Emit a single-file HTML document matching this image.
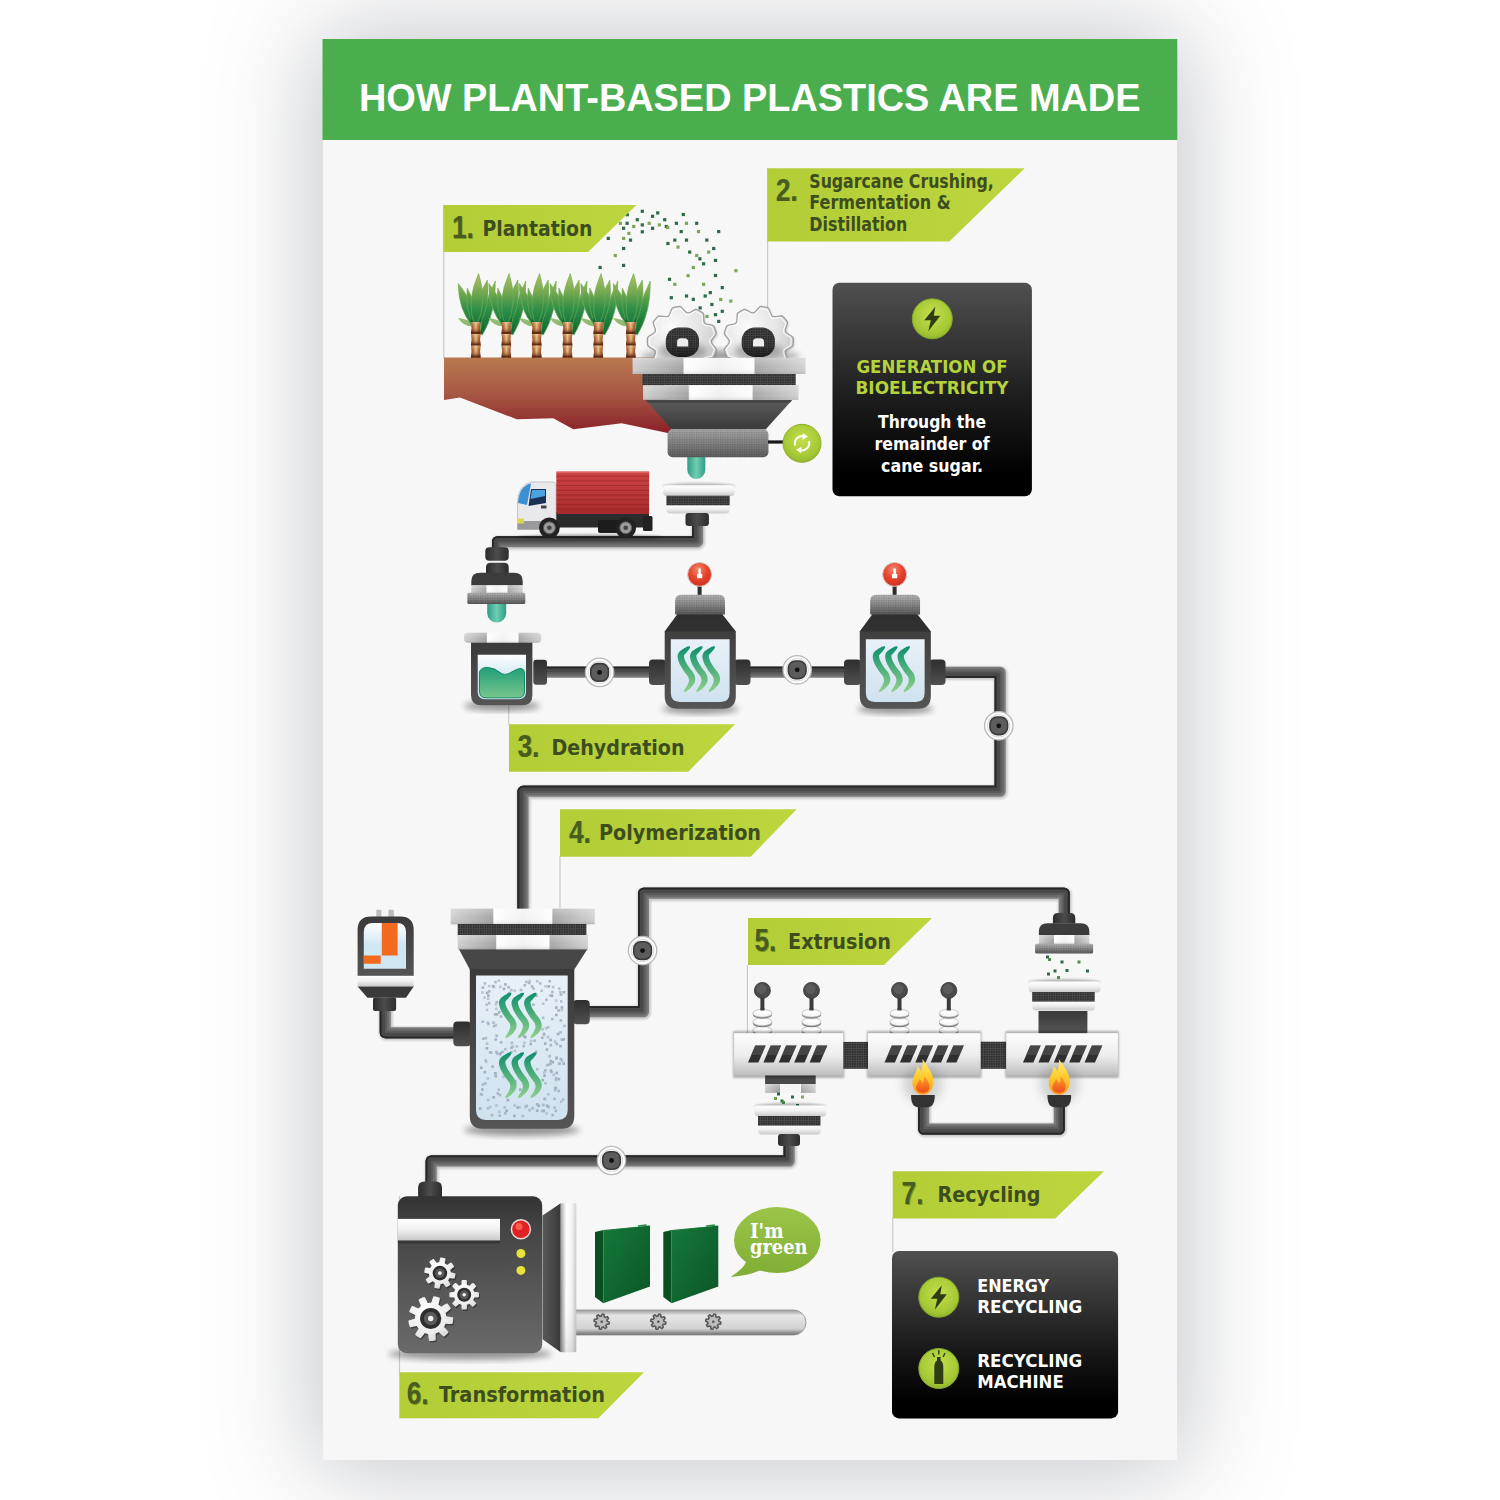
<!DOCTYPE html>
<html><head><meta charset="utf-8"><title>How plant-based plastics are made</title>
<style>
html,body{margin:0;padding:0;background:#fff;}
body{width:1500px;height:1500px;position:relative;overflow:hidden;font-family:"Liberation Sans",sans-serif;}
#poster{position:absolute;left:322.5px;top:39px;width:854.8px;height:1420.7px;background:#f7f7f7;
 box-shadow:0 2px 95px 8px rgba(80,84,96,0.34);}
svg{position:absolute;left:0;top:0;}
</style></head><body>
<div id="poster"></div>
<svg width="1500" height="1500" viewBox="0 0 1500 1500">
<defs>
<linearGradient id="gLabel" x1="0" x2="1" y1="0" y2="0"><stop offset="0" stop-color="#b3cd37"/><stop offset="1" stop-color="#bdd63e"/></linearGradient>
<linearGradient id="gBox" x1="0" x2="0" y1="0" y2="1"><stop offset="0" stop-color="#505050"/><stop offset="0.55" stop-color="#1c1c1c"/><stop offset="0.9" stop-color="#000"/></linearGradient>
<linearGradient id="gSoil" x1="0" x2="0" y1="0" y2="1"><stop offset="0" stop-color="#b9794f"/><stop offset="0.45" stop-color="#a85a45"/><stop offset="1" stop-color="#8a1f27"/></linearGradient>
<linearGradient id="gPlate" x1="0" x2="1" y1="0" y2="0">
 <stop offset="0" stop-color="#cfcfcf"/><stop offset="0.29" stop-color="#a6a6a6"/><stop offset="0.30" stop-color="#ffffff"/><stop offset="0.5" stop-color="#f1f1f1"/><stop offset="0.70" stop-color="#fdfdfd"/><stop offset="0.71" stop-color="#a9a9a9"/><stop offset="1" stop-color="#d2d2d2"/></linearGradient>
<linearGradient id="gPlateV" x1="0" x2="0" y1="0" y2="1"><stop offset="0" stop-color="#fff" stop-opacity="0.28"/><stop offset="0.6" stop-color="#fff" stop-opacity="0"/><stop offset="1" stop-color="#000" stop-opacity="0.10"/></linearGradient>
<linearGradient id="gWhiteV" x1="0" x2="0" y1="0" y2="1"><stop offset="0" stop-color="#ffffff"/><stop offset="0.5" stop-color="#f0f0f0"/><stop offset="1" stop-color="#c9c9c9"/></linearGradient>
<linearGradient id="gBlock" x1="0" x2="0" y1="0" y2="1"><stop offset="0" stop-color="#fdfdfd"/><stop offset="0.55" stop-color="#ececec"/><stop offset="1" stop-color="#bdbdbd"/></linearGradient>
<linearGradient id="gDarkV" x1="0" x2="0" y1="0" y2="1"><stop offset="0" stop-color="#2e2e2e"/><stop offset="1" stop-color="#505050"/></linearGradient>
<linearGradient id="gDarkH" x1="0" x2="1" y1="0" y2="0"><stop offset="0" stop-color="#2c2c2c"/><stop offset="0.5" stop-color="#4c4c4c"/><stop offset="1" stop-color="#2c2c2c"/></linearGradient>
<linearGradient id="gBody" x1="0" x2="0" y1="0" y2="1"><stop offset="0" stop-color="#3a3a3a"/><stop offset="1" stop-color="#555"/></linearGradient>
<linearGradient id="gGrayMesh" x1="0" x2="0" y1="0" y2="1"><stop offset="0" stop-color="#b4b4b4"/><stop offset="1" stop-color="#585858"/></linearGradient>
<linearGradient id="gCyl" x1="0" x2="0" y1="0" y2="1"><stop offset="0" stop-color="#a5a5a5"/><stop offset="0.5" stop-color="#808080"/><stop offset="1" stop-color="#5e5e5e"/></linearGradient>
<linearGradient id="gFunnel" x1="0" x2="0" y1="0" y2="1"><stop offset="0" stop-color="#5c5c5c"/><stop offset="1" stop-color="#3a3a3a"/></linearGradient>
<linearGradient id="gDrop" x1="0" x2="1" y1="0" y2="0"><stop offset="0" stop-color="#2f9d85"/><stop offset="0.5" stop-color="#6fcdb2"/><stop offset="1" stop-color="#2f9d85"/></linearGradient>
<linearGradient id="gWin" x1="0" x2="0" y1="0" y2="1"><stop offset="0" stop-color="#e9f1f8"/><stop offset="1" stop-color="#cfe2ef"/></linearGradient>
<linearGradient id="gWin2" x1="0" x2="0" y1="0" y2="1"><stop offset="0" stop-color="#ffffff"/><stop offset="0.5" stop-color="#cfe6f3"/></linearGradient>
<linearGradient id="gLiquid" x1="0" x2="0" y1="0" y2="1"><stop offset="0" stop-color="#1f9e78"/><stop offset="1" stop-color="#79c68d"/></linearGradient>
<linearGradient id="gSteam" x1="0" x2="0" y1="0" y2="1"><stop offset="0" stop-color="#0f8f6e"/><stop offset="1" stop-color="#8fd08a"/></linearGradient>
<linearGradient id="gRed" x1="0" x2="0" y1="0" y2="1"><stop offset="0" stop-color="#d04444"/><stop offset="1" stop-color="#a52a2c"/></linearGradient>
<radialGradient id="gRedBall" cx="0.45" cy="0.3" r="0.75"><stop offset="0" stop-color="#f58a72"/><stop offset="0.5" stop-color="#e8432c"/><stop offset="1" stop-color="#c9301d"/></radialGradient>
<radialGradient id="gGreenBall" cx="0.5" cy="0.4" r="0.65"><stop offset="0" stop-color="#c4df4c"/><stop offset="0.7" stop-color="#a5c935"/><stop offset="1" stop-color="#8bb02a"/></radialGradient>
<radialGradient id="gGear" cx="0.4" cy="0.35" r="0.8"><stop offset="0" stop-color="#ffffff"/><stop offset="0.6" stop-color="#ececec"/><stop offset="1" stop-color="#cfcfcf"/></radialGradient>
<radialGradient id="gGear2" cx="0.35" cy="0.3" r="0.85"><stop offset="0" stop-color="#fbfbfb"/><stop offset="0.5" stop-color="#e4e4e4"/><stop offset="1" stop-color="#bcbcbc"/></radialGradient><linearGradient id="gHubV" x1="0" x2="0" y1="0" y2="1"><stop offset="0" stop-color="#000" stop-opacity="0.05"/><stop offset="0.6" stop-color="#000" stop-opacity="0.15"/><stop offset="1" stop-color="#000" stop-opacity="0.55"/></linearGradient><linearGradient id="gRim" x1="0" x2="1" y1="0" y2="0"><stop offset="0" stop-color="#8a8a8a"/><stop offset="0.35" stop-color="#ffffff"/><stop offset="0.7" stop-color="#f2f2f2"/><stop offset="1" stop-color="#c4c4c4"/></linearGradient>
<linearGradient id="gCone" x1="0" x2="1" y1="0" y2="0"><stop offset="0" stop-color="#5a5a5a"/><stop offset="1" stop-color="#383838"/></linearGradient>
<linearGradient id="gMachine" x1="0" x2="0" y1="0" y2="1"><stop offset="0" stop-color="#333"/><stop offset="0.2" stop-color="#444"/><stop offset="1" stop-color="#6a6a6a"/></linearGradient>
<linearGradient id="gBelt" x1="0" x2="0" y1="0" y2="1"><stop offset="0" stop-color="#9c9c9c"/><stop offset="0.22" stop-color="#e6e6e6"/><stop offset="0.75" stop-color="#d2d2d2"/><stop offset="1" stop-color="#6e6e6e"/></linearGradient>
<linearGradient id="gBinder" x1="0" x2="1" y1="0" y2="1"><stop offset="0" stop-color="#15783a"/><stop offset="1" stop-color="#0b5626"/></linearGradient>
<linearGradient id="gBubble" x1="0" x2="0" y1="0" y2="1"><stop offset="0" stop-color="#9cc548"/><stop offset="1" stop-color="#7fae35"/></linearGradient>
<linearGradient id="gFlame" x1="0" x2="0" y1="0" y2="1"><stop offset="0" stop-color="#ffec6a"/><stop offset="0.5" stop-color="#ffcb2e"/><stop offset="1" stop-color="#fb9a22"/></linearGradient><linearGradient id="gFlame2" x1="0" x2="0" y1="0" y2="1"><stop offset="0" stop-color="#ffa126"/><stop offset="1" stop-color="#ee4f1c"/></linearGradient>
<linearGradient id="gStalk" x1="0" x2="1" y1="0" y2="0"><stop offset="0" stop-color="#7e3f1c"/><stop offset="0.25" stop-color="#b87440"/><stop offset="0.5" stop-color="#e9c48e"/><stop offset="0.75" stop-color="#b87440"/><stop offset="1" stop-color="#7e3f1c"/></linearGradient>
<linearGradient id="gLeaf" gradientUnits="userSpaceOnUse" x1="0" x2="0" y1="272" y2="332"><stop offset="0" stop-color="#b7c46a"/><stop offset="0.3" stop-color="#7dab50"/><stop offset="0.62" stop-color="#2f8f47"/><stop offset="1" stop-color="#0d6a35"/></linearGradient>
<linearGradient id="gStalkV" x1="0" x2="0" y1="0" y2="1"><stop offset="0" stop-color="#fbe3b8" stop-opacity="0.45"/><stop offset="0.4" stop-color="#c98552" stop-opacity="0.1"/><stop offset="0.78" stop-color="#6b2f15" stop-opacity="0.6"/><stop offset="0.86" stop-color="#5e2811" stop-opacity="0.95"/><stop offset="1" stop-color="#5e2811" stop-opacity="0.95"/></linearGradient><linearGradient id="gLeaf2" gradientUnits="userSpaceOnUse" x1="0" x2="0" y1="295" y2="335"><stop offset="0" stop-color="#b7cb78"/><stop offset="1" stop-color="#6faa55"/></linearGradient>
<pattern id="pMesh" width="2.4" height="2.4" patternUnits="userSpaceOnUse"><rect width="2.4" height="2.4" fill="#4a4a4a"/><rect width="1.4" height="1.4" fill="#262626"/></pattern>
<pattern id="pMeshL" width="2.4" height="2.4" patternUnits="userSpaceOnUse"><rect width="2.4" height="2.4" fill="#fff" fill-opacity="0"/><rect width="1.2" height="1.2" fill="#000" fill-opacity="0.18"/></pattern>
<filter id="fSoft" x="-30%" y="-30%" width="160%" height="160%"><feGaussianBlur stdDeviation="3"/></filter>
<filter id="fSoft2" x="-30%" y="-30%" width="160%" height="160%"><feGaussianBlur stdDeviation="1.2"/></filter>
<filter id="fGlow" x="-50%" y="-50%" width="200%" height="200%"><feGaussianBlur stdDeviation="5"/></filter>
</defs>
<rect x="322.5" y="39.0" width="854.8" height="101.0" rx="0" fill="#4aae4f" />
<text x="359" y="111" font-family="Liberation Sans, sans-serif" font-weight="bold" font-size="38" fill="#fff" textLength="781.5" lengthAdjust="spacingAndGlyphs">HOW PLANT-BASED PLASTICS ARE MADE</text>
<line x1="443.8" y1="205" x2="443.8" y2="358" stroke="#c9c9c9" stroke-width="1.2"/>
<line x1="767.6" y1="168" x2="767.6" y2="332" stroke="#c9c9c9" stroke-width="1.2"/>
<line x1="508.7" y1="703" x2="508.7" y2="725" stroke="#c9c9c9" stroke-width="1.2"/>
<line x1="560" y1="856" x2="560" y2="908" stroke="#c9c9c9" stroke-width="1.2"/>
<line x1="747.4" y1="965" x2="747.4" y2="1034" stroke="#c9c9c9" stroke-width="1.2"/>
<line x1="399.5" y1="1196" x2="399.5" y2="1373" stroke="#c9c9c9" stroke-width="1.2"/>
<line x1="892.8" y1="1218" x2="892.8" y2="1252" stroke="#c9c9c9" stroke-width="1.2"/>
<polygon points="444,357.5 660,357.5 672,434 670,433.5 621.7,423.3 573.3,429.2 553.3,418.3 516.7,419.2 460,397.5 444,400" fill="url(#gSoil)"/>
<path d="M473.3,326.1 Q464.3,327.1 457.8,318.0 Q467.7,319.3 474.3,323.9Z" fill="url(#gLeaf2)" opacity="0.9"/>
<path d="M472.8,324.6 Q463.2,316.3 460.3,301.0 Q472.2,311.0 474.8,323.4Z" fill="url(#gLeaf2)" opacity="0.9"/>
<path d="M478.7,332.6 Q477.7,314.7 491.8,298.0 Q491.2,319.3 480.9,333.4Z" fill="url(#gLeaf2)" opacity="0.95"/>
<path d="M472.2,325.4 Q458.3,309.3 458.3,283.5 Q474.8,303.4 474.4,324.6Z" fill="url(#gLeaf)" opacity="1" stroke="#6fae57" stroke-width="0.6"/>
<path d="M480.1,334.2 Q481.2,308.8 495.3,281.0 Q495.9,312.6 482.5,334.8Z" fill="url(#gLeaf)" opacity="1" stroke="#6fae57" stroke-width="0.6"/>
<path d="M476.6,324.8 Q473.5,302.9 487.3,280.0 Q490.6,306.6 479.0,325.2Z" fill="url(#gLeaf)" opacity="1" stroke="#6fae57" stroke-width="0.6"/>
<path d="M473.6,325.2 Q464.7,309.7 467.3,288.0 Q478.1,307.0 476.0,324.8Z" fill="url(#gLeaf)" opacity="1" stroke="#6fae57" stroke-width="0.6"/>
<path d="M474.3,324.9 Q466.0,301.2 478.6,273.5 Q487.8,302.5 476.7,325.1Z" fill="url(#gLeaf)" opacity="1" stroke="#6fae57" stroke-width="0.6"/>
<path d="M470.8,318 Q475.8,327 481.8,318 L480.8,324 L470.8,324Z" fill="#0e6733"/>
<path d="M471.0,322 L480.6,322 Q479.4,328.0 480.6,334 L471.0,334 Q472.20000000000005,328.0 471.0,322Z" fill="url(#gStalk)"/>
<rect x="471.0" y="322" width="9.6" height="12.0" fill="url(#gStalkV)"/>
<path d="M471.0,334 L480.6,334 Q479.4,339.85 480.6,345.7 L471.0,345.7 Q472.20000000000005,339.85 471.0,334Z" fill="url(#gStalk)"/>
<rect x="471.0" y="334" width="9.6" height="11.7" fill="url(#gStalkV)"/>
<path d="M471.0,345.7 L480.6,345.7 Q479.4,351.75 480.6,357.8 L471.0,357.8 Q472.20000000000005,351.75 471.0,345.7Z" fill="url(#gStalk)"/>
<rect x="471.0" y="345.7" width="9.6" height="12.1" fill="url(#gStalkV)"/>
<path d="M503.8,326.1 Q494.8,327.1 488.3,318.0 Q498.2,319.3 504.8,323.9Z" fill="url(#gLeaf2)" opacity="0.9"/>
<path d="M503.3,324.6 Q493.7,316.3 490.8,301.0 Q502.7,311.0 505.3,323.4Z" fill="url(#gLeaf2)" opacity="0.9"/>
<path d="M509.2,332.6 Q508.2,314.7 522.3,298.0 Q521.7,319.3 511.4,333.4Z" fill="url(#gLeaf2)" opacity="0.95"/>
<path d="M502.7,325.4 Q488.8,309.3 488.8,283.5 Q505.3,303.4 504.9,324.6Z" fill="url(#gLeaf)" opacity="1" stroke="#6fae57" stroke-width="0.6"/>
<path d="M510.6,334.2 Q511.7,308.8 525.8,281.0 Q526.4,312.6 513.0,334.8Z" fill="url(#gLeaf)" opacity="1" stroke="#6fae57" stroke-width="0.6"/>
<path d="M507.1,324.8 Q504.0,302.9 517.8,280.0 Q521.1,306.6 509.5,325.2Z" fill="url(#gLeaf)" opacity="1" stroke="#6fae57" stroke-width="0.6"/>
<path d="M504.1,325.2 Q495.2,309.7 497.8,288.0 Q508.6,307.0 506.5,324.8Z" fill="url(#gLeaf)" opacity="1" stroke="#6fae57" stroke-width="0.6"/>
<path d="M504.8,324.9 Q496.5,301.2 509.1,273.5 Q518.3,302.5 507.2,325.1Z" fill="url(#gLeaf)" opacity="1" stroke="#6fae57" stroke-width="0.6"/>
<path d="M501.3,318 Q506.3,327 512.3,318 L511.3,324 L501.3,324Z" fill="#0e6733"/>
<path d="M501.5,322 L511.1,322 Q509.9,328.0 511.1,334 L501.5,334 Q502.70000000000005,328.0 501.5,322Z" fill="url(#gStalk)"/>
<rect x="501.5" y="322" width="9.6" height="12.0" fill="url(#gStalkV)"/>
<path d="M501.5,334 L511.1,334 Q509.9,339.85 511.1,345.7 L501.5,345.7 Q502.70000000000005,339.85 501.5,334Z" fill="url(#gStalk)"/>
<rect x="501.5" y="334" width="9.6" height="11.7" fill="url(#gStalkV)"/>
<path d="M501.5,345.7 L511.1,345.7 Q509.9,351.75 511.1,357.8 L501.5,357.8 Q502.70000000000005,351.75 501.5,345.7Z" fill="url(#gStalk)"/>
<rect x="501.5" y="345.7" width="9.6" height="12.1" fill="url(#gStalkV)"/>
<path d="M534.2,326.1 Q525.2,327.1 518.7,318.0 Q528.6,319.3 535.2,323.9Z" fill="url(#gLeaf2)" opacity="0.9"/>
<path d="M533.7,324.6 Q524.1,316.3 521.2,301.0 Q533.1,311.0 535.7,323.4Z" fill="url(#gLeaf2)" opacity="0.9"/>
<path d="M539.6,332.6 Q538.6,314.7 552.7,298.0 Q552.1,319.3 541.8,333.4Z" fill="url(#gLeaf2)" opacity="0.95"/>
<path d="M533.1,325.4 Q519.2,309.3 519.2,283.5 Q535.7,303.4 535.3,324.6Z" fill="url(#gLeaf)" opacity="1" stroke="#6fae57" stroke-width="0.6"/>
<path d="M541.0,334.2 Q542.1,308.8 556.2,281.0 Q556.8,312.6 543.4,334.8Z" fill="url(#gLeaf)" opacity="1" stroke="#6fae57" stroke-width="0.6"/>
<path d="M537.5,324.8 Q534.4,302.9 548.2,280.0 Q551.5,306.6 539.9,325.2Z" fill="url(#gLeaf)" opacity="1" stroke="#6fae57" stroke-width="0.6"/>
<path d="M534.5,325.2 Q525.6,309.7 528.2,288.0 Q539.0,307.0 536.9,324.8Z" fill="url(#gLeaf)" opacity="1" stroke="#6fae57" stroke-width="0.6"/>
<path d="M535.2,324.9 Q526.9,301.2 539.5,273.5 Q548.7,302.5 537.6,325.1Z" fill="url(#gLeaf)" opacity="1" stroke="#6fae57" stroke-width="0.6"/>
<path d="M531.7,318 Q536.7,327 542.7,318 L541.7,324 L531.7,324Z" fill="#0e6733"/>
<path d="M531.9000000000001,322 L541.5,322 Q540.3000000000001,328.0 541.5,334 L531.9000000000001,334 Q533.1,328.0 531.9000000000001,322Z" fill="url(#gStalk)"/>
<rect x="531.9000000000001" y="322" width="9.6" height="12.0" fill="url(#gStalkV)"/>
<path d="M531.9000000000001,334 L541.5,334 Q540.3000000000001,339.85 541.5,345.7 L531.9000000000001,345.7 Q533.1,339.85 531.9000000000001,334Z" fill="url(#gStalk)"/>
<rect x="531.9000000000001" y="334" width="9.6" height="11.7" fill="url(#gStalkV)"/>
<path d="M531.9000000000001,345.7 L541.5,345.7 Q540.3000000000001,351.75 541.5,357.8 L531.9000000000001,357.8 Q533.1,351.75 531.9000000000001,345.7Z" fill="url(#gStalk)"/>
<rect x="531.9000000000001" y="345.7" width="9.6" height="12.1" fill="url(#gStalkV)"/>
<path d="M565.0,326.1 Q556.0,327.1 549.5,318.0 Q559.4,319.3 566.0,323.9Z" fill="url(#gLeaf2)" opacity="0.9"/>
<path d="M564.5,324.6 Q554.9,316.3 552.0,301.0 Q563.9,311.0 566.5,323.4Z" fill="url(#gLeaf2)" opacity="0.9"/>
<path d="M570.4,332.6 Q569.4,314.7 583.5,298.0 Q582.9,319.3 572.6,333.4Z" fill="url(#gLeaf2)" opacity="0.95"/>
<path d="M563.9,325.4 Q550.0,309.3 550.0,283.5 Q566.5,303.4 566.1,324.6Z" fill="url(#gLeaf)" opacity="1" stroke="#6fae57" stroke-width="0.6"/>
<path d="M571.8,334.2 Q572.9,308.8 587.0,281.0 Q587.6,312.6 574.2,334.8Z" fill="url(#gLeaf)" opacity="1" stroke="#6fae57" stroke-width="0.6"/>
<path d="M568.3,324.8 Q565.2,302.9 579.0,280.0 Q582.3,306.6 570.7,325.2Z" fill="url(#gLeaf)" opacity="1" stroke="#6fae57" stroke-width="0.6"/>
<path d="M565.3,325.2 Q556.4,309.7 559.0,288.0 Q569.8,307.0 567.7,324.8Z" fill="url(#gLeaf)" opacity="1" stroke="#6fae57" stroke-width="0.6"/>
<path d="M566.0,324.9 Q557.7,301.2 570.3,273.5 Q579.5,302.5 568.4,325.1Z" fill="url(#gLeaf)" opacity="1" stroke="#6fae57" stroke-width="0.6"/>
<path d="M562.5,318 Q567.5,327 573.5,318 L572.5,324 L562.5,324Z" fill="#0e6733"/>
<path d="M562.7,322 L572.3,322 Q571.1,328.0 572.3,334 L562.7,334 Q563.9,328.0 562.7,322Z" fill="url(#gStalk)"/>
<rect x="562.7" y="322" width="9.6" height="12.0" fill="url(#gStalkV)"/>
<path d="M562.7,334 L572.3,334 Q571.1,339.85 572.3,345.7 L562.7,345.7 Q563.9,339.85 562.7,334Z" fill="url(#gStalk)"/>
<rect x="562.7" y="334" width="9.6" height="11.7" fill="url(#gStalkV)"/>
<path d="M562.7,345.7 L572.3,345.7 Q571.1,351.75 572.3,357.8 L562.7,357.8 Q563.9,351.75 562.7,345.7Z" fill="url(#gStalk)"/>
<rect x="562.7" y="345.7" width="9.6" height="12.1" fill="url(#gStalkV)"/>
<path d="M595.8,326.1 Q586.8,327.1 580.3,318.0 Q590.2,319.3 596.8,323.9Z" fill="url(#gLeaf2)" opacity="0.9"/>
<path d="M595.3,324.6 Q585.7,316.3 582.8,301.0 Q594.7,311.0 597.3,323.4Z" fill="url(#gLeaf2)" opacity="0.9"/>
<path d="M601.2,332.6 Q600.2,314.7 614.3,298.0 Q613.7,319.3 603.4,333.4Z" fill="url(#gLeaf2)" opacity="0.95"/>
<path d="M594.7,325.4 Q580.8,309.3 580.8,283.5 Q597.3,303.4 596.9,324.6Z" fill="url(#gLeaf)" opacity="1" stroke="#6fae57" stroke-width="0.6"/>
<path d="M602.6,334.2 Q603.7,308.8 617.8,281.0 Q618.4,312.6 605.0,334.8Z" fill="url(#gLeaf)" opacity="1" stroke="#6fae57" stroke-width="0.6"/>
<path d="M599.1,324.8 Q596.0,302.9 609.8,280.0 Q613.1,306.6 601.5,325.2Z" fill="url(#gLeaf)" opacity="1" stroke="#6fae57" stroke-width="0.6"/>
<path d="M596.1,325.2 Q587.2,309.7 589.8,288.0 Q600.6,307.0 598.5,324.8Z" fill="url(#gLeaf)" opacity="1" stroke="#6fae57" stroke-width="0.6"/>
<path d="M596.8,324.9 Q588.5,301.2 601.1,273.5 Q610.3,302.5 599.2,325.1Z" fill="url(#gLeaf)" opacity="1" stroke="#6fae57" stroke-width="0.6"/>
<path d="M593.3,318 Q598.3,327 604.3,318 L603.3,324 L593.3,324Z" fill="#0e6733"/>
<path d="M593.5,322 L603.0999999999999,322 Q601.9,328.0 603.0999999999999,334 L593.5,334 Q594.6999999999999,328.0 593.5,322Z" fill="url(#gStalk)"/>
<rect x="593.5" y="322" width="9.6" height="12.0" fill="url(#gStalkV)"/>
<path d="M593.5,334 L603.0999999999999,334 Q601.9,339.85 603.0999999999999,345.7 L593.5,345.7 Q594.6999999999999,339.85 593.5,334Z" fill="url(#gStalk)"/>
<rect x="593.5" y="334" width="9.6" height="11.7" fill="url(#gStalkV)"/>
<path d="M593.5,345.7 L603.0999999999999,345.7 Q601.9,351.75 603.0999999999999,357.8 L593.5,357.8 Q594.6999999999999,351.75 593.5,345.7Z" fill="url(#gStalk)"/>
<rect x="593.5" y="345.7" width="9.6" height="12.1" fill="url(#gStalkV)"/>
<path d="M628.3,326.1 Q619.3,327.1 612.8,318.0 Q622.7,319.3 629.3,323.9Z" fill="url(#gLeaf2)" opacity="0.9"/>
<path d="M627.8,324.6 Q618.2,316.3 615.3,301.0 Q627.2,311.0 629.8,323.4Z" fill="url(#gLeaf2)" opacity="0.9"/>
<path d="M633.7,332.6 Q632.7,314.7 646.8,298.0 Q646.2,319.3 635.9,333.4Z" fill="url(#gLeaf2)" opacity="0.95"/>
<path d="M627.2,325.4 Q613.3,309.3 613.3,283.5 Q629.8,303.4 629.4,324.6Z" fill="url(#gLeaf)" opacity="1" stroke="#6fae57" stroke-width="0.6"/>
<path d="M635.1,334.2 Q636.2,308.8 650.3,281.0 Q650.9,312.6 637.5,334.8Z" fill="url(#gLeaf)" opacity="1" stroke="#6fae57" stroke-width="0.6"/>
<path d="M631.6,324.8 Q628.5,302.9 642.3,280.0 Q645.6,306.6 634.0,325.2Z" fill="url(#gLeaf)" opacity="1" stroke="#6fae57" stroke-width="0.6"/>
<path d="M628.6,325.2 Q619.7,309.7 622.3,288.0 Q633.1,307.0 631.0,324.8Z" fill="url(#gLeaf)" opacity="1" stroke="#6fae57" stroke-width="0.6"/>
<path d="M629.3,324.9 Q621.0,301.2 633.6,273.5 Q642.8,302.5 631.7,325.1Z" fill="url(#gLeaf)" opacity="1" stroke="#6fae57" stroke-width="0.6"/>
<path d="M625.8,318 Q630.8,327 636.8,318 L635.8,324 L625.8,324Z" fill="#0e6733"/>
<path d="M626.0,322 L635.5999999999999,322 Q634.4,328.0 635.5999999999999,334 L626.0,334 Q627.1999999999999,328.0 626.0,322Z" fill="url(#gStalk)"/>
<rect x="626.0" y="322" width="9.6" height="12.0" fill="url(#gStalkV)"/>
<path d="M626.0,334 L635.5999999999999,334 Q634.4,339.85 635.5999999999999,345.7 L626.0,345.7 Q627.1999999999999,339.85 626.0,334Z" fill="url(#gStalk)"/>
<rect x="626.0" y="334" width="9.6" height="11.7" fill="url(#gStalkV)"/>
<path d="M626.0,345.7 L635.5999999999999,345.7 Q634.4,351.75 635.5999999999999,357.8 L626.0,357.8 Q627.1999999999999,351.75 626.0,345.7Z" fill="url(#gStalk)"/>
<rect x="626.0" y="345.7" width="9.6" height="12.1" fill="url(#gStalkV)"/>
<rect x="640.7" y="209.7" width="3.2" height="3.2" fill="#2f6a46"/>
<rect x="656.1" y="211.3" width="3.2" height="3.2" fill="#2f6a46"/>
<rect x="681.7" y="212.9" width="3.2" height="3.2" fill="#2f6a46"/>
<rect x="651.0" y="214.7" width="3.2" height="3.2" fill="#2f6a46"/>
<rect x="625.7" y="213.1" width="3.2" height="3.2" fill="#2f6a46"/>
<rect x="635.7" y="218.1" width="3.2" height="3.2" fill="#2f6a46"/>
<rect x="663.1" y="218.1" width="3.2" height="3.2" fill="#2f6a46"/>
<rect x="625.5" y="221.7" width="3.2" height="3.2" fill="#2f6a46"/>
<rect x="674.8" y="221.7" width="3.2" height="3.2" fill="#2f6a46"/>
<rect x="695.1" y="221.7" width="3.2" height="3.2" fill="#2f6a46"/>
<rect x="640.7" y="223.3" width="3.2" height="3.2" fill="#2f6a46"/>
<rect x="622.0" y="226.7" width="3.2" height="3.2" fill="#2f6a46"/>
<rect x="651.0" y="226.7" width="3.2" height="3.2" fill="#2f6a46"/>
<rect x="664.7" y="224.9" width="3.2" height="3.2" fill="#2f6a46"/>
<rect x="679.6" y="230.0" width="3.2" height="3.2" fill="#2f6a46"/>
<rect x="640.7" y="230.2" width="3.2" height="3.2" fill="#2f6a46"/>
<rect x="717.1" y="230.0" width="3.2" height="3.2" fill="#2f6a46"/>
<rect x="606.7" y="236.8" width="3.2" height="3.2" fill="#2f6a46"/>
<rect x="628.9" y="238.5" width="3.2" height="3.2" fill="#2f6a46"/>
<rect x="673.2" y="238.5" width="3.2" height="3.2" fill="#2f6a46"/>
<rect x="684.9" y="238.5" width="3.2" height="3.2" fill="#2f6a46"/>
<rect x="705.2" y="238.5" width="3.2" height="3.2" fill="#2f6a46"/>
<rect x="666.3" y="241.9" width="3.2" height="3.2" fill="#2f6a46"/>
<rect x="622.0" y="246.9" width="3.2" height="3.2" fill="#2f6a46"/>
<rect x="712.1" y="246.9" width="3.2" height="3.2" fill="#2f6a46"/>
<rect x="688.1" y="250.5" width="3.2" height="3.2" fill="#2f6a46"/>
<rect x="698.3" y="257.2" width="3.2" height="3.2" fill="#2f6a46"/>
<rect x="702.0" y="262.2" width="3.2" height="3.2" fill="#2f6a46"/>
<rect x="713.9" y="258.8" width="3.2" height="3.2" fill="#2f6a46"/>
<rect x="622.0" y="263.8" width="3.2" height="3.2" fill="#2f6a46"/>
<rect x="598.5" y="265.9" width="3.2" height="3.2" fill="#2f6a46"/>
<rect x="713.9" y="273.9" width="3.2" height="3.2" fill="#2f6a46"/>
<rect x="667.9" y="277.7" width="3.2" height="3.2" fill="#2f6a46"/>
<rect x="720.7" y="286.0" width="3.2" height="3.2" fill="#2f6a46"/>
<rect x="708.7" y="291.0" width="3.2" height="3.2" fill="#2f6a46"/>
<rect x="684.9" y="294.4" width="3.2" height="3.2" fill="#2f6a46"/>
<rect x="703.6" y="294.4" width="3.2" height="3.2" fill="#2f6a46"/>
<rect x="669.7" y="296.1" width="3.2" height="3.2" fill="#2f6a46"/>
<rect x="691.7" y="297.7" width="3.2" height="3.2" fill="#2f6a46"/>
<rect x="710.3" y="302.9" width="3.2" height="3.2" fill="#2f6a46"/>
<rect x="698.6" y="306.3" width="3.2" height="3.2" fill="#2f6a46"/>
<rect x="720.7" y="309.7" width="3.2" height="3.2" fill="#2f6a46"/>
<rect x="713.9" y="313.1" width="3.2" height="3.2" fill="#2f6a46"/>
<rect x="717.1" y="319.8" width="3.2" height="3.2" fill="#2f6a46"/>
<rect x="618.8" y="221.7" width="3.2" height="3.2" fill="#7fa55a"/>
<rect x="647.6" y="221.7" width="3.2" height="3.2" fill="#7fa55a"/>
<rect x="657.7" y="223.3" width="3.2" height="3.2" fill="#7fa55a"/>
<rect x="632.1" y="224.9" width="3.2" height="3.2" fill="#7fa55a"/>
<rect x="684.9" y="221.7" width="3.2" height="3.2" fill="#7fa55a"/>
<rect x="696.9" y="230.0" width="3.2" height="3.2" fill="#7fa55a"/>
<rect x="627.3" y="231.8" width="3.2" height="3.2" fill="#7fa55a"/>
<rect x="622.0" y="236.8" width="3.2" height="3.2" fill="#7fa55a"/>
<rect x="676.4" y="245.5" width="3.2" height="3.2" fill="#7fa55a"/>
<rect x="707.1" y="250.5" width="3.2" height="3.2" fill="#7fa55a"/>
<rect x="695.1" y="253.9" width="3.2" height="3.2" fill="#7fa55a"/>
<rect x="613.7" y="253.9" width="3.2" height="3.2" fill="#7fa55a"/>
<rect x="691.7" y="265.9" width="3.2" height="3.2" fill="#7fa55a"/>
<rect x="734.3" y="269.1" width="3.2" height="3.2" fill="#7fa55a"/>
<rect x="686.5" y="274.1" width="3.2" height="3.2" fill="#7fa55a"/>
<rect x="673.2" y="282.7" width="3.2" height="3.2" fill="#7fa55a"/>
<rect x="702.0" y="282.7" width="3.2" height="3.2" fill="#7fa55a"/>
<rect x="719.1" y="297.9" width="3.2" height="3.2" fill="#7fa55a"/>
<rect x="729.2" y="299.5" width="3.2" height="3.2" fill="#7fa55a"/>
<rect x="705.4" y="314.8" width="3.2" height="3.2" fill="#7fa55a"/>
<rect x="666.1" y="225.9" width="3.2" height="3.2" fill="#7fa55a"/>
<polygon points="443.3,205 636.5,205 588,252 443.3,252" fill="url(#gLabel)"/>
<text x="452.7" y="238.8" font-family="Liberation Sans, sans-serif" font-weight="bold" font-size="31.5" fill="#7c9a22" textLength="21.8" lengthAdjust="spacingAndGlyphs">1.</text>
<text x="451.9" y="238" font-family="Liberation Sans, sans-serif" font-weight="bold" font-size="31.5" fill="#485c20" textLength="21.8" lengthAdjust="spacingAndGlyphs">1.</text>
<text x="482.5" y="236" font-family="DejaVu Sans Condensed, DejaVu Sans, Liberation Sans, sans-serif" font-weight="bold" font-size="21" fill="#3d4d1e" textLength="110" lengthAdjust="spacingAndGlyphs">Plantation</text>
<polygon points="767.4,168.2 1024.7,168.2 949.3,241.6 767.4,241.6" fill="url(#gLabel)"/>
<text x="776.5999999999999" y="201.4" font-family="Liberation Sans, sans-serif" font-weight="bold" font-size="31.5" fill="#7c9a22" textLength="21.8" lengthAdjust="spacingAndGlyphs">2.</text>
<text x="775.8" y="200.6" font-family="Liberation Sans, sans-serif" font-weight="bold" font-size="31.5" fill="#485c20" textLength="21.8" lengthAdjust="spacingAndGlyphs">2.</text>
<text x="809.3" y="187.7" font-family="DejaVu Sans Condensed, DejaVu Sans, Liberation Sans, sans-serif" font-weight="bold" font-size="19.2" fill="#3d4d1e" textLength="184.5" lengthAdjust="spacingAndGlyphs">Sugarcane Crushing,</text>
<text x="809.3" y="209.2" font-family="DejaVu Sans Condensed, DejaVu Sans, Liberation Sans, sans-serif" font-weight="bold" font-size="19.2" fill="#3d4d1e" textLength="141.5" lengthAdjust="spacingAndGlyphs">Fermentation &amp;</text>
<text x="809.3" y="230.7" font-family="DejaVu Sans Condensed, DejaVu Sans, Liberation Sans, sans-serif" font-weight="bold" font-size="19.2" fill="#3d4d1e" textLength="98" lengthAdjust="spacingAndGlyphs">Distillation</text>
<polygon points="509,724.3 735,724.3 688.3,771.7 509,771.7" fill="url(#gLabel)"/>
<text x="518.3" y="757.3" font-family="Liberation Sans, sans-serif" font-weight="bold" font-size="31.5" fill="#7c9a22" textLength="21.8" lengthAdjust="spacingAndGlyphs">3.</text>
<text x="517.5" y="756.5" font-family="Liberation Sans, sans-serif" font-weight="bold" font-size="31.5" fill="#485c20" textLength="21.8" lengthAdjust="spacingAndGlyphs">3.</text>
<text x="551.5" y="755" font-family="DejaVu Sans Condensed, DejaVu Sans, Liberation Sans, sans-serif" font-weight="bold" font-size="21" fill="#3d4d1e" textLength="133" lengthAdjust="spacingAndGlyphs">Dehydration</text>
<polygon points="560,809.3 796.7,809.3 750.7,856.7 560,856.7" fill="url(#gLabel)"/>
<text x="569.8" y="843.3" font-family="Liberation Sans, sans-serif" font-weight="bold" font-size="31.5" fill="#7c9a22" textLength="21.8" lengthAdjust="spacingAndGlyphs">4.</text>
<text x="569" y="842.5" font-family="Liberation Sans, sans-serif" font-weight="bold" font-size="31.5" fill="#485c20" textLength="21.8" lengthAdjust="spacingAndGlyphs">4.</text>
<text x="599" y="840.4" font-family="DejaVu Sans Condensed, DejaVu Sans, Liberation Sans, sans-serif" font-weight="bold" font-size="21" fill="#3d4d1e" textLength="162" lengthAdjust="spacingAndGlyphs">Polymerization</text>
<polygon points="748,918 932,918 884,965 748,965" fill="url(#gLabel)"/>
<text x="755.1999999999999" y="951.8" font-family="Liberation Sans, sans-serif" font-weight="bold" font-size="31.5" fill="#7c9a22" textLength="21.8" lengthAdjust="spacingAndGlyphs">5.</text>
<text x="754.4" y="951" font-family="Liberation Sans, sans-serif" font-weight="bold" font-size="31.5" fill="#485c20" textLength="21.8" lengthAdjust="spacingAndGlyphs">5.</text>
<text x="788" y="948.5" font-family="DejaVu Sans Condensed, DejaVu Sans, Liberation Sans, sans-serif" font-weight="bold" font-size="21" fill="#3d4d1e" textLength="103" lengthAdjust="spacingAndGlyphs">Extrusion</text>
<polygon points="399.3,1372.3 644,1372.3 598.3,1418.3 399.3,1418.3" fill="url(#gLabel)"/>
<text x="407.5" y="1404.8" font-family="Liberation Sans, sans-serif" font-weight="bold" font-size="31.5" fill="#7c9a22" textLength="21.8" lengthAdjust="spacingAndGlyphs">6.</text>
<text x="406.7" y="1404" font-family="Liberation Sans, sans-serif" font-weight="bold" font-size="31.5" fill="#485c20" textLength="21.8" lengthAdjust="spacingAndGlyphs">6.</text>
<text x="439" y="1401.5" font-family="DejaVu Sans Condensed, DejaVu Sans, Liberation Sans, sans-serif" font-weight="bold" font-size="21" fill="#3d4d1e" textLength="166" lengthAdjust="spacingAndGlyphs">Transformation</text>
<polygon points="892.7,1171.2 1104,1171.2 1055.2,1218.5 892.7,1218.5" fill="url(#gLabel)"/>
<text x="902.4" y="1205.1" font-family="Liberation Sans, sans-serif" font-weight="bold" font-size="31.5" fill="#7c9a22" textLength="21.8" lengthAdjust="spacingAndGlyphs">7.</text>
<text x="901.6" y="1204.3" font-family="Liberation Sans, sans-serif" font-weight="bold" font-size="31.5" fill="#485c20" textLength="21.8" lengthAdjust="spacingAndGlyphs">7.</text>
<text x="937.5" y="1201.5" font-family="DejaVu Sans Condensed, DejaVu Sans, Liberation Sans, sans-serif" font-weight="bold" font-size="21" fill="#3d4d1e" textLength="103" lengthAdjust="spacingAndGlyphs">Recycling</text>
<rect x="832.5" y="282.8" width="199.4" height="213.5" rx="7" fill="url(#gBox)" />
<circle cx="932.3" cy="318.8" r="20" fill="url(#gGreenBall)" stroke="#86a82c" stroke-width="1"/>
<path d="M935.3,306.8 L924.3,320.3 L930.8,320.3 L928.3,331.3 L940.3,315.8 L933.8,315.8 Z" fill="#2f3d14"/>
<text x="932" y="372.7" text-anchor="middle" font-family="DejaVu Sans Condensed, DejaVu Sans, Liberation Sans, sans-serif" font-weight="bold" font-size="17" fill="#b5d33b" textLength="151" lengthAdjust="spacingAndGlyphs">GENERATION OF</text>
<text x="932" y="394" text-anchor="middle" font-family="DejaVu Sans Condensed, DejaVu Sans, Liberation Sans, sans-serif" font-weight="bold" font-size="17" fill="#b5d33b" textLength="153" lengthAdjust="spacingAndGlyphs">BIOELECTRICITY</text>
<text x="932" y="428.3" text-anchor="middle" font-family="DejaVu Sans Condensed, DejaVu Sans, Liberation Sans, sans-serif" font-weight="bold" font-size="17.5" fill="#fff" textLength="108" lengthAdjust="spacingAndGlyphs">Through the</text>
<text x="932" y="450" text-anchor="middle" font-family="DejaVu Sans Condensed, DejaVu Sans, Liberation Sans, sans-serif" font-weight="bold" font-size="17.5" fill="#fff" textLength="115" lengthAdjust="spacingAndGlyphs">remainder of</text>
<text x="932" y="471.5" text-anchor="middle" font-family="DejaVu Sans Condensed, DejaVu Sans, Liberation Sans, sans-serif" font-weight="bold" font-size="17.5" fill="#fff" textLength="102" lengthAdjust="spacingAndGlyphs">cane sugar.</text>
<rect x="892.0" y="1250.9" width="226.1" height="167.5" rx="7" fill="url(#gBox)" />
<circle cx="938.8" cy="1297.2" r="20" fill="url(#gGreenBall)" stroke="#86a82c" stroke-width="1"/>
<path d="M941.8,1285.2 L930.8,1298.7 L937.3,1298.7 L934.8,1309.7 L946.8,1294.2 L940.3,1294.2 Z" fill="#2f3d14"/>
<circle cx="938.8" cy="1368.5" r="20" fill="url(#gGreenBall)" stroke="#86a82c" stroke-width="1"/>
<path d="M934.3,1384 L934.3,1367 Q934.3,1362 937,1360.5 L937,1357 L940.6,1357 L940.6,1360.5 Q943.3,1362 943.3,1367 L943.3,1384 Z" fill="#2f3d14"/>
<path d="M938.8,1350 L938.8,1354.5 M932.5,1353 L934.5,1357 M945.1,1353 L943.1,1357" stroke="#2f3d14" stroke-width="1.4" fill="none"/>
<text x="977.2" y="1291.7" font-family="DejaVu Sans Condensed, DejaVu Sans, Liberation Sans, sans-serif" font-weight="bold" font-size="17.8" fill="#fff" textLength="72" lengthAdjust="spacingAndGlyphs">ENERGY</text>
<text x="977.2" y="1312.8" font-family="DejaVu Sans Condensed, DejaVu Sans, Liberation Sans, sans-serif" font-weight="bold" font-size="17.8" fill="#fff" textLength="105" lengthAdjust="spacingAndGlyphs">RECYCLING</text>
<text x="977.2" y="1366.8" font-family="DejaVu Sans Condensed, DejaVu Sans, Liberation Sans, sans-serif" font-weight="bold" font-size="17.8" fill="#fff" textLength="105" lengthAdjust="spacingAndGlyphs">RECYCLING</text>
<text x="977.2" y="1388.4" font-family="DejaVu Sans Condensed, DejaVu Sans, Liberation Sans, sans-serif" font-weight="bold" font-size="17.8" fill="#fff" textLength="86.5" lengthAdjust="spacingAndGlyphs">MACHINE</text>
<ellipse cx="720" cy="356" rx="80" ry="6" fill="#000" opacity="0.35" filter="url(#fSoft)"/>
<path d="M715.3,353.4 L715.0,354.1 L714.7,354.8 L714.4,355.5 L714.1,356.2 L713.8,356.9 L713.0,357.4 L712.0,357.7 L711.0,357.9 L709.9,358.1 L708.9,358.3 L708.0,358.5 L707.1,358.7 L706.3,359.0 L705.6,359.3 L705.1,359.6 L704.6,360.1 L704.2,360.6 L704.0,361.2 L703.8,361.9 L703.7,362.8 L703.7,363.7 L703.6,364.6 L703.6,365.6 L703.6,366.7 L703.5,367.8 L703.4,368.8 L703.1,369.6 L702.4,370.1 L701.8,370.5 L701.2,370.9 L700.5,371.3 L699.9,371.7 L699.2,372.1 L698.5,372.5 L697.9,372.8 L697.2,373.1 L696.5,373.4 L695.6,373.3 L694.6,372.9 L693.7,372.4 L692.7,371.9 L691.8,371.4 L691.0,371.0 L690.2,370.6 L689.4,370.2 L688.7,370.0 L688.0,369.9 L687.4,370.0 L686.8,370.1 L686.2,370.5 L685.6,370.9 L685.0,371.5 L684.4,372.1 L683.7,372.8 L683.1,373.6 L682.4,374.4 L681.6,375.2 L680.9,375.9 L680.1,376.3 L679.3,376.3 L678.6,376.2 L677.8,376.1 L677.0,376.0 L676.3,375.9 L675.5,375.7 L674.8,375.6 L674.0,375.4 L673.3,375.2 L672.6,375.0 L672.0,374.3 L671.5,373.4 L671.1,372.4 L670.7,371.4 L670.3,370.5 L670.0,369.6 L669.6,368.7 L669.3,368.0 L668.8,367.4 L668.4,366.9 L667.9,366.5 L667.3,366.2 L666.6,366.1 L665.9,366.1 L665.1,366.1 L664.2,366.2 L663.2,366.3 L662.2,366.5 L661.2,366.7 L660.1,366.8 L659.0,366.8 L658.2,366.7 L657.6,366.1 L657.1,365.6 L656.6,365.0 L656.1,364.5 L655.6,363.9 L655.1,363.3 L654.6,362.7 L654.2,362.1 L653.7,361.4 L653.3,360.8 L653.3,359.9 L653.5,358.9 L653.8,357.9 L654.1,356.9 L654.5,355.9 L654.8,355.0 L655.0,354.1 L655.2,353.3 L655.3,352.6 L655.3,351.9 L655.1,351.3 L654.9,350.7 L654.4,350.2 L653.9,349.7 L653.2,349.2 L652.5,348.7 L651.7,348.2 L650.8,347.7 L649.9,347.1 L649.0,346.5 L648.2,345.9 L647.6,345.2 L647.5,344.4 L647.5,343.7 L647.4,342.9 L647.4,342.1 L647.4,341.4 L647.4,340.6 L647.4,339.8 L647.5,339.1 L647.5,338.3 L647.6,337.6 L648.2,336.9 L649.0,336.2 L649.9,335.6 L650.8,335.1 L651.7,334.6 L652.5,334.1 L653.3,333.6 L653.9,333.1 L654.5,332.6 L654.9,332.0 L655.2,331.5 L655.3,330.8 L655.3,330.2 L655.3,329.4 L655.1,328.6 L654.8,327.8 L654.5,326.8 L654.2,325.9 L653.8,324.9 L653.5,323.8 L653.3,322.8 L653.3,321.9 L653.7,321.3 L654.2,320.7 L654.7,320.1 L655.1,319.5 L655.6,318.9 L656.1,318.3 L656.6,317.7 L657.1,317.2 L657.7,316.6 L658.2,316.1 L659.1,315.9 L660.2,316.0 L661.2,316.1 L662.3,316.3 L663.3,316.4 L664.2,316.6 L665.1,316.7 L665.9,316.7 L666.7,316.7 L667.3,316.5 L667.9,316.3 L668.4,315.9 L668.9,315.4 L669.3,314.8 L669.7,314.0 L670.0,313.2 L670.4,312.3 L670.8,311.4 L671.1,310.4 L671.6,309.4 L672.0,308.5 L672.6,307.8 L673.4,307.6 L674.1,307.4 L674.9,307.2 L675.6,307.1 L676.4,306.9 L677.1,306.8 L677.9,306.7 L678.6,306.6 L679.4,306.5 L680.1,306.5 L680.9,306.9 L681.7,307.6 L682.4,308.4 L683.1,309.2 L683.8,310.0 L684.4,310.7 L685.1,311.3 L685.7,311.9 L686.3,312.3 L686.9,312.7 L687.5,312.8 L688.1,312.9 L688.8,312.8 L689.5,312.6 L690.2,312.3 L691.0,311.9 L691.9,311.4 L692.8,310.9 L693.7,310.4 L694.7,309.9 L695.6,309.5 L696.5,309.4 L697.2,309.7 L697.9,310.0 L698.6,310.4 L699.3,310.7 L699.9,311.1 L700.6,311.5 L701.2,311.9 L701.9,312.3 L702.5,312.7 L703.1,313.2 L703.4,314.0 L703.6,315.1 L703.6,316.1 L703.7,317.2 L703.7,318.2 L703.7,319.2 L703.8,320.1 L703.9,320.9 L704.0,321.6 L704.3,322.2 L704.6,322.8 L705.1,323.2 L705.7,323.6 L706.3,323.9 L707.1,324.1 L708.0,324.3 L709.0,324.5 L710.0,324.7 L711.0,324.9 L712.0,325.2 L713.0,325.5 L713.8,325.9 L714.1,326.6 L714.4,327.3 L714.7,328.0 L715.0,328.7 L715.3,329.5 L715.6,330.2 L715.8,330.9 L716.0,331.6 L716.2,332.4 L716.4,333.1 L716.1,334.0 L715.5,334.8 L714.9,335.7 L714.2,336.5 L713.6,337.3 L713.0,338.1 L712.5,338.8 L712.0,339.5 L711.7,340.1 L711.5,340.8 L711.4,341.4 L711.5,342.1 L711.7,342.7 L712.0,343.4 L712.5,344.1 L713.0,344.8 L713.6,345.5 L714.2,346.3 L714.9,347.2 L715.5,348.0 L716.1,348.9 L716.4,349.8 L716.2,350.5 L716.0,351.2 L715.8,352.0 L715.5,352.7Z" fill="#000" opacity="0.22" transform="translate(0.8,1.5)" filter="url(#fSoft2)"/>
<path d="M715.3,353.4 L715.0,354.1 L714.7,354.8 L714.4,355.5 L714.1,356.2 L713.8,356.9 L713.0,357.4 L712.0,357.7 L711.0,357.9 L709.9,358.1 L708.9,358.3 L708.0,358.5 L707.1,358.7 L706.3,359.0 L705.6,359.3 L705.1,359.6 L704.6,360.1 L704.2,360.6 L704.0,361.2 L703.8,361.9 L703.7,362.8 L703.7,363.7 L703.6,364.6 L703.6,365.6 L703.6,366.7 L703.5,367.8 L703.4,368.8 L703.1,369.6 L702.4,370.1 L701.8,370.5 L701.2,370.9 L700.5,371.3 L699.9,371.7 L699.2,372.1 L698.5,372.5 L697.9,372.8 L697.2,373.1 L696.5,373.4 L695.6,373.3 L694.6,372.9 L693.7,372.4 L692.7,371.9 L691.8,371.4 L691.0,371.0 L690.2,370.6 L689.4,370.2 L688.7,370.0 L688.0,369.9 L687.4,370.0 L686.8,370.1 L686.2,370.5 L685.6,370.9 L685.0,371.5 L684.4,372.1 L683.7,372.8 L683.1,373.6 L682.4,374.4 L681.6,375.2 L680.9,375.9 L680.1,376.3 L679.3,376.3 L678.6,376.2 L677.8,376.1 L677.0,376.0 L676.3,375.9 L675.5,375.7 L674.8,375.6 L674.0,375.4 L673.3,375.2 L672.6,375.0 L672.0,374.3 L671.5,373.4 L671.1,372.4 L670.7,371.4 L670.3,370.5 L670.0,369.6 L669.6,368.7 L669.3,368.0 L668.8,367.4 L668.4,366.9 L667.9,366.5 L667.3,366.2 L666.6,366.1 L665.9,366.1 L665.1,366.1 L664.2,366.2 L663.2,366.3 L662.2,366.5 L661.2,366.7 L660.1,366.8 L659.0,366.8 L658.2,366.7 L657.6,366.1 L657.1,365.6 L656.6,365.0 L656.1,364.5 L655.6,363.9 L655.1,363.3 L654.6,362.7 L654.2,362.1 L653.7,361.4 L653.3,360.8 L653.3,359.9 L653.5,358.9 L653.8,357.9 L654.1,356.9 L654.5,355.9 L654.8,355.0 L655.0,354.1 L655.2,353.3 L655.3,352.6 L655.3,351.9 L655.1,351.3 L654.9,350.7 L654.4,350.2 L653.9,349.7 L653.2,349.2 L652.5,348.7 L651.7,348.2 L650.8,347.7 L649.9,347.1 L649.0,346.5 L648.2,345.9 L647.6,345.2 L647.5,344.4 L647.5,343.7 L647.4,342.9 L647.4,342.1 L647.4,341.4 L647.4,340.6 L647.4,339.8 L647.5,339.1 L647.5,338.3 L647.6,337.6 L648.2,336.9 L649.0,336.2 L649.9,335.6 L650.8,335.1 L651.7,334.6 L652.5,334.1 L653.3,333.6 L653.9,333.1 L654.5,332.6 L654.9,332.0 L655.2,331.5 L655.3,330.8 L655.3,330.2 L655.3,329.4 L655.1,328.6 L654.8,327.8 L654.5,326.8 L654.2,325.9 L653.8,324.9 L653.5,323.8 L653.3,322.8 L653.3,321.9 L653.7,321.3 L654.2,320.7 L654.7,320.1 L655.1,319.5 L655.6,318.9 L656.1,318.3 L656.6,317.7 L657.1,317.2 L657.7,316.6 L658.2,316.1 L659.1,315.9 L660.2,316.0 L661.2,316.1 L662.3,316.3 L663.3,316.4 L664.2,316.6 L665.1,316.7 L665.9,316.7 L666.7,316.7 L667.3,316.5 L667.9,316.3 L668.4,315.9 L668.9,315.4 L669.3,314.8 L669.7,314.0 L670.0,313.2 L670.4,312.3 L670.8,311.4 L671.1,310.4 L671.6,309.4 L672.0,308.5 L672.6,307.8 L673.4,307.6 L674.1,307.4 L674.9,307.2 L675.6,307.1 L676.4,306.9 L677.1,306.8 L677.9,306.7 L678.6,306.6 L679.4,306.5 L680.1,306.5 L680.9,306.9 L681.7,307.6 L682.4,308.4 L683.1,309.2 L683.8,310.0 L684.4,310.7 L685.1,311.3 L685.7,311.9 L686.3,312.3 L686.9,312.7 L687.5,312.8 L688.1,312.9 L688.8,312.8 L689.5,312.6 L690.2,312.3 L691.0,311.9 L691.9,311.4 L692.8,310.9 L693.7,310.4 L694.7,309.9 L695.6,309.5 L696.5,309.4 L697.2,309.7 L697.9,310.0 L698.6,310.4 L699.3,310.7 L699.9,311.1 L700.6,311.5 L701.2,311.9 L701.9,312.3 L702.5,312.7 L703.1,313.2 L703.4,314.0 L703.6,315.1 L703.6,316.1 L703.7,317.2 L703.7,318.2 L703.7,319.2 L703.8,320.1 L703.9,320.9 L704.0,321.6 L704.3,322.2 L704.6,322.8 L705.1,323.2 L705.7,323.6 L706.3,323.9 L707.1,324.1 L708.0,324.3 L709.0,324.5 L710.0,324.7 L711.0,324.9 L712.0,325.2 L713.0,325.5 L713.8,325.9 L714.1,326.6 L714.4,327.3 L714.7,328.0 L715.0,328.7 L715.3,329.5 L715.6,330.2 L715.8,330.9 L716.0,331.6 L716.2,332.4 L716.4,333.1 L716.1,334.0 L715.5,334.8 L714.9,335.7 L714.2,336.5 L713.6,337.3 L713.0,338.1 L712.5,338.8 L712.0,339.5 L711.7,340.1 L711.5,340.8 L711.4,341.4 L711.5,342.1 L711.7,342.7 L712.0,343.4 L712.5,344.1 L713.0,344.8 L713.6,345.5 L714.2,346.3 L714.9,347.2 L715.5,348.0 L716.1,348.9 L716.4,349.8 L716.2,350.5 L716.0,351.2 L715.8,352.0 L715.5,352.7Z" fill="url(#gGear2)" stroke="#9f9f9f" stroke-width="1.3"/>
<path d="M713.2,352.6 L713.0,353.3 L712.7,354.0 L712.4,354.6 L712.1,355.3 L711.8,355.9 L711.1,356.4 L710.1,356.6 L709.1,356.9 L708.1,357.0 L707.2,357.2 L706.3,357.4 L705.4,357.6 L704.7,357.8 L704.0,358.0 L703.5,358.4 L703.1,358.8 L702.7,359.3 L702.5,359.9 L702.3,360.5 L702.3,361.3 L702.2,362.2 L702.2,363.1 L702.2,364.1 L702.2,365.1 L702.2,366.1 L702.1,367.1 L701.8,367.9 L701.2,368.3 L700.6,368.7 L700.0,369.1 L699.4,369.5 L698.8,369.8 L698.1,370.2 L697.5,370.5 L696.9,370.8 L696.2,371.1 L695.6,371.4 L694.8,371.3 L693.8,370.9 L692.9,370.4 L692.1,369.9 L691.2,369.4 L690.4,369.0 L689.7,368.6 L688.9,368.3 L688.3,368.0 L687.7,367.9 L687.1,368.0 L686.5,368.2 L685.9,368.5 L685.4,368.9 L684.8,369.4 L684.3,370.0 L683.7,370.8 L683.0,371.5 L682.4,372.3 L681.7,373.0 L681.0,373.7 L680.2,374.1 L679.5,374.1 L678.8,374.0 L678.1,373.9 L677.4,373.8 L676.7,373.7 L676.0,373.6 L675.3,373.4 L674.6,373.3 L673.9,373.1 L673.2,372.9 L672.6,372.2 L672.2,371.3 L671.8,370.4 L671.5,369.4 L671.1,368.5 L670.8,367.7 L670.5,366.9 L670.2,366.2 L669.8,365.6 L669.4,365.1 L668.9,364.8 L668.3,364.5 L667.7,364.4 L667.0,364.4 L666.2,364.4 L665.4,364.5 L664.5,364.7 L663.5,364.9 L662.5,365.0 L661.5,365.2 L660.5,365.2 L659.7,365.1 L659.2,364.6 L658.7,364.1 L658.2,363.5 L657.7,363.0 L657.3,362.5 L656.8,361.9 L656.4,361.3 L655.9,360.8 L655.5,360.2 L655.1,359.6 L655.1,358.8 L655.4,357.8 L655.7,356.8 L656.0,355.9 L656.3,354.9 L656.6,354.1 L656.9,353.3 L657.1,352.5 L657.2,351.8 L657.2,351.2 L657.0,350.6 L656.8,350.1 L656.4,349.6 L655.9,349.1 L655.2,348.7 L654.5,348.2 L653.7,347.7 L652.9,347.2 L652.0,346.7 L651.1,346.2 L650.3,345.6 L649.8,344.9 L649.7,344.2 L649.7,343.5 L649.6,342.8 L649.6,342.1 L649.6,341.4 L649.6,340.7 L649.6,339.9 L649.7,339.2 L649.7,338.5 L649.8,337.8 L650.3,337.1 L651.2,336.6 L652.0,336.0 L652.9,335.5 L653.7,335.0 L654.5,334.6 L655.2,334.1 L655.9,333.6 L656.4,333.2 L656.8,332.7 L657.0,332.1 L657.2,331.6 L657.2,330.9 L657.1,330.2 L656.9,329.5 L656.7,328.7 L656.4,327.8 L656.0,326.9 L655.7,325.9 L655.4,325.0 L655.1,324.0 L655.1,323.2 L655.5,322.6 L656.0,322.0 L656.4,321.4 L656.8,320.8 L657.3,320.3 L657.8,319.8 L658.2,319.2 L658.7,318.7 L659.2,318.2 L659.7,317.7 L660.6,317.5 L661.6,317.6 L662.6,317.7 L663.6,317.9 L664.5,318.1 L665.4,318.2 L666.3,318.3 L667.1,318.4 L667.8,318.4 L668.4,318.3 L668.9,318.0 L669.4,317.7 L669.8,317.2 L670.2,316.6 L670.5,315.9 L670.9,315.1 L671.2,314.2 L671.5,313.3 L671.9,312.4 L672.3,311.5 L672.7,310.5 L673.3,309.9 L673.9,309.7 L674.6,309.5 L675.3,309.4 L676.0,309.2 L676.7,309.1 L677.4,309.0 L678.1,308.9 L678.9,308.8 L679.6,308.7 L680.3,308.7 L681.0,309.1 L681.7,309.8 L682.4,310.5 L683.1,311.3 L683.7,312.0 L684.3,312.8 L684.9,313.4 L685.4,313.9 L686.0,314.4 L686.5,314.7 L687.1,314.8 L687.7,314.9 L688.3,314.8 L689.0,314.6 L689.7,314.2 L690.5,313.8 L691.3,313.4 L692.1,312.9 L693.0,312.4 L693.9,311.9 L694.8,311.5 L695.6,311.4 L696.3,311.7 L696.9,312.0 L697.6,312.3 L698.2,312.7 L698.8,313.0 L699.4,313.4 L700.0,313.8 L700.6,314.1 L701.2,314.5 L701.8,315.0 L702.1,315.8 L702.2,316.8 L702.3,317.8 L702.3,318.8 L702.3,319.8 L702.3,320.7 L702.3,321.5 L702.4,322.3 L702.5,323.0 L702.8,323.6 L703.1,324.1 L703.5,324.5 L704.1,324.8 L704.7,325.1 L705.5,325.3 L706.3,325.5 L707.2,325.6 L708.2,325.8 L709.1,326.0 L710.1,326.2 L711.1,326.5 L711.8,326.9 L712.1,327.6 L712.4,328.2 L712.7,328.9 L713.0,329.5 L713.2,330.2 L713.5,330.9 L713.7,331.6 L713.9,332.3 L714.1,332.9 L714.3,333.6 L714.0,334.4 L713.4,335.3 L712.8,336.1 L712.2,336.8 L711.5,337.6 L710.9,338.3 L710.4,339.0 L710.0,339.6 L709.7,340.2 L709.5,340.8 L709.4,341.4 L709.5,342.0 L709.7,342.6 L710.0,343.2 L710.4,343.9 L710.9,344.6 L711.5,345.3 L712.2,346.0 L712.8,346.8 L713.4,347.6 L714.0,348.4 L714.3,349.2 L714.1,349.9 L713.9,350.6 L713.7,351.3 L713.4,352.0Z" fill="none" stroke="#fff" stroke-width="1.2" opacity="0.8"/>
<ellipse cx="682.4" cy="351.4" rx="24" ry="9" fill="#000" opacity="0.25" filter="url(#fSoft)"/>
<rect x="665.8" y="327.4" width="33.2" height="29.5" rx="13" fill="url(#pMesh)"/>
<rect x="665.8" y="327.4" width="33.2" height="29.5" rx="13" fill="url(#gHubV)"/>
<path d="M677.1,346.59999999999997 L677.1,341.9 Q677.1,338.2 680.9,338.2 L684.4,338.2 Q688.1999999999999,338.2 688.1999999999999,341.9 L688.1999999999999,346.59999999999997 Z" fill="#ededed"/>
<path d="M793.3,341.4 L793.3,342.2 L793.3,342.9 L793.2,343.7 L793.2,344.5 L793.1,345.2 L792.5,345.9 L791.7,346.5 L790.8,347.1 L789.9,347.7 L789.0,348.2 L788.2,348.7 L787.4,349.2 L786.8,349.7 L786.2,350.2 L785.8,350.7 L785.6,351.3 L785.4,351.9 L785.4,352.6 L785.5,353.4 L785.6,354.2 L785.9,355.0 L786.2,355.9 L786.5,356.9 L786.9,357.9 L787.2,358.9 L787.4,360.0 L787.4,360.8 L787.0,361.5 L786.5,362.1 L786.1,362.7 L785.6,363.3 L785.1,363.9 L784.6,364.5 L784.1,365.0 L783.6,365.6 L783.0,366.1 L782.5,366.7 L781.6,366.9 L780.6,366.8 L779.5,366.7 L778.5,366.5 L777.5,366.4 L776.5,366.2 L775.6,366.1 L774.8,366.1 L774.0,366.1 L773.4,366.3 L772.8,366.5 L772.3,366.9 L771.8,367.4 L771.4,368.0 L771.1,368.7 L770.7,369.6 L770.3,370.5 L770.0,371.4 L769.6,372.4 L769.2,373.4 L768.7,374.3 L768.1,375.0 L767.4,375.2 L766.6,375.4 L765.9,375.6 L765.1,375.7 L764.4,375.9 L763.6,376.0 L762.9,376.1 L762.1,376.2 L761.4,376.3 L760.6,376.3 L759.8,375.9 L759.0,375.2 L758.3,374.4 L757.6,373.6 L756.9,372.8 L756.3,372.1 L755.7,371.5 L755.1,370.9 L754.5,370.5 L753.9,370.1 L753.3,370.0 L752.6,369.9 L752.0,370.0 L751.2,370.2 L750.5,370.5 L749.7,370.9 L748.8,371.4 L747.9,371.9 L747.0,372.4 L746.1,372.9 L745.1,373.3 L744.2,373.4 L743.5,373.1 L742.8,372.8 L742.1,372.4 L741.5,372.1 L740.8,371.7 L740.1,371.3 L739.5,370.9 L738.9,370.5 L738.2,370.1 L737.6,369.6 L737.3,368.8 L737.2,367.7 L737.1,366.7 L737.1,365.6 L737.0,364.6 L737.0,363.6 L737.0,362.7 L736.9,361.9 L736.7,361.2 L736.4,360.6 L736.1,360.0 L735.6,359.6 L735.1,359.2 L734.4,358.9 L733.6,358.7 L732.7,358.5 L731.8,358.3 L730.8,358.1 L729.7,357.9 L728.7,357.6 L727.7,357.3 L726.9,356.9 L726.6,356.2 L726.3,355.5 L726.0,354.8 L725.7,354.1 L725.4,353.4 L725.2,352.7 L724.9,351.9 L724.7,351.2 L724.5,350.5 L724.3,349.7 L724.6,348.9 L725.2,348.0 L725.8,347.1 L726.5,346.3 L727.1,345.5 L727.7,344.8 L728.2,344.0 L728.7,343.3 L729.0,342.7 L729.2,342.0 L729.3,341.4 L729.2,340.8 L729.0,340.1 L728.7,339.5 L728.2,338.8 L727.7,338.0 L727.1,337.3 L726.5,336.5 L725.8,335.7 L725.2,334.8 L724.6,333.9 L724.3,333.1 L724.5,332.3 L724.7,331.6 L724.9,330.9 L725.2,330.1 L725.4,329.4 L725.7,328.7 L726.0,328.0 L726.3,327.3 L726.6,326.6 L726.9,325.9 L727.7,325.5 L728.7,325.2 L729.7,324.9 L730.8,324.7 L731.8,324.5 L732.7,324.3 L733.6,324.1 L734.4,323.9 L735.1,323.6 L735.6,323.2 L736.1,322.8 L736.4,322.2 L736.7,321.6 L736.9,320.9 L737.0,320.1 L737.0,319.2 L737.0,318.2 L737.1,317.2 L737.1,316.1 L737.2,315.1 L737.3,314.0 L737.6,313.2 L738.2,312.7 L738.9,312.3 L739.5,311.9 L740.1,311.5 L740.8,311.1 L741.5,310.7 L742.1,310.4 L742.8,310.0 L743.5,309.7 L744.2,309.4 L745.1,309.5 L746.1,309.9 L747.0,310.4 L747.9,310.9 L748.8,311.4 L749.7,311.9 L750.5,312.3 L751.2,312.6 L752.0,312.8 L752.6,312.9 L753.3,312.8 L753.9,312.7 L754.5,312.3 L755.1,311.9 L755.7,311.3 L756.3,310.7 L756.9,310.0 L757.6,309.2 L758.3,308.4 L759.0,307.6 L759.8,306.9 L760.6,306.5 L761.4,306.5 L762.1,306.6 L762.9,306.7 L763.6,306.8 L764.4,306.9 L765.1,307.1 L765.9,307.2 L766.6,307.4 L767.4,307.6 L768.1,307.8 L768.7,308.5 L769.2,309.4 L769.6,310.4 L770.0,311.4 L770.3,312.3 L770.7,313.2 L771.1,314.1 L771.4,314.8 L771.8,315.4 L772.3,315.9 L772.8,316.3 L773.4,316.5 L774.0,316.7 L774.8,316.7 L775.6,316.7 L776.5,316.6 L777.5,316.4 L778.5,316.3 L779.5,316.1 L780.6,316.0 L781.6,315.9 L782.5,316.1 L783.0,316.7 L783.6,317.2 L784.1,317.8 L784.6,318.3 L785.1,318.9 L785.6,319.5 L786.1,320.1 L786.5,320.7 L787.0,321.3 L787.4,322.0 L787.4,322.8 L787.2,323.9 L786.9,324.9 L786.5,325.9 L786.2,326.9 L785.9,327.8 L785.6,328.6 L785.5,329.4 L785.4,330.2 L785.4,330.9 L785.6,331.5 L785.8,332.1 L786.2,332.6 L786.8,333.1 L787.4,333.6 L788.2,334.1 L789.0,334.6 L789.9,335.1 L790.8,335.7 L791.7,336.3 L792.5,336.9 L793.1,337.6 L793.2,338.3 L793.2,339.1 L793.3,339.9 L793.3,340.6Z" fill="#000" opacity="0.22" transform="translate(0.8,1.5)" filter="url(#fSoft2)"/>
<path d="M793.3,341.4 L793.3,342.2 L793.3,342.9 L793.2,343.7 L793.2,344.5 L793.1,345.2 L792.5,345.9 L791.7,346.5 L790.8,347.1 L789.9,347.7 L789.0,348.2 L788.2,348.7 L787.4,349.2 L786.8,349.7 L786.2,350.2 L785.8,350.7 L785.6,351.3 L785.4,351.9 L785.4,352.6 L785.5,353.4 L785.6,354.2 L785.9,355.0 L786.2,355.9 L786.5,356.9 L786.9,357.9 L787.2,358.9 L787.4,360.0 L787.4,360.8 L787.0,361.5 L786.5,362.1 L786.1,362.7 L785.6,363.3 L785.1,363.9 L784.6,364.5 L784.1,365.0 L783.6,365.6 L783.0,366.1 L782.5,366.7 L781.6,366.9 L780.6,366.8 L779.5,366.7 L778.5,366.5 L777.5,366.4 L776.5,366.2 L775.6,366.1 L774.8,366.1 L774.0,366.1 L773.4,366.3 L772.8,366.5 L772.3,366.9 L771.8,367.4 L771.4,368.0 L771.1,368.7 L770.7,369.6 L770.3,370.5 L770.0,371.4 L769.6,372.4 L769.2,373.4 L768.7,374.3 L768.1,375.0 L767.4,375.2 L766.6,375.4 L765.9,375.6 L765.1,375.7 L764.4,375.9 L763.6,376.0 L762.9,376.1 L762.1,376.2 L761.4,376.3 L760.6,376.3 L759.8,375.9 L759.0,375.2 L758.3,374.4 L757.6,373.6 L756.9,372.8 L756.3,372.1 L755.7,371.5 L755.1,370.9 L754.5,370.5 L753.9,370.1 L753.3,370.0 L752.6,369.9 L752.0,370.0 L751.2,370.2 L750.5,370.5 L749.7,370.9 L748.8,371.4 L747.9,371.9 L747.0,372.4 L746.1,372.9 L745.1,373.3 L744.2,373.4 L743.5,373.1 L742.8,372.8 L742.1,372.4 L741.5,372.1 L740.8,371.7 L740.1,371.3 L739.5,370.9 L738.9,370.5 L738.2,370.1 L737.6,369.6 L737.3,368.8 L737.2,367.7 L737.1,366.7 L737.1,365.6 L737.0,364.6 L737.0,363.6 L737.0,362.7 L736.9,361.9 L736.7,361.2 L736.4,360.6 L736.1,360.0 L735.6,359.6 L735.1,359.2 L734.4,358.9 L733.6,358.7 L732.7,358.5 L731.8,358.3 L730.8,358.1 L729.7,357.9 L728.7,357.6 L727.7,357.3 L726.9,356.9 L726.6,356.2 L726.3,355.5 L726.0,354.8 L725.7,354.1 L725.4,353.4 L725.2,352.7 L724.9,351.9 L724.7,351.2 L724.5,350.5 L724.3,349.7 L724.6,348.9 L725.2,348.0 L725.8,347.1 L726.5,346.3 L727.1,345.5 L727.7,344.8 L728.2,344.0 L728.7,343.3 L729.0,342.7 L729.2,342.0 L729.3,341.4 L729.2,340.8 L729.0,340.1 L728.7,339.5 L728.2,338.8 L727.7,338.0 L727.1,337.3 L726.5,336.5 L725.8,335.7 L725.2,334.8 L724.6,333.9 L724.3,333.1 L724.5,332.3 L724.7,331.6 L724.9,330.9 L725.2,330.1 L725.4,329.4 L725.7,328.7 L726.0,328.0 L726.3,327.3 L726.6,326.6 L726.9,325.9 L727.7,325.5 L728.7,325.2 L729.7,324.9 L730.8,324.7 L731.8,324.5 L732.7,324.3 L733.6,324.1 L734.4,323.9 L735.1,323.6 L735.6,323.2 L736.1,322.8 L736.4,322.2 L736.7,321.6 L736.9,320.9 L737.0,320.1 L737.0,319.2 L737.0,318.2 L737.1,317.2 L737.1,316.1 L737.2,315.1 L737.3,314.0 L737.6,313.2 L738.2,312.7 L738.9,312.3 L739.5,311.9 L740.1,311.5 L740.8,311.1 L741.5,310.7 L742.1,310.4 L742.8,310.0 L743.5,309.7 L744.2,309.4 L745.1,309.5 L746.1,309.9 L747.0,310.4 L747.9,310.9 L748.8,311.4 L749.7,311.9 L750.5,312.3 L751.2,312.6 L752.0,312.8 L752.6,312.9 L753.3,312.8 L753.9,312.7 L754.5,312.3 L755.1,311.9 L755.7,311.3 L756.3,310.7 L756.9,310.0 L757.6,309.2 L758.3,308.4 L759.0,307.6 L759.8,306.9 L760.6,306.5 L761.4,306.5 L762.1,306.6 L762.9,306.7 L763.6,306.8 L764.4,306.9 L765.1,307.1 L765.9,307.2 L766.6,307.4 L767.4,307.6 L768.1,307.8 L768.7,308.5 L769.2,309.4 L769.6,310.4 L770.0,311.4 L770.3,312.3 L770.7,313.2 L771.1,314.1 L771.4,314.8 L771.8,315.4 L772.3,315.9 L772.8,316.3 L773.4,316.5 L774.0,316.7 L774.8,316.7 L775.6,316.7 L776.5,316.6 L777.5,316.4 L778.5,316.3 L779.5,316.1 L780.6,316.0 L781.6,315.9 L782.5,316.1 L783.0,316.7 L783.6,317.2 L784.1,317.8 L784.6,318.3 L785.1,318.9 L785.6,319.5 L786.1,320.1 L786.5,320.7 L787.0,321.3 L787.4,322.0 L787.4,322.8 L787.2,323.9 L786.9,324.9 L786.5,325.9 L786.2,326.9 L785.9,327.8 L785.6,328.6 L785.5,329.4 L785.4,330.2 L785.4,330.9 L785.6,331.5 L785.8,332.1 L786.2,332.6 L786.8,333.1 L787.4,333.6 L788.2,334.1 L789.0,334.6 L789.9,335.1 L790.8,335.7 L791.7,336.3 L792.5,336.9 L793.1,337.6 L793.2,338.3 L793.2,339.1 L793.3,339.9 L793.3,340.6Z" fill="url(#gGear2)" stroke="#9f9f9f" stroke-width="1.3"/>
<path d="M791.1,341.4 L791.1,342.1 L791.1,342.8 L791.0,343.5 L791.0,344.3 L790.9,345.0 L790.4,345.6 L789.6,346.2 L788.7,346.8 L787.8,347.3 L787.0,347.8 L786.2,348.2 L785.5,348.7 L784.8,349.1 L784.3,349.6 L783.9,350.1 L783.7,350.6 L783.5,351.2 L783.5,351.8 L783.6,352.5 L783.8,353.3 L784.0,354.1 L784.4,355.0 L784.7,355.9 L785.0,356.8 L785.3,357.8 L785.6,358.8 L785.6,359.6 L785.2,360.2 L784.8,360.8 L784.3,361.4 L783.9,361.9 L783.4,362.5 L783.0,363.0 L782.5,363.6 L782.0,364.1 L781.5,364.6 L781.0,365.1 L780.2,365.2 L779.1,365.2 L778.1,365.0 L777.1,364.9 L776.2,364.7 L775.3,364.6 L774.4,364.4 L773.7,364.4 L773.0,364.4 L772.3,364.5 L771.8,364.8 L771.3,365.1 L770.9,365.6 L770.5,366.2 L770.2,366.9 L769.9,367.7 L769.5,368.5 L769.2,369.5 L768.9,370.4 L768.5,371.3 L768.0,372.2 L767.5,372.9 L766.8,373.1 L766.1,373.3 L765.4,373.4 L764.7,373.6 L764.0,373.7 L763.3,373.8 L762.6,373.9 L761.9,374.0 L761.2,374.1 L760.4,374.1 L759.7,373.7 L759.0,373.0 L758.3,372.3 L757.6,371.5 L757.0,370.8 L756.4,370.0 L755.8,369.4 L755.3,368.9 L754.7,368.4 L754.2,368.1 L753.6,368.0 L753.0,367.9 L752.4,368.0 L751.7,368.2 L751.0,368.6 L750.3,369.0 L749.5,369.4 L748.6,369.9 L747.7,370.4 L746.8,370.9 L745.9,371.3 L745.1,371.4 L744.4,371.1 L743.8,370.8 L743.2,370.5 L742.5,370.2 L741.9,369.8 L741.3,369.4 L740.7,369.1 L740.1,368.7 L739.5,368.3 L738.9,367.9 L738.6,367.1 L738.5,366.1 L738.5,365.0 L738.4,364.0 L738.5,363.1 L738.4,362.1 L738.4,361.3 L738.3,360.5 L738.2,359.8 L738.0,359.2 L737.6,358.7 L737.2,358.3 L736.7,358.0 L736.0,357.7 L735.3,357.5 L734.4,357.4 L733.5,357.2 L732.6,357.0 L731.6,356.8 L730.6,356.6 L729.6,356.3 L728.9,355.9 L728.6,355.3 L728.3,354.6 L728.0,354.0 L727.7,353.3 L727.5,352.6 L727.2,351.9 L727.0,351.3 L726.8,350.6 L726.6,349.9 L726.4,349.2 L726.7,348.4 L727.3,347.6 L727.9,346.8 L728.5,346.0 L729.2,345.2 L729.8,344.5 L730.3,343.9 L730.7,343.2 L731.0,342.6 L731.2,342.0 L731.3,341.4 L731.2,340.8 L731.0,340.2 L730.7,339.6 L730.3,338.9 L729.8,338.3 L729.2,337.6 L728.5,336.8 L727.9,336.0 L727.3,335.2 L726.7,334.4 L726.4,333.6 L726.6,332.9 L726.8,332.2 L727.0,331.5 L727.2,330.9 L727.5,330.2 L727.7,329.5 L728.0,328.8 L728.3,328.2 L728.6,327.5 L728.9,326.9 L729.6,326.5 L730.6,326.2 L731.6,326.0 L732.6,325.8 L733.5,325.6 L734.4,325.4 L735.3,325.3 L736.0,325.1 L736.7,324.8 L737.2,324.5 L737.6,324.1 L738.0,323.6 L738.2,323.0 L738.3,322.3 L738.4,321.5 L738.4,320.7 L738.5,319.7 L738.4,318.8 L738.5,317.8 L738.5,316.7 L738.6,315.7 L738.9,314.9 L739.5,314.5 L740.1,314.1 L740.7,313.7 L741.3,313.4 L741.9,313.0 L742.5,312.6 L743.2,312.3 L743.8,312.0 L744.4,311.7 L745.1,311.4 L745.9,311.5 L746.8,311.9 L747.7,312.4 L748.6,312.9 L749.5,313.4 L750.3,313.8 L751.0,314.2 L751.7,314.6 L752.4,314.8 L753.0,314.9 L753.6,314.8 L754.2,314.7 L754.7,314.4 L755.3,313.9 L755.8,313.4 L756.4,312.8 L757.0,312.0 L757.6,311.3 L758.3,310.5 L759.0,309.8 L759.7,309.1 L760.4,308.7 L761.2,308.7 L761.9,308.8 L762.6,308.9 L763.3,309.0 L764.0,309.1 L764.7,309.2 L765.4,309.4 L766.1,309.5 L766.8,309.7 L767.5,309.9 L768.0,310.6 L768.5,311.5 L768.9,312.4 L769.2,313.3 L769.5,314.3 L769.9,315.1 L770.2,315.9 L770.5,316.6 L770.9,317.2 L771.3,317.7 L771.8,318.0 L772.3,318.3 L773.0,318.4 L773.7,318.4 L774.4,318.4 L775.3,318.2 L776.2,318.1 L777.1,317.9 L778.1,317.8 L779.1,317.6 L780.2,317.6 L781.0,317.7 L781.5,318.2 L782.0,318.7 L782.5,319.2 L783.0,319.8 L783.4,320.3 L783.9,320.9 L784.3,321.4 L784.8,322.0 L785.2,322.6 L785.6,323.2 L785.6,324.0 L785.3,325.0 L785.0,326.0 L784.7,326.9 L784.4,327.8 L784.0,328.7 L783.8,329.5 L783.6,330.3 L783.5,331.0 L783.5,331.6 L783.7,332.2 L783.9,332.7 L784.3,333.2 L784.8,333.7 L785.5,334.1 L786.2,334.6 L787.0,335.0 L787.8,335.5 L788.7,336.0 L789.6,336.6 L790.4,337.2 L790.9,337.8 L791.0,338.5 L791.0,339.3 L791.1,340.0 L791.1,340.7Z" fill="none" stroke="#fff" stroke-width="1.2" opacity="0.8"/>
<ellipse cx="758.3" cy="351.4" rx="24" ry="9" fill="#000" opacity="0.25" filter="url(#fSoft)"/>
<rect x="741.6999999999999" y="327.4" width="33.2" height="29.5" rx="13" fill="url(#pMesh)"/>
<rect x="741.6999999999999" y="327.4" width="33.2" height="29.5" rx="13" fill="url(#gHubV)"/>
<path d="M753.0,346.59999999999997 L753.0,341.9 Q753.0,338.2 756.8,338.2 L760.3,338.2 Q764.0999999999999,338.2 764.0999999999999,341.9 L764.0999999999999,346.59999999999997 Z" fill="#ededed"/>
<rect x="632.6" y="357.9" width="172.9" height="16.1" rx="0" fill="url(#gPlate)" />
<rect x="632.6" y="357.9" width="172.9" height="16.1" rx="0" fill="url(#gPlateV)" />
<rect x="642.4" y="374.0" width="153.3" height="11.2" rx="0" fill="url(#pMesh)" />
<rect x="643.1" y="385.2" width="155.4" height="14.7" rx="0" fill="url(#gPlate)" />
<rect x="643.1" y="385.2" width="155.4" height="14.7" rx="0" fill="url(#gPlateV)" />
<polygon points="645.9,399.9 792.2,399.9 765.6,429.5 671.8,429.5" fill="url(#gFunnel)"/>
<polygon points="645.9,399.9 792.2,399.9 790,403 648,403" fill="#333" opacity="0.5"/>
<path d="M687.3,455 L705.3,455 L705.3,470 A9,9 0 0 1 687.3,470 Z" fill="url(#gDrop)"/>
<rect x="667.6" y="429.3" width="100.8" height="28.0" rx="5" fill="url(#gCyl)" />
<rect x="667.6" y="429.3" width="100.8" height="28.0" rx="5" fill="url(#pMeshL)" />
<rect x="768" y="440.4" width="16" height="3.2" fill="#1a1a1a"/>
<circle cx="802" cy="443.3" r="19" fill="url(#gGreenBall)" stroke="#8fb12e" stroke-width="1"/>
<path d="M795.2,445.5 A7.2,7.2 0 0 1 803.5,436.3" fill="none" stroke="#fff" stroke-width="2.1" opacity="0.92"/>
<polygon points="802.8,433 808,436.8 802.4,439.8" fill="#fff" opacity="0.95"/>
<path d="M808.8,441.1 A7.2,7.2 0 0 1 800.5,450.3" fill="none" stroke="#fff" stroke-width="2.1" opacity="0.92"/>
<polygon points="801.2,453.6 796,449.8 801.6,446.8" fill="#fff" opacity="0.95"/>
<path d="M697.6,520.0 L697.6,541.7 L497.5,541.7 L497.5,552.0" fill="none" stroke="#000" stroke-opacity="0.20" stroke-width="13.5" stroke-linejoin="round" filter="url(#fSoft2)" transform="translate(0.6,1.0)"/>
<path d="M697.6,520.0 L697.6,541.7 L497.5,541.7 L497.5,552.0" fill="none" stroke="#7c7c7c" stroke-width="11" stroke-linejoin="round"/>
<path d="M696.7,520.0 L696.7,540.8 L497.5,540.8 A0.9,0.9 0 0 0 496.6,541.7 L496.6,552.0" fill="none" stroke="#6a6a6a" stroke-width="9.2" stroke-linejoin="round"/>
<path d="M695.7,520.0 L695.7,539.8 L497.5,539.8 A1.9,1.9 0 0 0 495.6,541.7 L495.6,552.0" fill="none" stroke="#595959" stroke-width="7.2" stroke-linejoin="round"/>
<path d="M694.7,520.0 L694.7,538.8 L497.5,538.8 A2.9,2.9 0 0 0 494.6,541.7 L494.6,552.0" fill="none" stroke="#494949" stroke-width="5.2" stroke-linejoin="round"/>
<path d="M693.0,520.0 L693.0,537.1 L497.5,537.1 A4.6,4.6 0 0 0 492.9,541.7 L492.9,552.0" fill="none" stroke="#262626" stroke-width="1.8" stroke-linejoin="miter"/>
<ellipse cx="699" cy="486" rx="36" ry="3" fill="#000" opacity="0.25" filter="url(#fSoft2)"/>
<rect x="662.9" y="485.3" width="72.0" height="10.7" rx="4" fill="url(#gWhiteV)" />
<rect x="666.4" y="504.5" width="63.3" height="9.1" rx="4" fill="url(#gWhiteV)" />
<rect x="666.4" y="495.7" width="63.3" height="9.6" rx="0" fill="url(#pMesh)" />
<rect x="685.5" y="513.0" width="23.4" height="13.0" rx="3" fill="url(#gDarkH)" />
<ellipse cx="590" cy="537" rx="72" ry="3" fill="#000" opacity="0.25" filter="url(#fSoft2)"/>
<rect x="556.0" y="512.0" width="93.0" height="15.5" rx="0" fill="#2b2b2b" />
<rect x="598.0" y="520.0" width="24.0" height="13.0" rx="2" fill="#1c1c1c" />
<rect x="643.0" y="516.0" width="9.5" height="15.0" rx="1.5" fill="#222" />
<path d="M517.5,529.5 L517.5,503 Q518,484 532,482 L554,482 L556,484 L556,529.5 Z" fill="#e9e9ec" stroke="#b9b9bd" stroke-width="0.8"/>
<path d="M518,503 Q519,486 531,483.5 L527,505 Z" fill="#3e8fd0"/>
<path d="M531,489 L546,489 L546,503 L528.5,506 Z" fill="#1c2f55"/>
<path d="M532,490 L545,490 L545,496 L530.5,499 Z" fill="#4aa3e0"/>
<rect x="517.5" y="521.0" width="38.5" height="8.5" rx="0" fill="#9a9a9d" />
<rect x="517.0" y="518.5" width="7.0" height="5.0" rx="1" fill="#d9d94a" />
<rect x="541.0" y="505.5" width="5.5" height="3.0" rx="0" fill="#444" />
<rect x="556.3" y="471.5" width="92.8" height="42.5" rx="0" fill="url(#gRed)" />
<line x1="556.3" y1="476.2" x2="649.1" y2="476.2" stroke="#8c1f22" stroke-width="0.8" opacity="0.7"/>
<line x1="556.3" y1="480.9" x2="649.1" y2="480.9" stroke="#8c1f22" stroke-width="0.8" opacity="0.7"/>
<line x1="556.3" y1="485.6" x2="649.1" y2="485.6" stroke="#8c1f22" stroke-width="0.8" opacity="0.7"/>
<line x1="556.3" y1="490.3" x2="649.1" y2="490.3" stroke="#8c1f22" stroke-width="0.8" opacity="0.7"/>
<line x1="556.3" y1="495.0" x2="649.1" y2="495.0" stroke="#8c1f22" stroke-width="0.8" opacity="0.7"/>
<line x1="556.3" y1="499.7" x2="649.1" y2="499.7" stroke="#8c1f22" stroke-width="0.8" opacity="0.7"/>
<line x1="556.3" y1="504.4" x2="649.1" y2="504.4" stroke="#8c1f22" stroke-width="0.8" opacity="0.7"/>
<line x1="556.3" y1="509.1" x2="649.1" y2="509.1" stroke="#8c1f22" stroke-width="0.8" opacity="0.7"/>
<line x1="556.3" y1="472.3" x2="649.1" y2="472.3" stroke="#e06a66" stroke-width="1"/>
<circle cx="549.4" cy="527.8" r="10.4" fill="#222"/>
<circle cx="549.4" cy="527.8" r="6.0" fill="#9b9b9b" stroke="#555" stroke-width="1"/>
<circle cx="549.4" cy="527.8" r="2.3" fill="#444"/>
<circle cx="625.7" cy="527.8" r="10.4" fill="#222"/>
<circle cx="625.7" cy="527.8" r="6.0" fill="#9b9b9b" stroke="#555" stroke-width="1"/>
<circle cx="625.7" cy="527.8" r="2.3" fill="#444"/>
<rect x="485.3" y="547.3" width="23.4" height="13.4" rx="4" fill="url(#gDarkH)" />
<path d="M486,573.5 L486,567.0 Q486,562.7 491,562.7 L503.7,562.7 Q508.7,562.7 508.7,567.0 L508.7,573.5 Z" fill="url(#gDarkH)"/>
<path d="M471.3,585.5 L471.3,581.0 Q471.3,572.7 480,572.7 L514,572.7 Q522.7,572.7 522.7,581.0 L522.7,585.5 Z" fill="#3c3c3c"/>
<rect x="471.3" y="585.3" width="51.4" height="7.7" rx="0" fill="url(#gPlate)" />
<rect x="471.3" y="585.3" width="51.4" height="7.7" rx="0" fill="url(#gPlateV)" />
<rect x="467.3" y="592.7" width="58.0" height="11.3" rx="1.5" fill="url(#gGrayMesh)" />
<rect x="467.3" y="592.7" width="58.0" height="11.3" rx="1.5" fill="url(#pMeshL)" />
<path d="M487.2,604.0 L506.2,604.0 L506.2,613.0 A9.5,9.5 0 0 1 487.2,613.0 Z" fill="url(#gDrop)"/>
<path d="M870.0,672.2 L540.0,672.2" fill="none" stroke="#000" stroke-opacity="0.20" stroke-width="13.5" stroke-linejoin="round" filter="url(#fSoft2)" transform="translate(0.6,1.0)"/>
<path d="M870.0,672.2 L540.0,672.2" fill="none" stroke="#7c7c7c" stroke-width="11" stroke-linejoin="round"/>
<path d="M870.0,671.3 L540.0,671.3" fill="none" stroke="#6a6a6a" stroke-width="9.2" stroke-linejoin="round"/>
<path d="M870.0,670.3 L540.0,670.3" fill="none" stroke="#595959" stroke-width="7.2" stroke-linejoin="round"/>
<path d="M870.0,669.3 L540.0,669.3" fill="none" stroke="#494949" stroke-width="5.2" stroke-linejoin="round"/>
<path d="M870.0,667.6 L540.0,667.6" fill="none" stroke="#262626" stroke-width="1.8" stroke-linejoin="miter"/>
<path d="M920.0,672.3 L1000.2,672.3 L1000.2,791.3 L523.0,791.3 L523.0,912.0" fill="none" stroke="#000" stroke-opacity="0.20" stroke-width="13.5" stroke-linejoin="round" filter="url(#fSoft2)" transform="translate(0.6,1.0)"/>
<path d="M920.0,672.3 L1000.2,672.3 L1000.2,791.3 L523.0,791.3 L523.0,912.0" fill="none" stroke="#7c7c7c" stroke-width="11" stroke-linejoin="round"/>
<path d="M920.0,673.2 L999.3,673.2 L999.3,790.4 L523.0,790.4 A0.9,0.9 0 0 0 522.1,791.3 L522.1,912.0" fill="none" stroke="#6a6a6a" stroke-width="9.2" stroke-linejoin="round"/>
<path d="M920.0,674.2 L998.3,674.2 L998.3,789.4 L523.0,789.4 A1.9,1.9 0 0 0 521.1,791.3 L521.1,912.0" fill="none" stroke="#595959" stroke-width="7.2" stroke-linejoin="round"/>
<path d="M920.0,675.2 L997.3,675.2 L997.3,788.4 L523.0,788.4 A2.9,2.9 0 0 0 520.1,791.3 L520.1,912.0" fill="none" stroke="#494949" stroke-width="5.2" stroke-linejoin="round"/>
<path d="M920.0,676.9 L995.6,676.9 L995.6,786.7 L523.0,786.7 A4.6,4.6 0 0 0 518.4,791.3 L518.4,912.0" fill="none" stroke="#262626" stroke-width="1.8" stroke-linejoin="miter"/>
<ellipse cx="502.0" cy="706.0" rx="38.0" ry="5.0" fill="#000" opacity="0.4" filter="url(#fSoft)"/>
<path d="M471,642 L532.4,642 L532.4,695 Q532.4,705.3 522,705.3 L481.4,705.3 Q471,705.3 471,695 Z" fill="url(#gBody)"/>
<path d="M477.7,654.7 L526,654.7 L526,692 Q526,699.3 518.5,699.3 L485.2,699.3 Q477.7,699.3 477.7,692 Z" fill="url(#gWin2)"/>
<path d="M479.5,672 Q481,667 488,667.5 Q495,668 500,672.5 Q504,676 510,673 Q517,668.5 521,668.5 Q524.5,669 524.5,673 L524.5,691 Q524.5,697.8 518,697.8 L486,697.8 Q479.5,697.8 479.5,691 Z" fill="url(#gLiquid)" stroke="#168a68" stroke-width="1"/>
<rect x="464.0" y="632.7" width="77.3" height="10.0" rx="4" fill="url(#gPlate)" />
<rect x="464.0" y="632.7" width="77.3" height="10.0" rx="4" fill="url(#gPlateV)" />
<rect x="533.3" y="659.7" width="13.7" height="25.0" rx="3" fill="url(#gDarkV)" />
<circle cx="599.6" cy="672.4" r="14.2" fill="#fdfdfd" stroke="#b9b9b9" stroke-width="1.3"/>
<circle cx="599.6" cy="672.4" r="11.2" fill="none" stroke="#d9d9d9" stroke-width="1"/>
<rect x="590.8000000000001" y="663.6" width="17.6" height="17.6" rx="7" fill="#5c5c5c" stroke="#3a3a3a" stroke-width="1.6"/>
<circle cx="599.6" cy="672.4" r="2.4" fill="#111"/>
<circle cx="797.2" cy="669.8" r="14.2" fill="#fdfdfd" stroke="#b9b9b9" stroke-width="1.3"/>
<circle cx="797.2" cy="669.8" r="11.2" fill="none" stroke="#d9d9d9" stroke-width="1"/>
<rect x="788.4000000000001" y="661.0" width="17.6" height="17.6" rx="7" fill="#5c5c5c" stroke="#3a3a3a" stroke-width="1.6"/>
<circle cx="797.2" cy="669.8" r="2.4" fill="#111"/>
<circle cx="998.8" cy="725.8" r="14.2" fill="#fdfdfd" stroke="#b9b9b9" stroke-width="1.3"/>
<circle cx="998.8" cy="725.8" r="11.2" fill="none" stroke="#d9d9d9" stroke-width="1"/>
<rect x="990.0" y="717.0" width="17.6" height="17.6" rx="7" fill="#5c5c5c" stroke="#3a3a3a" stroke-width="1.6"/>
<circle cx="998.8" cy="725.8" r="2.4" fill="#111"/>
<ellipse cx="700.2" cy="709.0" rx="38.0" ry="5.0" fill="#000" opacity="0.4" filter="url(#fSoft)"/>
<rect x="649.0" y="659.4" width="17.0" height="25.5" rx="4" fill="url(#gDarkV)" />
<rect x="734.0" y="659.4" width="16.5" height="25.5" rx="4" fill="url(#gDarkV)" />
<rect x="697.6" y="584.0" width="4.0" height="13.0" rx="0" fill="#2e2e2e" />
<circle cx="699.6" cy="574.4" r="12" fill="url(#gRedBall)" stroke="#d8d0d0" stroke-width="1"/>
<path d="M698.4,568.5 L700.8,568.5 L700.8,574 L702.2,574 L702.2,578.3 L697.0,578.3 L697.0,574 L698.4,574 Z" fill="#fff"/>
<path d="M675.1,614.6 L675.1,601 Q675.1,594.8 681.5,594.8 L718.6,594.8 Q725.0,594.8 725.0,601 L725.0,614.6 Z" fill="url(#gGrayMesh)"/>
<path d="M675.1,614.6 L675.1,601 Q675.1,594.8 681.5,594.8 L718.6,594.8 Q725.0,594.8 725.0,601 L725.0,614.6 Z" fill="url(#pMeshL)"/>
<path d="M677.4,614.2 L722.2,614.2 L735.8,631.6 L735.8,696 Q735.8,708.7 723.0,708.7 L677.5,708.7 Q664.7,708.7 664.7,696 L664.7,631.6 Z" fill="url(#gBody)"/>
<path d="M677.4,614.2 L722.2,614.2 L735.8,631.6 L664.7,631.6 Z" fill="#262626" opacity="0.55"/>
<path d="M670.8,639.3 L729.6,639.3 L729.6,693 Q729.6,701.9 720.6,701.9 L679.8,701.9 Q670.8,701.9 670.8,693 Z" fill="url(#gWin)"/>
<path d="M690.0,646.5 L689.4,646.2 L689.0,646.2 L688.5,646.3 L688.0,646.4 L687.5,646.6 L686.9,646.8 L686.3,647.1 L685.8,647.4 L685.2,647.7 L684.7,648.0 L684.1,648.3 L683.6,648.7 L682.9,649.0 L682.3,649.4 L681.6,649.9 L680.8,650.4 L680.1,651.1 L679.4,651.8 L678.8,652.6 L678.3,653.6 L677.9,654.6 L677.7,655.6 L677.6,656.6 L677.7,657.5 L677.8,658.4 L678.0,659.3 L678.2,660.2 L678.5,661.0 L678.8,661.8 L679.0,662.6 L679.4,663.5 L679.8,664.4 L680.3,665.3 L680.8,666.1 L681.3,667.0 L681.8,667.8 L682.3,668.6 L682.8,669.4 L683.3,670.2 L683.8,670.9 L684.3,671.7 L684.9,672.5 L685.4,673.2 L686.0,673.8 L686.5,674.5 L686.9,675.1 L687.4,675.6 L687.7,676.1 L688.0,676.5 L688.2,676.9 L688.4,677.3 L688.5,677.7 L688.7,678.1 L688.7,678.5 L688.8,678.8 L688.9,679.1 L688.9,679.4 L688.9,679.7 L689.0,680.1 L689.0,680.4 L689.0,680.7 L688.9,681.1 L688.9,681.5 L688.8,681.9 L688.6,682.4 L688.4,682.9 L688.2,683.4 L688.0,683.9 L687.7,684.5 L687.5,685.1 L687.2,685.6 L686.8,686.3 L686.4,686.9 L685.9,687.6 L685.4,688.4 L684.9,689.1 L684.5,689.8 L684.2,690.4 L683.9,691.0 L684.1,691.8 L684.1,691.8 L684.8,691.9 L685.4,691.7 L686.1,691.4 L686.8,691.0 L687.5,690.5 L688.3,689.9 L689.0,689.4 L689.7,688.8 L690.4,688.2 L690.9,687.7 L691.5,687.1 L692.0,686.6 L692.4,686.1 L692.9,685.5 L693.3,684.9 L693.7,684.3 L694.1,683.6 L694.4,682.9 L694.7,682.2 L695.0,681.5 L695.1,680.7 L695.2,680.0 L695.3,679.2 L695.2,678.5 L695.1,677.7 L695.0,677.0 L694.8,676.3 L694.5,675.5 L694.3,674.8 L693.9,674.1 L693.5,673.3 L693.0,672.5 L692.5,671.8 L692.0,671.1 L691.5,670.5 L690.9,669.8 L690.4,669.2 L690.0,668.6 L689.5,668.0 L689.1,667.4 L688.7,666.7 L688.2,665.9 L687.7,665.2 L687.2,664.4 L686.8,663.7 L686.3,662.9 L685.9,662.2 L685.6,661.5 L685.3,660.9 L685.0,660.3 L684.8,659.7 L684.6,659.0 L684.4,658.4 L684.2,657.9 L684.1,657.3 L684.1,656.9 L684.0,656.5 L684.0,656.1 L684.0,655.9 L684.0,655.7 L684.0,655.5 L684.1,655.3 L684.3,654.9 L684.6,654.4 L685.0,654.0 L685.5,653.4 L686.0,652.9 L686.5,652.4 L687.1,651.8 L687.5,651.3 L687.9,650.8 L688.2,650.3 L688.6,649.9 L689.0,649.4 L689.3,649.0 L689.6,648.5 L689.9,648.1 L690.1,647.6 L690.2,647.2 L690.0,646.5Z" fill="url(#gSteam)"/>
<path d="M702.4,646.5 L701.8,646.2 L701.4,646.2 L700.9,646.3 L700.4,646.4 L699.9,646.6 L699.3,646.8 L698.7,647.1 L698.2,647.4 L697.6,647.7 L697.1,648.0 L696.5,648.3 L696.0,648.7 L695.3,649.0 L694.7,649.4 L694.0,649.9 L693.2,650.4 L692.5,651.1 L691.8,651.8 L691.2,652.6 L690.7,653.6 L690.3,654.6 L690.1,655.6 L690.0,656.6 L690.1,657.5 L690.2,658.4 L690.4,659.3 L690.6,660.2 L690.9,661.0 L691.2,661.8 L691.4,662.6 L691.8,663.5 L692.2,664.4 L692.7,665.3 L693.2,666.1 L693.7,667.0 L694.2,667.8 L694.7,668.6 L695.2,669.4 L695.7,670.2 L696.2,670.9 L696.7,671.7 L697.3,672.5 L697.8,673.2 L698.4,673.8 L698.9,674.5 L699.3,675.1 L699.8,675.6 L700.1,676.1 L700.4,676.5 L700.6,676.9 L700.8,677.3 L700.9,677.7 L701.1,678.1 L701.1,678.5 L701.2,678.8 L701.3,679.1 L701.3,679.4 L701.3,679.7 L701.4,680.1 L701.4,680.4 L701.4,680.7 L701.3,681.1 L701.3,681.5 L701.2,681.9 L701.0,682.4 L700.8,682.9 L700.6,683.4 L700.4,683.9 L700.1,684.5 L699.9,685.1 L699.6,685.6 L699.2,686.3 L698.8,686.9 L698.3,687.6 L697.8,688.4 L697.3,689.1 L696.9,689.8 L696.6,690.4 L696.3,691.0 L696.5,691.8 L696.5,691.8 L697.2,691.9 L697.8,691.7 L698.5,691.4 L699.2,691.0 L699.9,690.5 L700.7,689.9 L701.4,689.4 L702.1,688.8 L702.8,688.2 L703.3,687.7 L703.9,687.1 L704.4,686.6 L704.8,686.1 L705.3,685.5 L705.7,684.9 L706.1,684.3 L706.5,683.6 L706.8,682.9 L707.1,682.2 L707.4,681.5 L707.5,680.7 L707.6,680.0 L707.7,679.2 L707.6,678.5 L707.5,677.7 L707.4,677.0 L707.2,676.3 L706.9,675.5 L706.7,674.8 L706.3,674.1 L705.9,673.3 L705.4,672.5 L704.9,671.8 L704.4,671.1 L703.9,670.5 L703.3,669.8 L702.8,669.2 L702.4,668.6 L701.9,668.0 L701.5,667.4 L701.1,666.7 L700.6,665.9 L700.1,665.2 L699.6,664.4 L699.2,663.7 L698.7,662.9 L698.3,662.2 L698.0,661.5 L697.7,660.9 L697.4,660.3 L697.2,659.7 L697.0,659.0 L696.8,658.4 L696.6,657.9 L696.5,657.3 L696.5,656.9 L696.4,656.5 L696.4,656.1 L696.4,655.9 L696.4,655.7 L696.4,655.5 L696.5,655.3 L696.7,654.9 L697.0,654.4 L697.4,654.0 L697.9,653.4 L698.4,652.9 L698.9,652.4 L699.5,651.8 L699.9,651.3 L700.3,650.8 L700.6,650.3 L701.0,649.9 L701.4,649.4 L701.7,649.0 L702.0,648.5 L702.3,648.1 L702.5,647.6 L702.6,647.2 L702.4,646.5Z" fill="url(#gSteam)"/>
<path d="M714.8,646.5 L714.2,646.2 L713.8,646.2 L713.3,646.3 L712.8,646.4 L712.3,646.6 L711.7,646.8 L711.1,647.1 L710.6,647.4 L710.0,647.7 L709.5,648.0 L708.9,648.3 L708.4,648.7 L707.7,649.0 L707.1,649.4 L706.4,649.9 L705.6,650.4 L704.9,651.1 L704.2,651.8 L703.6,652.6 L703.1,653.6 L702.7,654.6 L702.5,655.6 L702.4,656.6 L702.5,657.5 L702.6,658.4 L702.8,659.3 L703.0,660.2 L703.3,661.0 L703.6,661.8 L703.8,662.6 L704.2,663.5 L704.6,664.4 L705.1,665.3 L705.6,666.1 L706.1,667.0 L706.6,667.8 L707.1,668.6 L707.6,669.4 L708.1,670.2 L708.6,670.9 L709.1,671.7 L709.7,672.5 L710.2,673.2 L710.8,673.8 L711.3,674.5 L711.7,675.1 L712.2,675.6 L712.5,676.1 L712.8,676.5 L713.0,676.9 L713.2,677.3 L713.3,677.7 L713.5,678.1 L713.5,678.5 L713.6,678.8 L713.7,679.1 L713.7,679.4 L713.7,679.7 L713.8,680.1 L713.8,680.4 L713.8,680.7 L713.7,681.1 L713.7,681.5 L713.6,681.9 L713.4,682.4 L713.2,682.9 L713.0,683.4 L712.8,683.9 L712.5,684.5 L712.3,685.1 L712.0,685.6 L711.6,686.3 L711.2,686.9 L710.7,687.6 L710.2,688.4 L709.7,689.1 L709.3,689.8 L709.0,690.4 L708.7,691.0 L708.9,691.8 L708.9,691.8 L709.6,691.9 L710.2,691.7 L710.9,691.4 L711.6,691.0 L712.3,690.5 L713.1,689.9 L713.8,689.4 L714.5,688.8 L715.2,688.2 L715.7,687.7 L716.3,687.1 L716.8,686.6 L717.2,686.1 L717.7,685.5 L718.1,684.9 L718.5,684.3 L718.9,683.6 L719.2,682.9 L719.5,682.2 L719.8,681.5 L719.9,680.7 L720.0,680.0 L720.1,679.2 L720.0,678.5 L719.9,677.7 L719.8,677.0 L719.6,676.3 L719.3,675.5 L719.1,674.8 L718.7,674.1 L718.3,673.3 L717.8,672.5 L717.3,671.8 L716.8,671.1 L716.3,670.5 L715.7,669.8 L715.2,669.2 L714.8,668.6 L714.3,668.0 L713.9,667.4 L713.5,666.7 L713.0,665.9 L712.5,665.2 L712.0,664.4 L711.6,663.7 L711.1,662.9 L710.7,662.2 L710.4,661.5 L710.1,660.9 L709.8,660.3 L709.6,659.7 L709.4,659.0 L709.2,658.4 L709.0,657.9 L708.9,657.3 L708.9,656.9 L708.8,656.5 L708.8,656.1 L708.8,655.9 L708.8,655.7 L708.8,655.5 L708.9,655.3 L709.1,654.9 L709.4,654.4 L709.8,654.0 L710.3,653.4 L710.8,652.9 L711.3,652.4 L711.9,651.8 L712.3,651.3 L712.7,650.8 L713.0,650.3 L713.4,649.9 L713.8,649.4 L714.1,649.0 L714.4,648.5 L714.7,648.1 L714.9,647.6 L715.0,647.2 L714.8,646.5Z" fill="url(#gSteam)"/>
<ellipse cx="895.3" cy="709.0" rx="38.0" ry="5.0" fill="#000" opacity="0.4" filter="url(#fSoft)"/>
<rect x="844.0" y="659.4" width="17.0" height="25.5" rx="4" fill="url(#gDarkV)" />
<rect x="929.0" y="659.4" width="16.5" height="25.5" rx="4" fill="url(#gDarkV)" />
<rect x="892.6" y="584.0" width="4.0" height="13.0" rx="0" fill="#2e2e2e" />
<circle cx="894.65" cy="574.4" r="12" fill="url(#gRedBall)" stroke="#d8d0d0" stroke-width="1"/>
<path d="M893.4499999999999,568.5 L895.8499999999999,568.5 L895.8499999999999,574 L897.25,574 L897.25,578.3 L892.05,578.3 L892.05,574 L893.4499999999999,574 Z" fill="#fff"/>
<path d="M870.15,614.6 L870.15,601 Q870.15,594.8 876.55,594.8 L913.65,594.8 Q920.05,594.8 920.05,601 L920.05,614.6 Z" fill="url(#gGrayMesh)"/>
<path d="M870.15,614.6 L870.15,601 Q870.15,594.8 876.55,594.8 L913.65,594.8 Q920.05,594.8 920.05,601 L920.05,614.6 Z" fill="url(#pMeshL)"/>
<path d="M872.4499999999999,614.2 L917.25,614.2 L930.8499999999999,631.6 L930.8499999999999,696 Q930.8499999999999,708.7 918.05,708.7 L872.55,708.7 Q859.75,708.7 859.75,696 L859.75,631.6 Z" fill="url(#gBody)"/>
<path d="M872.4499999999999,614.2 L917.25,614.2 L930.8499999999999,631.6 L859.75,631.6 Z" fill="#262626" opacity="0.55"/>
<path d="M865.8499999999999,639.3 L924.65,639.3 L924.65,693 Q924.65,701.9 915.65,701.9 L874.8499999999999,701.9 Q865.8499999999999,701.9 865.8499999999999,693 Z" fill="url(#gWin)"/>
<path d="M885.1,646.5 L884.5,646.2 L884.0,646.2 L883.5,646.3 L883.0,646.4 L882.5,646.6 L882.0,646.8 L881.4,647.1 L880.8,647.4 L880.2,647.7 L879.7,648.0 L879.2,648.3 L878.6,648.7 L878.0,649.0 L877.3,649.4 L876.6,649.9 L875.9,650.4 L875.2,651.1 L874.5,651.8 L873.8,652.6 L873.3,653.6 L873.0,654.6 L872.8,655.6 L872.7,656.6 L872.8,657.5 L872.9,658.4 L873.1,659.3 L873.3,660.2 L873.5,661.0 L873.8,661.8 L874.1,662.6 L874.5,663.5 L874.9,664.4 L875.3,665.3 L875.8,666.1 L876.3,667.0 L876.8,667.8 L877.4,668.6 L877.9,669.4 L878.4,670.2 L878.8,670.9 L879.4,671.7 L879.9,672.5 L880.5,673.2 L881.0,673.8 L881.5,674.5 L882.0,675.1 L882.4,675.6 L882.8,676.1 L883.0,676.5 L883.2,676.9 L883.4,677.3 L883.6,677.7 L883.7,678.1 L883.8,678.5 L883.9,678.8 L883.9,679.1 L883.9,679.4 L884.0,679.7 L884.0,680.1 L884.0,680.4 L884.0,680.7 L884.0,681.1 L883.9,681.5 L883.8,681.9 L883.7,682.4 L883.5,682.9 L883.3,683.4 L883.0,683.9 L882.8,684.5 L882.5,685.1 L882.2,685.6 L881.9,686.3 L881.4,686.9 L880.9,687.6 L880.5,688.4 L880.0,689.1 L879.6,689.8 L879.2,690.4 L879.0,691.0 L879.1,691.8 L879.1,691.8 L879.9,691.9 L880.5,691.7 L881.1,691.4 L881.8,691.0 L882.6,690.5 L883.3,689.9 L884.0,689.4 L884.7,688.8 L885.4,688.2 L886.0,687.7 L886.5,687.1 L887.0,686.6 L887.5,686.1 L887.9,685.5 L888.4,684.9 L888.8,684.3 L889.2,683.6 L889.5,682.9 L889.8,682.2 L890.0,681.5 L890.2,680.7 L890.3,680.0 L890.3,679.2 L890.3,678.5 L890.2,677.7 L890.0,677.0 L889.8,676.3 L889.6,675.5 L889.3,674.8 L889.0,674.1 L888.6,673.3 L888.1,672.5 L887.6,671.8 L887.0,671.1 L886.5,670.5 L886.0,669.8 L885.5,669.2 L885.0,668.6 L884.6,668.0 L884.2,667.4 L883.7,666.7 L883.2,665.9 L882.7,665.2 L882.3,664.4 L881.8,663.7 L881.4,662.9 L881.0,662.2 L880.6,661.5 L880.3,660.9 L880.1,660.3 L879.8,659.7 L879.6,659.0 L879.4,658.4 L879.3,657.9 L879.2,657.3 L879.1,656.9 L879.1,656.5 L879.1,656.1 L879.0,655.9 L879.0,655.7 L879.0,655.5 L879.1,655.3 L879.3,654.9 L879.7,654.4 L880.1,654.0 L880.6,653.4 L881.1,652.9 L881.6,652.4 L882.1,651.8 L882.6,651.3 L882.9,650.8 L883.3,650.3 L883.7,649.9 L884.0,649.4 L884.3,649.0 L884.6,648.5 L884.9,648.1 L885.1,647.6 L885.2,647.2 L885.1,646.5Z" fill="url(#gSteam)"/>
<path d="M897.5,646.5 L896.9,646.2 L896.4,646.2 L895.9,646.3 L895.4,646.4 L894.9,646.6 L894.4,646.8 L893.8,647.1 L893.2,647.4 L892.6,647.7 L892.1,648.0 L891.6,648.3 L891.0,648.7 L890.4,649.0 L889.7,649.4 L889.0,649.9 L888.3,650.4 L887.6,651.1 L886.9,651.8 L886.2,652.6 L885.7,653.6 L885.4,654.6 L885.2,655.6 L885.1,656.6 L885.2,657.5 L885.3,658.4 L885.5,659.3 L885.7,660.2 L885.9,661.0 L886.2,661.8 L886.5,662.6 L886.9,663.5 L887.3,664.4 L887.7,665.3 L888.2,666.1 L888.7,667.0 L889.2,667.8 L889.8,668.6 L890.3,669.4 L890.8,670.2 L891.2,670.9 L891.8,671.7 L892.3,672.5 L892.9,673.2 L893.4,673.8 L893.9,674.5 L894.4,675.1 L894.8,675.6 L895.2,676.1 L895.4,676.5 L895.6,676.9 L895.8,677.3 L896.0,677.7 L896.1,678.1 L896.2,678.5 L896.3,678.8 L896.3,679.1 L896.3,679.4 L896.4,679.7 L896.4,680.1 L896.4,680.4 L896.4,680.7 L896.4,681.1 L896.3,681.5 L896.2,681.9 L896.1,682.4 L895.9,682.9 L895.7,683.4 L895.4,683.9 L895.2,684.5 L894.9,685.1 L894.6,685.6 L894.3,686.3 L893.8,686.9 L893.3,687.6 L892.9,688.4 L892.4,689.1 L892.0,689.8 L891.6,690.4 L891.4,691.0 L891.5,691.8 L891.5,691.8 L892.3,691.9 L892.9,691.7 L893.5,691.4 L894.2,691.0 L895.0,690.5 L895.7,689.9 L896.4,689.4 L897.1,688.8 L897.8,688.2 L898.4,687.7 L898.9,687.1 L899.4,686.6 L899.9,686.1 L900.3,685.5 L900.8,684.9 L901.2,684.3 L901.6,683.6 L901.9,682.9 L902.2,682.2 L902.4,681.5 L902.6,680.7 L902.7,680.0 L902.7,679.2 L902.7,678.5 L902.6,677.7 L902.4,677.0 L902.2,676.3 L902.0,675.5 L901.7,674.8 L901.4,674.1 L901.0,673.3 L900.5,672.5 L900.0,671.8 L899.4,671.1 L898.9,670.5 L898.4,669.8 L897.9,669.2 L897.4,668.6 L897.0,668.0 L896.6,667.4 L896.1,666.7 L895.6,665.9 L895.1,665.2 L894.7,664.4 L894.2,663.7 L893.8,662.9 L893.4,662.2 L893.0,661.5 L892.7,660.9 L892.5,660.3 L892.2,659.7 L892.0,659.0 L891.8,658.4 L891.7,657.9 L891.6,657.3 L891.5,656.9 L891.5,656.5 L891.5,656.1 L891.4,655.9 L891.4,655.7 L891.4,655.5 L891.5,655.3 L891.7,654.9 L892.1,654.4 L892.5,654.0 L893.0,653.4 L893.5,652.9 L894.0,652.4 L894.5,651.8 L895.0,651.3 L895.3,650.8 L895.7,650.3 L896.1,649.9 L896.4,649.4 L896.7,649.0 L897.0,648.5 L897.3,648.1 L897.5,647.6 L897.6,647.2 L897.5,646.5Z" fill="url(#gSteam)"/>
<path d="M909.9,646.5 L909.3,646.2 L908.8,646.2 L908.3,646.3 L907.8,646.4 L907.3,646.6 L906.8,646.8 L906.2,647.1 L905.6,647.4 L905.0,647.7 L904.5,648.0 L904.0,648.3 L903.4,648.7 L902.8,649.0 L902.1,649.4 L901.4,649.9 L900.7,650.4 L900.0,651.1 L899.3,651.8 L898.6,652.6 L898.1,653.6 L897.8,654.6 L897.6,655.6 L897.5,656.6 L897.6,657.5 L897.7,658.4 L897.9,659.3 L898.1,660.2 L898.3,661.0 L898.6,661.8 L898.9,662.6 L899.3,663.5 L899.7,664.4 L900.1,665.3 L900.6,666.1 L901.1,667.0 L901.6,667.8 L902.2,668.6 L902.7,669.4 L903.2,670.2 L903.6,670.9 L904.2,671.7 L904.7,672.5 L905.3,673.2 L905.8,673.8 L906.3,674.5 L906.8,675.1 L907.2,675.6 L907.6,676.1 L907.8,676.5 L908.0,676.9 L908.2,677.3 L908.4,677.7 L908.5,678.1 L908.6,678.5 L908.7,678.8 L908.7,679.1 L908.7,679.4 L908.8,679.7 L908.8,680.1 L908.8,680.4 L908.8,680.7 L908.8,681.1 L908.7,681.5 L908.6,681.9 L908.5,682.4 L908.3,682.9 L908.1,683.4 L907.8,683.9 L907.6,684.5 L907.3,685.1 L907.0,685.6 L906.7,686.3 L906.2,686.9 L905.7,687.6 L905.3,688.4 L904.8,689.1 L904.4,689.8 L904.0,690.4 L903.8,691.0 L903.9,691.8 L903.9,691.8 L904.7,691.9 L905.3,691.7 L905.9,691.4 L906.6,691.0 L907.4,690.5 L908.1,689.9 L908.8,689.4 L909.5,688.8 L910.2,688.2 L910.8,687.7 L911.3,687.1 L911.8,686.6 L912.3,686.1 L912.7,685.5 L913.2,684.9 L913.6,684.3 L914.0,683.6 L914.3,682.9 L914.6,682.2 L914.8,681.5 L915.0,680.7 L915.1,680.0 L915.1,679.2 L915.1,678.5 L915.0,677.7 L914.8,677.0 L914.6,676.3 L914.4,675.5 L914.1,674.8 L913.8,674.1 L913.4,673.3 L912.9,672.5 L912.4,671.8 L911.8,671.1 L911.3,670.5 L910.8,669.8 L910.3,669.2 L909.8,668.6 L909.4,668.0 L909.0,667.4 L908.5,666.7 L908.0,665.9 L907.5,665.2 L907.1,664.4 L906.6,663.7 L906.2,662.9 L905.8,662.2 L905.4,661.5 L905.1,660.9 L904.9,660.3 L904.6,659.7 L904.4,659.0 L904.2,658.4 L904.1,657.9 L904.0,657.3 L903.9,656.9 L903.9,656.5 L903.9,656.1 L903.8,655.9 L903.8,655.7 L903.8,655.5 L903.9,655.3 L904.1,654.9 L904.5,654.4 L904.9,654.0 L905.4,653.4 L905.9,652.9 L906.4,652.4 L906.9,651.8 L907.4,651.3 L907.7,650.8 L908.1,650.3 L908.5,649.9 L908.8,649.4 L909.1,649.0 L909.4,648.5 L909.7,648.1 L909.9,647.6 L910.0,647.2 L909.9,646.5Z" fill="url(#gSteam)"/>
<path d="M1064.2,916.0 L1064.2,893.3 L643.5,893.3 L643.5,1011.8 L580.0,1011.8" fill="none" stroke="#000" stroke-opacity="0.20" stroke-width="13.5" stroke-linejoin="round" filter="url(#fSoft2)" transform="translate(0.6,1.0)"/>
<path d="M1064.2,916.0 L1064.2,893.3 L643.5,893.3 L643.5,1011.8 L580.0,1011.8" fill="none" stroke="#7c7c7c" stroke-width="11" stroke-linejoin="round"/>
<path d="M1065.1,916.0 L1065.1,893.3 A0.9,0.9 0 0 0 1064.2,892.4 L643.5,892.4 A0.9,0.9 0 0 0 642.6,893.3 L642.6,1010.9 L580.0,1010.9" fill="none" stroke="#6a6a6a" stroke-width="9.2" stroke-linejoin="round"/>
<path d="M1066.1,916.0 L1066.1,893.3 A1.9,1.9 0 0 0 1064.2,891.4 L643.5,891.4 A1.9,1.9 0 0 0 641.6,893.3 L641.6,1009.9 L580.0,1009.9" fill="none" stroke="#595959" stroke-width="7.2" stroke-linejoin="round"/>
<path d="M1067.1,916.0 L1067.1,893.3 A2.9,2.9 0 0 0 1064.2,890.4 L643.5,890.4 A2.9,2.9 0 0 0 640.6,893.3 L640.6,1008.9 L580.0,1008.9" fill="none" stroke="#494949" stroke-width="5.2" stroke-linejoin="round"/>
<path d="M1068.8,916.0 L1068.8,893.3 A4.6,4.6 0 0 0 1064.2,888.7 L643.5,888.7 A4.6,4.6 0 0 0 638.9,893.3 L638.9,1007.2 L580.0,1007.2" fill="none" stroke="#262626" stroke-width="1.8" stroke-linejoin="miter"/>
<path d="M385.3,1005.0 L385.3,1032.7 L460.0,1032.7" fill="none" stroke="#000" stroke-opacity="0.20" stroke-width="13.5" stroke-linejoin="round" filter="url(#fSoft2)" transform="translate(0.6,1.0)"/>
<path d="M385.3,1005.0 L385.3,1032.7 L460.0,1032.7" fill="none" stroke="#7c7c7c" stroke-width="11" stroke-linejoin="round"/>
<path d="M384.4,1005.0 L384.4,1032.7 A0.9,0.9 0 0 0 385.3,1033.6 L460.0,1033.6" fill="none" stroke="#6a6a6a" stroke-width="9.2" stroke-linejoin="round"/>
<path d="M383.4,1005.0 L383.4,1032.7 A1.9,1.9 0 0 0 385.3,1034.6 L460.0,1034.6" fill="none" stroke="#595959" stroke-width="7.2" stroke-linejoin="round"/>
<path d="M382.4,1005.0 L382.4,1032.7 A2.9,2.9 0 0 0 385.3,1035.6 L460.0,1035.6" fill="none" stroke="#494949" stroke-width="5.2" stroke-linejoin="round"/>
<path d="M380.7,1005.0 L380.7,1032.7 A4.6,4.6 0 0 0 385.3,1037.3 L460.0,1037.3" fill="none" stroke="#262626" stroke-width="1.8" stroke-linejoin="miter"/>
<circle cx="642.6" cy="950.6" r="14.2" fill="#fdfdfd" stroke="#b9b9b9" stroke-width="1.3"/>
<circle cx="642.6" cy="950.6" r="11.2" fill="none" stroke="#d9d9d9" stroke-width="1"/>
<rect x="633.8000000000001" y="941.8000000000001" width="17.6" height="17.6" rx="7" fill="#5c5c5c" stroke="#3a3a3a" stroke-width="1.6"/>
<circle cx="642.6" cy="950.6" r="2.4" fill="#111"/>
<rect x="376.3" y="909.8" width="5.1" height="8.2" rx="1" fill="#bdbdbd" />
<rect x="388.4" y="909.8" width="5.5" height="8.2" rx="1" fill="#bdbdbd" />
<path d="M357.6,976 L357.6,930 Q357.6,916.4 371,916.4 L400.3,916.4 Q413.7,916.4 413.7,930 L413.7,976 Z" fill="url(#gBody)"/>
<path d="M363.8,968.8 L363.8,932 Q363.8,923 372.8,923 L397,923 Q406,923 406,932 L406,968.8 Z" fill="url(#gWin2)"/>
<path d="M381.8,923 L397.6,923 L397.6,955.6 L380.7,955.6 L380.7,963.7 L363.8,963.7 L363.8,955.6 L381.8,955.6 Z" fill="#f26a1f"/>
<rect x="357.6" y="975.8" width="56.1" height="10.6" rx="0" fill="url(#gWhiteV)" />
<polygon points="357.6,986.4 413.7,986.4 406,997.8 367.5,997.8" fill="#3a3a3a"/>
<rect x="373.0" y="997.5" width="23.1" height="13.5" rx="2" fill="url(#gDarkH)" />
<ellipse cx="522.0" cy="1130.0" rx="58.0" ry="6.0" fill="#000" opacity="0.4" filter="url(#fSoft)"/>
<rect x="453.3" y="1021.6" width="17.7" height="24.6" rx="4" fill="url(#gDarkV)" />
<rect x="573.0" y="1000.0" width="16.7" height="24.2" rx="4" fill="url(#gDarkV)" />
<polygon points="458.8,949 587.5,949 574.3,969.5 469.8,969.5" fill="#474747"/>
<path d="M469.8,969 L574.3,969 L574.3,1116 Q574.3,1128.7 561.5,1128.7 L482.6,1128.7 Q469.8,1128.7 469.8,1116 Z" fill="url(#gBody)"/>
<path d="M476,975.4 L567.7,975.4 L567.7,1110 Q567.7,1119.9 558,1119.9 L485.7,1119.9 Q476,1119.9 476,1110 Z" fill="url(#gWin)"/>
<rect x="498.7" y="1053.0" width="2.6" height="2.6" fill="#9eabbb" opacity="0.72"/>
<rect x="479.6" y="1092.9" width="2.6" height="2.6" fill="#9eabbb" opacity="0.67"/>
<rect x="498.4" y="1114.4" width="2.6" height="2.6" fill="#9eabbb" opacity="0.76"/>
<rect x="549.6" y="1043.8" width="2.6" height="2.6" fill="#9eabbb" opacity="0.84"/>
<rect x="491.3" y="1065.3" width="2.6" height="2.6" fill="#9eabbb" opacity="0.94"/>
<rect x="483.9" y="1082.1" width="2.6" height="2.6" fill="#9eabbb" opacity="0.82"/>
<rect x="504.1" y="983.2" width="2.6" height="2.6" fill="#9eabbb" opacity="0.94"/>
<rect x="518.7" y="1076.8" width="2.6" height="2.6" fill="#9eabbb" opacity="0.87"/>
<rect x="556.8" y="1032.7" width="2.6" height="2.6" fill="#9eabbb" opacity="0.91"/>
<rect x="516.3" y="1106.2" width="2.6" height="2.6" fill="#9eabbb" opacity="0.95"/>
<rect x="486.8" y="997.5" width="2.6" height="2.6" fill="#9eabbb" opacity="0.65"/>
<rect x="560.6" y="1038.3" width="2.6" height="2.6" fill="#9eabbb" opacity="0.83"/>
<rect x="504.1" y="1048.0" width="2.6" height="2.6" fill="#9eabbb" opacity="0.72"/>
<rect x="555.4" y="1071.7" width="2.6" height="2.6" fill="#9eabbb" opacity="0.97"/>
<rect x="551.3" y="1113.8" width="2.6" height="2.6" fill="#9eabbb" opacity="0.85"/>
<rect x="492.4" y="1096.0" width="2.6" height="2.6" fill="#9eabbb" opacity="0.98"/>
<rect x="555.4" y="1056.4" width="2.6" height="2.6" fill="#9eabbb" opacity="0.87"/>
<rect x="496.4" y="1092.1" width="2.6" height="2.6" fill="#9eabbb" opacity="0.81"/>
<rect x="502.7" y="987.6" width="2.6" height="2.6" fill="#9eabbb" opacity="0.93"/>
<rect x="562.6" y="991.0" width="2.6" height="2.6" fill="#9eabbb" opacity="0.91"/>
<rect x="543.8" y="1097.7" width="2.6" height="2.6" fill="#9eabbb" opacity="0.57"/>
<rect x="530.7" y="985.1" width="2.6" height="2.6" fill="#9eabbb" opacity="0.87"/>
<rect x="506.6" y="1098.8" width="2.6" height="2.6" fill="#9eabbb" opacity="0.99"/>
<rect x="521.5" y="1114.8" width="2.6" height="2.6" fill="#9eabbb" opacity="0.69"/>
<rect x="485.0" y="1060.6" width="2.6" height="2.6" fill="#9eabbb" opacity="0.56"/>
<rect x="495.3" y="1034.5" width="2.6" height="2.6" fill="#9eabbb" opacity="0.82"/>
<rect x="491.8" y="984.8" width="2.6" height="2.6" fill="#9eabbb" opacity="0.94"/>
<rect x="505.2" y="1109.4" width="2.6" height="2.6" fill="#9eabbb" opacity="0.95"/>
<rect x="510.6" y="1041.6" width="2.6" height="2.6" fill="#9eabbb" opacity="0.78"/>
<rect x="531.2" y="1106.9" width="2.6" height="2.6" fill="#9eabbb" opacity="0.78"/>
<rect x="504.1" y="1112.0" width="2.6" height="2.6" fill="#9eabbb" opacity="0.78"/>
<rect x="525.1" y="980.6" width="2.6" height="2.6" fill="#9eabbb" opacity="0.74"/>
<rect x="527.8" y="981.7" width="2.6" height="2.6" fill="#9eabbb" opacity="0.83"/>
<rect x="532.2" y="987.2" width="2.6" height="2.6" fill="#9eabbb" opacity="0.83"/>
<rect x="483.6" y="1070.9" width="2.6" height="2.6" fill="#9eabbb" opacity="0.98"/>
<rect x="499.8" y="1041.1" width="2.6" height="2.6" fill="#9eabbb" opacity="0.82"/>
<rect x="497.4" y="1088.3" width="2.6" height="2.6" fill="#9eabbb" opacity="0.66"/>
<rect x="494.4" y="1038.2" width="2.6" height="2.6" fill="#9eabbb" opacity="0.86"/>
<rect x="487.2" y="1022.8" width="2.6" height="2.6" fill="#9eabbb" opacity="0.70"/>
<rect x="549.4" y="1038.6" width="2.6" height="2.6" fill="#9eabbb" opacity="0.93"/>
<rect x="492.9" y="1024.8" width="2.6" height="2.6" fill="#9eabbb" opacity="0.84"/>
<rect x="553.7" y="1040.3" width="2.6" height="2.6" fill="#9eabbb" opacity="0.65"/>
<rect x="488.8" y="1051.0" width="2.6" height="2.6" fill="#9eabbb" opacity="0.64"/>
<rect x="547.1" y="1093.0" width="2.6" height="2.6" fill="#9eabbb" opacity="0.63"/>
<rect x="547.0" y="1026.0" width="2.6" height="2.6" fill="#9eabbb" opacity="0.61"/>
<rect x="513.3" y="1104.2" width="2.6" height="2.6" fill="#9eabbb" opacity="0.62"/>
<rect x="478.9" y="1107.3" width="2.6" height="2.6" fill="#9eabbb" opacity="0.95"/>
<rect x="562.4" y="1038.1" width="2.6" height="2.6" fill="#9eabbb" opacity="0.98"/>
<rect x="557.3" y="1009.2" width="2.6" height="2.6" fill="#9eabbb" opacity="0.89"/>
<rect x="549.6" y="1069.2" width="2.6" height="2.6" fill="#9eabbb" opacity="0.78"/>
<rect x="484.3" y="1059.1" width="2.6" height="2.6" fill="#9eabbb" opacity="0.68"/>
<rect x="547.4" y="985.1" width="2.6" height="2.6" fill="#9eabbb" opacity="0.96"/>
<rect x="537.5" y="1104.6" width="2.6" height="2.6" fill="#9eabbb" opacity="0.95"/>
<rect x="555.0" y="1057.5" width="2.6" height="2.6" fill="#9eabbb" opacity="0.56"/>
<rect x="541.9" y="1002.4" width="2.6" height="2.6" fill="#9eabbb" opacity="0.68"/>
<rect x="534.8" y="1050.4" width="2.6" height="2.6" fill="#9eabbb" opacity="0.74"/>
<rect x="558.3" y="1062.3" width="2.6" height="2.6" fill="#9eabbb" opacity="0.70"/>
<rect x="545.0" y="1026.9" width="2.6" height="2.6" fill="#9eabbb" opacity="0.64"/>
<rect x="545.8" y="1104.4" width="2.6" height="2.6" fill="#9eabbb" opacity="0.91"/>
<rect x="548.5" y="980.0" width="2.6" height="2.6" fill="#9eabbb" opacity="0.83"/>
<rect x="551.8" y="985.8" width="2.6" height="2.6" fill="#9eabbb" opacity="0.67"/>
<rect x="501.3" y="1050.7" width="2.6" height="2.6" fill="#9eabbb" opacity="0.74"/>
<rect x="483.2" y="996.3" width="2.6" height="2.6" fill="#9eabbb" opacity="0.61"/>
<rect x="551.1" y="990.7" width="2.6" height="2.6" fill="#9eabbb" opacity="0.78"/>
<rect x="494.7" y="1023.7" width="2.6" height="2.6" fill="#9eabbb" opacity="0.61"/>
<rect x="485.3" y="1003.3" width="2.6" height="2.6" fill="#9eabbb" opacity="0.72"/>
<rect x="546.6" y="1063.7" width="2.6" height="2.6" fill="#9eabbb" opacity="0.74"/>
<rect x="510.2" y="1046.5" width="2.6" height="2.6" fill="#9eabbb" opacity="0.87"/>
<rect x="499.3" y="1051.9" width="2.6" height="2.6" fill="#9eabbb" opacity="0.86"/>
<rect x="484.6" y="1036.8" width="2.6" height="2.6" fill="#9eabbb" opacity="0.74"/>
<rect x="553.3" y="1106.4" width="2.6" height="2.6" fill="#9eabbb" opacity="0.72"/>
<rect x="554.8" y="1086.6" width="2.6" height="2.6" fill="#9eabbb" opacity="0.67"/>
<rect x="518.0" y="995.7" width="2.6" height="2.6" fill="#9eabbb" opacity="0.85"/>
<rect x="553.9" y="1086.8" width="2.6" height="2.6" fill="#9eabbb" opacity="0.85"/>
<rect x="528.5" y="979.7" width="2.6" height="2.6" fill="#9eabbb" opacity="0.61"/>
<rect x="544.3" y="985.0" width="2.6" height="2.6" fill="#9eabbb" opacity="0.59"/>
<rect x="486.9" y="1098.7" width="2.6" height="2.6" fill="#9eabbb" opacity="0.63"/>
<rect x="480.5" y="1093.4" width="2.6" height="2.6" fill="#9eabbb" opacity="0.60"/>
<rect x="550.2" y="1070.6" width="2.6" height="2.6" fill="#9eabbb" opacity="0.93"/>
<rect x="559.5" y="1057.8" width="2.6" height="2.6" fill="#9eabbb" opacity="0.91"/>
<rect x="481.6" y="1083.4" width="2.6" height="2.6" fill="#9eabbb" opacity="0.78"/>
<rect x="557.9" y="987.3" width="2.6" height="2.6" fill="#9eabbb" opacity="0.70"/>
<rect x="493.8" y="1013.0" width="2.6" height="2.6" fill="#9eabbb" opacity="0.83"/>
<rect x="542.6" y="1032.5" width="2.6" height="2.6" fill="#9eabbb" opacity="0.72"/>
<rect x="485.6" y="1047.0" width="2.6" height="2.6" fill="#9eabbb" opacity="0.99"/>
<rect x="522.5" y="1044.8" width="2.6" height="2.6" fill="#9eabbb" opacity="0.84"/>
<rect x="554.8" y="999.3" width="2.6" height="2.6" fill="#9eabbb" opacity="0.59"/>
<rect x="542.1" y="1103.7" width="2.6" height="2.6" fill="#9eabbb" opacity="0.78"/>
<rect x="559.5" y="1019.2" width="2.6" height="2.6" fill="#9eabbb" opacity="0.87"/>
<rect x="490.7" y="1113.8" width="2.6" height="2.6" fill="#9eabbb" opacity="0.77"/>
<rect x="529.4" y="1042.7" width="2.6" height="2.6" fill="#9eabbb" opacity="0.93"/>
<rect x="548.3" y="1054.8" width="2.6" height="2.6" fill="#9eabbb" opacity="0.77"/>
<rect x="540.9" y="1109.6" width="2.6" height="2.6" fill="#9eabbb" opacity="0.76"/>
<rect x="498.0" y="1010.9" width="2.6" height="2.6" fill="#9eabbb" opacity="0.87"/>
<rect x="535.9" y="1109.4" width="2.6" height="2.6" fill="#9eabbb" opacity="0.93"/>
<rect x="494.4" y="1074.8" width="2.6" height="2.6" fill="#9eabbb" opacity="0.94"/>
<rect x="555.0" y="1013.7" width="2.6" height="2.6" fill="#9eabbb" opacity="0.94"/>
<rect x="485.8" y="991.6" width="2.6" height="2.6" fill="#9eabbb" opacity="0.93"/>
<rect x="535.9" y="979.9" width="2.6" height="2.6" fill="#9eabbb" opacity="0.70"/>
<rect x="515.6" y="1045.1" width="2.6" height="2.6" fill="#9eabbb" opacity="0.64"/>
<rect x="528.2" y="1108.9" width="2.6" height="2.6" fill="#9eabbb" opacity="0.73"/>
<rect x="535.1" y="994.3" width="2.6" height="2.6" fill="#9eabbb" opacity="0.96"/>
<rect x="486.7" y="1107.0" width="2.6" height="2.6" fill="#9eabbb" opacity="0.72"/>
<rect x="544.2" y="1082.0" width="2.6" height="2.6" fill="#9eabbb" opacity="0.68"/>
<rect x="536.0" y="1068.0" width="2.6" height="2.6" fill="#9eabbb" opacity="0.67"/>
<rect x="542.6" y="1109.7" width="2.6" height="2.6" fill="#9eabbb" opacity="0.85"/>
<rect x="532.1" y="1003.4" width="2.6" height="2.6" fill="#9eabbb" opacity="0.84"/>
<rect x="489.0" y="1105.7" width="2.6" height="2.6" fill="#9eabbb" opacity="0.61"/>
<rect x="541.4" y="1027.9" width="2.6" height="2.6" fill="#9eabbb" opacity="0.67"/>
<rect x="550.5" y="994.2" width="2.6" height="2.6" fill="#9eabbb" opacity="0.67"/>
<rect x="487.0" y="994.3" width="2.6" height="2.6" fill="#9eabbb" opacity="0.90"/>
<rect x="513.9" y="1080.1" width="2.6" height="2.6" fill="#9eabbb" opacity="0.89"/>
<rect x="495.0" y="1050.8" width="2.6" height="2.6" fill="#9eabbb" opacity="0.81"/>
<rect x="495.7" y="1013.0" width="2.6" height="2.6" fill="#9eabbb" opacity="0.90"/>
<rect x="481.1" y="1088.2" width="2.6" height="2.6" fill="#9eabbb" opacity="0.95"/>
<rect x="559.2" y="1031.1" width="2.6" height="2.6" fill="#9eabbb" opacity="0.80"/>
<rect x="528.1" y="1065.2" width="2.6" height="2.6" fill="#9eabbb" opacity="0.86"/>
<rect x="544.0" y="1069.0" width="2.6" height="2.6" fill="#9eabbb" opacity="0.77"/>
<rect x="523.0" y="1041.6" width="2.6" height="2.6" fill="#9eabbb" opacity="0.64"/>
<rect x="523.5" y="984.0" width="2.6" height="2.6" fill="#9eabbb" opacity="0.78"/>
<rect x="533.4" y="1039.4" width="2.6" height="2.6" fill="#9eabbb" opacity="0.80"/>
<rect x="560.0" y="1100.3" width="2.6" height="2.6" fill="#9eabbb" opacity="0.61"/>
<rect x="545.9" y="1063.8" width="2.6" height="2.6" fill="#9eabbb" opacity="0.57"/>
<rect x="524.3" y="1105.5" width="2.6" height="2.6" fill="#9eabbb" opacity="0.70"/>
<rect x="552.5" y="1073.5" width="2.6" height="2.6" fill="#9eabbb" opacity="0.61"/>
<rect x="551.5" y="1060.8" width="2.6" height="2.6" fill="#9eabbb" opacity="0.97"/>
<rect x="547.1" y="1105.7" width="2.6" height="2.6" fill="#9eabbb" opacity="0.94"/>
<rect x="487.8" y="984.8" width="2.6" height="2.6" fill="#9eabbb" opacity="0.59"/>
<rect x="495.5" y="1000.9" width="2.6" height="2.6" fill="#9eabbb" opacity="0.77"/>
<rect x="542.9" y="1033.6" width="2.6" height="2.6" fill="#9eabbb" opacity="0.63"/>
<rect x="554.9" y="1076.9" width="2.6" height="2.6" fill="#9eabbb" opacity="0.72"/>
<rect x="510.0" y="1051.0" width="2.6" height="2.6" fill="#9eabbb" opacity="0.82"/>
<rect x="497.5" y="979.4" width="2.6" height="2.6" fill="#9eabbb" opacity="0.64"/>
<rect x="545.1" y="998.5" width="2.6" height="2.6" fill="#9eabbb" opacity="0.76"/>
<rect x="495.1" y="1007.5" width="2.6" height="2.6" fill="#9eabbb" opacity="0.63"/>
<rect x="487.9" y="1001.9" width="2.6" height="2.6" fill="#9eabbb" opacity="0.77"/>
<rect x="483.6" y="982.1" width="2.6" height="2.6" fill="#9eabbb" opacity="0.75"/>
<rect x="560.6" y="1008.8" width="2.6" height="2.6" fill="#9eabbb" opacity="0.59"/>
<rect x="518.1" y="1105.9" width="2.6" height="2.6" fill="#9eabbb" opacity="0.69"/>
<rect x="499.7" y="1015.2" width="2.6" height="2.6" fill="#9eabbb" opacity="0.83"/>
<rect x="507.8" y="991.7" width="2.6" height="2.6" fill="#9eabbb" opacity="0.86"/>
<rect x="560.9" y="1059.5" width="2.6" height="2.6" fill="#9eabbb" opacity="0.55"/>
<rect x="481.1" y="991.3" width="2.6" height="2.6" fill="#9eabbb" opacity="0.63"/>
<rect x="481.6" y="986.3" width="2.6" height="2.6" fill="#9eabbb" opacity="0.84"/>
<rect x="555.0" y="1006.3" width="2.6" height="2.6" fill="#9eabbb" opacity="0.99"/>
<rect x="519.0" y="1088.3" width="2.6" height="2.6" fill="#9eabbb" opacity="0.97"/>
<rect x="481.4" y="1020.4" width="2.6" height="2.6" fill="#9eabbb" opacity="0.82"/>
<rect x="559.0" y="990.9" width="2.6" height="2.6" fill="#9eabbb" opacity="0.68"/>
<rect x="550.7" y="994.6" width="2.6" height="2.6" fill="#9eabbb" opacity="0.73"/>
<rect x="506.9" y="1071.5" width="2.6" height="2.6" fill="#9eabbb" opacity="0.63"/>
<rect x="541.4" y="1078.8" width="2.6" height="2.6" fill="#9eabbb" opacity="0.93"/>
<rect x="525.5" y="1104.6" width="2.6" height="2.6" fill="#9eabbb" opacity="0.71"/>
<rect x="511.4" y="1045.2" width="2.6" height="2.6" fill="#9eabbb" opacity="0.62"/>
<rect x="538.9" y="982.1" width="2.6" height="2.6" fill="#9eabbb" opacity="0.76"/>
<rect x="543.0" y="1071.1" width="2.6" height="2.6" fill="#9eabbb" opacity="0.59"/>
<rect x="498.7" y="1093.7" width="2.6" height="2.6" fill="#9eabbb" opacity="0.84"/>
<rect x="553.2" y="1097.6" width="2.6" height="2.6" fill="#9eabbb" opacity="0.75"/>
<rect x="554.7" y="1078.7" width="2.6" height="2.6" fill="#9eabbb" opacity="0.70"/>
<rect x="510.0" y="988.8" width="2.6" height="2.6" fill="#9eabbb" opacity="0.73"/>
<rect x="559.7" y="993.3" width="2.6" height="2.6" fill="#9eabbb" opacity="0.81"/>
<rect x="487.9" y="990.0" width="2.6" height="2.6" fill="#9eabbb" opacity="0.84"/>
<rect x="499.0" y="985.6" width="2.6" height="2.6" fill="#9eabbb" opacity="0.62"/>
<rect x="498.0" y="1110.5" width="2.6" height="2.6" fill="#9eabbb" opacity="0.65"/>
<rect x="494.5" y="1003.2" width="2.6" height="2.6" fill="#9eabbb" opacity="0.59"/>
<rect x="548.7" y="994.3" width="2.6" height="2.6" fill="#9eabbb" opacity="0.56"/>
<rect x="560.6" y="1006.1" width="2.6" height="2.6" fill="#9eabbb" opacity="0.95"/>
<rect x="485.8" y="1042.3" width="2.6" height="2.6" fill="#9eabbb" opacity="0.65"/>
<rect x="549.0" y="1062.7" width="2.6" height="2.6" fill="#9eabbb" opacity="0.84"/>
<rect x="543.2" y="1097.6" width="2.6" height="2.6" fill="#9eabbb" opacity="0.71"/>
<rect x="529.8" y="1039.6" width="2.6" height="2.6" fill="#9eabbb" opacity="0.60"/>
<rect x="549.5" y="1059.8" width="2.6" height="2.6" fill="#9eabbb" opacity="0.92"/>
<rect x="496.0" y="1052.3" width="2.6" height="2.6" fill="#9eabbb" opacity="0.76"/>
<rect x="540.4" y="989.5" width="2.6" height="2.6" fill="#9eabbb" opacity="0.71"/>
<rect x="519.7" y="988.7" width="2.6" height="2.6" fill="#9eabbb" opacity="0.80"/>
<rect x="541.0" y="1036.5" width="2.6" height="2.6" fill="#9eabbb" opacity="0.84"/>
<rect x="563.1" y="1024.6" width="2.6" height="2.6" fill="#9eabbb" opacity="0.74"/>
<rect x="485.7" y="1008.6" width="2.6" height="2.6" fill="#9eabbb" opacity="0.62"/>
<rect x="557.6" y="1077.8" width="2.6" height="2.6" fill="#9eabbb" opacity="0.94"/>
<rect x="562.4" y="1062.3" width="2.6" height="2.6" fill="#9eabbb" opacity="0.97"/>
<rect x="524.0" y="1035.9" width="2.6" height="2.6" fill="#9eabbb" opacity="0.96"/>
<rect x="559.2" y="1044.8" width="2.6" height="2.6" fill="#9eabbb" opacity="0.90"/>
<rect x="513.1" y="1114.6" width="2.6" height="2.6" fill="#9eabbb" opacity="0.96"/>
<rect x="503.3" y="1106.1" width="2.6" height="2.6" fill="#9eabbb" opacity="0.63"/>
<rect x="486.6" y="1077.2" width="2.6" height="2.6" fill="#9eabbb" opacity="0.68"/>
<rect x="541.8" y="1016.5" width="2.6" height="2.6" fill="#9eabbb" opacity="0.74"/>
<rect x="513.4" y="989.5" width="2.6" height="2.6" fill="#9eabbb" opacity="0.62"/>
<rect x="543.3" y="1074.3" width="2.6" height="2.6" fill="#9eabbb" opacity="0.99"/>
<rect x="561.8" y="1098.2" width="2.6" height="2.6" fill="#9eabbb" opacity="0.72"/>
<rect x="492.2" y="1021.4" width="2.6" height="2.6" fill="#9eabbb" opacity="0.76"/>
<rect x="551.0" y="1017.8" width="2.6" height="2.6" fill="#9eabbb" opacity="0.76"/>
<rect x="553.9" y="1088.8" width="2.6" height="2.6" fill="#9eabbb" opacity="0.68"/>
<rect x="489.7" y="1051.2" width="2.6" height="2.6" fill="#9eabbb" opacity="0.79"/>
<rect x="492.6" y="985.8" width="2.6" height="2.6" fill="#9eabbb" opacity="0.64"/>
<rect x="543.9" y="1042.3" width="2.6" height="2.6" fill="#9eabbb" opacity="0.99"/>
<rect x="545.3" y="1112.2" width="2.6" height="2.6" fill="#9eabbb" opacity="0.57"/>
<rect x="494.2" y="980.8" width="2.6" height="2.6" fill="#9eabbb" opacity="0.74"/>
<rect x="507.3" y="986.0" width="2.6" height="2.6" fill="#9eabbb" opacity="0.80"/>
<rect x="486.5" y="1021.4" width="2.6" height="2.6" fill="#9eabbb" opacity="0.66"/>
<rect x="546.7" y="1035.9" width="2.6" height="2.6" fill="#9eabbb" opacity="0.67"/>
<rect x="482.2" y="1037.4" width="2.6" height="2.6" fill="#9eabbb" opacity="0.83"/>
<rect x="535.9" y="1103.1" width="2.6" height="2.6" fill="#9eabbb" opacity="0.91"/>
<rect x="545.6" y="1048.2" width="2.6" height="2.6" fill="#9eabbb" opacity="0.92"/>
<rect x="479.9" y="1066.5" width="2.6" height="2.6" fill="#9eabbb" opacity="0.95"/>
<rect x="555.5" y="1042.6" width="2.6" height="2.6" fill="#9eabbb" opacity="0.85"/>
<rect x="557.4" y="1089.7" width="2.6" height="2.6" fill="#9eabbb" opacity="0.82"/>
<rect x="513.7" y="1049.5" width="2.6" height="2.6" fill="#9eabbb" opacity="0.63"/>
<rect x="494.1" y="1072.0" width="2.6" height="2.6" fill="#9eabbb" opacity="1.00"/>
<rect x="560.0" y="1000.1" width="2.6" height="2.6" fill="#9eabbb" opacity="0.69"/>
<rect x="522.9" y="1035.0" width="2.6" height="2.6" fill="#9eabbb" opacity="0.92"/>
<rect x="557.7" y="1062.3" width="2.6" height="2.6" fill="#9eabbb" opacity="0.56"/>
<rect x="502.3" y="1075.5" width="2.6" height="2.6" fill="#9eabbb" opacity="0.60"/>
<rect x="554.6" y="1109.6" width="2.6" height="2.6" fill="#9eabbb" opacity="0.84"/>
<rect x="495.1" y="1104.2" width="2.6" height="2.6" fill="#9eabbb" opacity="0.63"/>
<path d="M511.3,993.0 L510.7,992.7 L510.3,992.7 L509.8,992.8 L509.3,992.9 L508.8,993.1 L508.2,993.3 L507.6,993.6 L507.1,993.9 L506.5,994.2 L506.0,994.5 L505.4,994.8 L504.9,995.1 L504.3,995.5 L503.6,995.9 L502.9,996.4 L502.1,996.9 L501.4,997.5 L500.7,998.2 L500.1,999.1 L499.6,1000.1 L499.2,1001.1 L499.0,1002.1 L498.9,1003.0 L499.0,1004.0 L499.1,1004.9 L499.3,1005.7 L499.5,1006.6 L499.8,1007.4 L500.1,1008.2 L500.3,1009.0 L500.7,1009.9 L501.1,1010.8 L501.6,1011.6 L502.1,1012.5 L502.6,1013.4 L503.1,1014.2 L503.6,1015.0 L504.1,1015.8 L504.6,1016.5 L505.1,1017.3 L505.6,1018.0 L506.2,1018.8 L506.7,1019.5 L507.3,1020.2 L507.8,1020.8 L508.3,1021.4 L508.7,1021.9 L509.0,1022.4 L509.3,1022.8 L509.5,1023.2 L509.7,1023.6 L509.8,1024.0 L510.0,1024.4 L510.1,1024.8 L510.1,1025.1 L510.2,1025.4 L510.2,1025.7 L510.2,1026.0 L510.3,1026.3 L510.3,1026.7 L510.3,1027.0 L510.2,1027.3 L510.2,1027.7 L510.1,1028.2 L509.9,1028.6 L509.7,1029.1 L509.5,1029.6 L509.3,1030.2 L509.0,1030.7 L508.8,1031.3 L508.5,1031.9 L508.1,1032.5 L507.7,1033.2 L507.2,1033.9 L506.7,1034.6 L506.2,1035.3 L505.8,1036.0 L505.5,1036.6 L505.2,1037.2 L505.4,1038.0 L505.4,1038.0 L506.1,1038.1 L506.7,1037.9 L507.4,1037.6 L508.1,1037.2 L508.8,1036.7 L509.6,1036.2 L510.3,1035.6 L511.0,1035.0 L511.7,1034.5 L512.2,1033.9 L512.8,1033.4 L513.3,1032.9 L513.7,1032.3 L514.2,1031.8 L514.6,1031.2 L515.0,1030.5 L515.4,1029.9 L515.7,1029.2 L516.0,1028.5 L516.3,1027.7 L516.4,1027.0 L516.5,1026.2 L516.6,1025.5 L516.5,1024.7 L516.4,1024.0 L516.3,1023.3 L516.1,1022.6 L515.8,1021.8 L515.6,1021.1 L515.2,1020.4 L514.8,1019.6 L514.3,1018.8 L513.8,1018.1 L513.3,1017.4 L512.8,1016.8 L512.2,1016.1 L511.7,1015.5 L511.3,1014.9 L510.8,1014.3 L510.4,1013.7 L510.0,1013.0 L509.5,1012.3 L509.0,1011.5 L508.5,1010.8 L508.0,1010.0 L507.6,1009.3 L507.2,1008.6 L506.9,1007.9 L506.6,1007.3 L506.3,1006.7 L506.1,1006.1 L505.9,1005.4 L505.7,1004.8 L505.5,1004.3 L505.4,1003.8 L505.4,1003.3 L505.3,1002.9 L505.3,1002.6 L505.3,1002.3 L505.3,1002.1 L505.3,1002.0 L505.4,1001.7 L505.6,1001.3 L505.9,1000.9 L506.3,1000.4 L506.8,999.9 L507.3,999.4 L507.8,998.9 L508.4,998.3 L508.8,997.8 L509.2,997.3 L509.5,996.8 L509.9,996.4 L510.2,995.9 L510.6,995.5 L510.9,995.0 L511.2,994.6 L511.4,994.1 L511.5,993.7 L511.3,993.0Z" fill="url(#gSteam)"/>
<path d="M523.9,993.0 L523.3,992.7 L522.9,992.7 L522.4,992.8 L521.9,992.9 L521.4,993.1 L520.8,993.3 L520.2,993.6 L519.7,993.9 L519.1,994.2 L518.6,994.5 L518.0,994.8 L517.5,995.1 L516.9,995.5 L516.2,995.9 L515.5,996.4 L514.7,996.9 L514.0,997.5 L513.3,998.2 L512.7,999.1 L512.2,1000.1 L511.8,1001.1 L511.6,1002.1 L511.5,1003.0 L511.6,1004.0 L511.7,1004.9 L511.9,1005.7 L512.1,1006.6 L512.4,1007.4 L512.7,1008.2 L512.9,1009.0 L513.3,1009.9 L513.7,1010.8 L514.2,1011.6 L514.7,1012.5 L515.2,1013.4 L515.7,1014.2 L516.2,1015.0 L516.7,1015.8 L517.2,1016.5 L517.7,1017.3 L518.2,1018.0 L518.8,1018.8 L519.3,1019.5 L519.9,1020.2 L520.4,1020.8 L520.9,1021.4 L521.3,1021.9 L521.6,1022.4 L521.9,1022.8 L522.1,1023.2 L522.3,1023.6 L522.4,1024.0 L522.6,1024.4 L522.7,1024.8 L522.7,1025.1 L522.8,1025.4 L522.8,1025.7 L522.8,1026.0 L522.9,1026.3 L522.9,1026.7 L522.9,1027.0 L522.8,1027.3 L522.8,1027.7 L522.7,1028.2 L522.5,1028.6 L522.3,1029.1 L522.1,1029.6 L521.9,1030.2 L521.6,1030.7 L521.4,1031.3 L521.1,1031.9 L520.7,1032.5 L520.3,1033.2 L519.8,1033.9 L519.3,1034.6 L518.8,1035.3 L518.4,1036.0 L518.1,1036.6 L517.8,1037.2 L518.0,1038.0 L518.0,1038.0 L518.7,1038.1 L519.3,1037.9 L520.0,1037.6 L520.7,1037.2 L521.4,1036.7 L522.2,1036.2 L522.9,1035.6 L523.6,1035.0 L524.3,1034.5 L524.8,1033.9 L525.4,1033.4 L525.9,1032.9 L526.3,1032.3 L526.8,1031.8 L527.2,1031.2 L527.6,1030.5 L528.0,1029.9 L528.3,1029.2 L528.6,1028.5 L528.9,1027.7 L529.0,1027.0 L529.1,1026.2 L529.2,1025.5 L529.1,1024.7 L529.0,1024.0 L528.9,1023.3 L528.7,1022.6 L528.4,1021.8 L528.2,1021.1 L527.8,1020.4 L527.4,1019.6 L526.9,1018.8 L526.4,1018.1 L525.9,1017.4 L525.4,1016.8 L524.8,1016.1 L524.3,1015.5 L523.9,1014.9 L523.4,1014.3 L523.0,1013.7 L522.6,1013.0 L522.1,1012.3 L521.6,1011.5 L521.1,1010.8 L520.6,1010.0 L520.2,1009.3 L519.8,1008.6 L519.5,1007.9 L519.2,1007.3 L518.9,1006.7 L518.7,1006.1 L518.5,1005.4 L518.3,1004.8 L518.1,1004.3 L518.0,1003.8 L518.0,1003.3 L517.9,1002.9 L517.9,1002.6 L517.9,1002.3 L517.9,1002.1 L517.9,1002.0 L518.0,1001.7 L518.2,1001.3 L518.5,1000.9 L518.9,1000.4 L519.4,999.9 L519.9,999.4 L520.4,998.9 L521.0,998.3 L521.4,997.8 L521.8,997.3 L522.1,996.8 L522.5,996.4 L522.8,995.9 L523.2,995.5 L523.5,995.0 L523.8,994.6 L524.0,994.1 L524.1,993.7 L523.9,993.0Z" fill="url(#gSteam)"/>
<path d="M536.5,993.0 L535.9,992.7 L535.5,992.7 L535.0,992.8 L534.5,992.9 L534.0,993.1 L533.4,993.3 L532.8,993.6 L532.3,993.9 L531.7,994.2 L531.2,994.5 L530.6,994.8 L530.1,995.1 L529.5,995.5 L528.8,995.9 L528.1,996.4 L527.3,996.9 L526.6,997.5 L525.9,998.2 L525.3,999.1 L524.8,1000.1 L524.4,1001.1 L524.2,1002.1 L524.1,1003.0 L524.2,1004.0 L524.3,1004.9 L524.5,1005.7 L524.7,1006.6 L525.0,1007.4 L525.3,1008.2 L525.5,1009.0 L525.9,1009.9 L526.3,1010.8 L526.8,1011.6 L527.3,1012.5 L527.8,1013.4 L528.3,1014.2 L528.8,1015.0 L529.3,1015.8 L529.8,1016.5 L530.3,1017.3 L530.8,1018.0 L531.4,1018.8 L531.9,1019.5 L532.5,1020.2 L533.0,1020.8 L533.5,1021.4 L533.9,1021.9 L534.2,1022.4 L534.5,1022.8 L534.7,1023.2 L534.9,1023.6 L535.0,1024.0 L535.2,1024.4 L535.3,1024.8 L535.3,1025.1 L535.4,1025.4 L535.4,1025.7 L535.4,1026.0 L535.5,1026.3 L535.5,1026.7 L535.5,1027.0 L535.4,1027.3 L535.4,1027.7 L535.3,1028.2 L535.1,1028.6 L534.9,1029.1 L534.7,1029.6 L534.5,1030.2 L534.2,1030.7 L534.0,1031.3 L533.7,1031.9 L533.3,1032.5 L532.9,1033.2 L532.4,1033.9 L531.9,1034.6 L531.4,1035.3 L531.0,1036.0 L530.7,1036.6 L530.4,1037.2 L530.6,1038.0 L530.6,1038.0 L531.3,1038.1 L531.9,1037.9 L532.6,1037.6 L533.3,1037.2 L534.0,1036.7 L534.8,1036.2 L535.5,1035.6 L536.2,1035.0 L536.9,1034.5 L537.4,1033.9 L538.0,1033.4 L538.5,1032.9 L538.9,1032.3 L539.4,1031.8 L539.8,1031.2 L540.2,1030.5 L540.6,1029.9 L540.9,1029.2 L541.2,1028.5 L541.5,1027.7 L541.6,1027.0 L541.7,1026.2 L541.8,1025.5 L541.7,1024.7 L541.6,1024.0 L541.5,1023.3 L541.3,1022.6 L541.0,1021.8 L540.8,1021.1 L540.4,1020.4 L540.0,1019.6 L539.5,1018.8 L539.0,1018.1 L538.5,1017.4 L538.0,1016.8 L537.4,1016.1 L536.9,1015.5 L536.5,1014.9 L536.0,1014.3 L535.6,1013.7 L535.2,1013.0 L534.7,1012.3 L534.2,1011.5 L533.7,1010.8 L533.2,1010.0 L532.8,1009.3 L532.4,1008.6 L532.1,1007.9 L531.8,1007.3 L531.5,1006.7 L531.3,1006.1 L531.1,1005.4 L530.9,1004.8 L530.7,1004.3 L530.6,1003.8 L530.6,1003.3 L530.5,1002.9 L530.5,1002.6 L530.5,1002.3 L530.5,1002.1 L530.5,1002.0 L530.6,1001.7 L530.8,1001.3 L531.1,1000.9 L531.5,1000.4 L532.0,999.9 L532.5,999.4 L533.0,998.9 L533.6,998.3 L534.0,997.8 L534.4,997.3 L534.7,996.8 L535.1,996.4 L535.4,995.9 L535.8,995.5 L536.1,995.0 L536.4,994.6 L536.6,994.1 L536.7,993.7 L536.5,993.0Z" fill="url(#gSteam)"/>
<path d="M511.3,1052.5 L510.7,1052.2 L510.3,1052.2 L509.8,1052.3 L509.3,1052.4 L508.8,1052.6 L508.2,1052.8 L507.6,1053.1 L507.1,1053.4 L506.5,1053.7 L505.9,1054.1 L505.4,1054.4 L504.9,1054.7 L504.2,1055.0 L503.6,1055.5 L502.9,1055.9 L502.1,1056.5 L501.4,1057.1 L500.7,1057.8 L500.1,1058.7 L499.6,1059.7 L499.2,1060.7 L499.0,1061.7 L498.9,1062.6 L499.0,1063.6 L499.1,1064.5 L499.3,1065.4 L499.5,1066.2 L499.8,1067.0 L500.1,1067.8 L500.3,1068.7 L500.7,1069.5 L501.1,1070.4 L501.6,1071.3 L502.1,1072.2 L502.6,1073.1 L503.1,1073.9 L503.6,1074.7 L504.1,1075.5 L504.6,1076.3 L505.1,1077.0 L505.6,1077.8 L506.2,1078.6 L506.7,1079.3 L507.3,1079.9 L507.8,1080.6 L508.2,1081.2 L508.7,1081.7 L509.0,1082.2 L509.3,1082.6 L509.5,1083.0 L509.7,1083.4 L509.8,1083.9 L510.0,1084.2 L510.0,1084.6 L510.1,1084.9 L510.2,1085.3 L510.2,1085.6 L510.2,1085.9 L510.3,1086.2 L510.3,1086.6 L510.3,1086.9 L510.2,1087.2 L510.2,1087.6 L510.1,1088.1 L509.9,1088.6 L509.7,1089.1 L509.5,1089.6 L509.3,1090.1 L509.0,1090.7 L508.8,1091.2 L508.5,1091.8 L508.1,1092.4 L507.7,1093.1 L507.2,1093.8 L506.7,1094.6 L506.2,1095.3 L505.8,1096.0 L505.5,1096.6 L505.2,1097.2 L505.4,1098.0 L505.4,1098.0 L506.1,1098.1 L506.7,1097.9 L507.4,1097.6 L508.1,1097.2 L508.8,1096.7 L509.6,1096.1 L510.3,1095.6 L511.0,1095.0 L511.7,1094.4 L512.3,1093.8 L512.8,1093.3 L513.3,1092.8 L513.7,1092.2 L514.2,1091.7 L514.6,1091.1 L515.0,1090.4 L515.4,1089.8 L515.7,1089.1 L516.0,1088.4 L516.3,1087.6 L516.4,1086.9 L516.5,1086.1 L516.6,1085.4 L516.5,1084.6 L516.4,1083.9 L516.3,1083.1 L516.1,1082.4 L515.8,1081.7 L515.6,1081.0 L515.2,1080.2 L514.8,1079.4 L514.3,1078.7 L513.8,1077.9 L513.3,1077.2 L512.8,1076.6 L512.2,1075.9 L511.7,1075.3 L511.3,1074.7 L510.8,1074.1 L510.4,1073.5 L510.0,1072.8 L509.5,1072.0 L509.0,1071.3 L508.5,1070.5 L508.1,1069.8 L507.6,1069.0 L507.2,1068.3 L506.9,1067.6 L506.6,1067.0 L506.3,1066.4 L506.1,1065.7 L505.9,1065.1 L505.7,1064.5 L505.6,1063.9 L505.4,1063.4 L505.4,1062.9 L505.3,1062.5 L505.3,1062.2 L505.3,1061.9 L505.3,1061.7 L505.3,1061.5 L505.4,1061.3 L505.6,1060.9 L505.9,1060.5 L506.3,1060.0 L506.8,1059.5 L507.3,1058.9 L507.8,1058.4 L508.4,1057.9 L508.8,1057.3 L509.2,1056.8 L509.5,1056.4 L509.9,1055.9 L510.3,1055.4 L510.6,1055.0 L510.9,1054.5 L511.2,1054.1 L511.4,1053.6 L511.5,1053.2 L511.3,1052.5Z" fill="url(#gSteam)"/>
<path d="M523.9,1052.5 L523.3,1052.2 L522.9,1052.2 L522.4,1052.3 L521.9,1052.4 L521.4,1052.6 L520.8,1052.8 L520.2,1053.1 L519.7,1053.4 L519.1,1053.7 L518.5,1054.1 L518.0,1054.4 L517.5,1054.7 L516.8,1055.0 L516.2,1055.5 L515.5,1055.9 L514.7,1056.5 L514.0,1057.1 L513.3,1057.8 L512.7,1058.7 L512.2,1059.7 L511.8,1060.7 L511.6,1061.7 L511.5,1062.6 L511.6,1063.6 L511.7,1064.5 L511.9,1065.4 L512.1,1066.2 L512.4,1067.0 L512.7,1067.8 L512.9,1068.7 L513.3,1069.5 L513.7,1070.4 L514.2,1071.3 L514.7,1072.2 L515.2,1073.1 L515.7,1073.9 L516.2,1074.7 L516.7,1075.5 L517.2,1076.3 L517.7,1077.0 L518.2,1077.8 L518.8,1078.6 L519.3,1079.3 L519.9,1079.9 L520.4,1080.6 L520.8,1081.2 L521.3,1081.7 L521.6,1082.2 L521.9,1082.6 L522.1,1083.0 L522.3,1083.4 L522.4,1083.9 L522.6,1084.2 L522.6,1084.6 L522.7,1084.9 L522.8,1085.3 L522.8,1085.6 L522.8,1085.9 L522.9,1086.2 L522.9,1086.6 L522.9,1086.9 L522.8,1087.2 L522.8,1087.6 L522.7,1088.1 L522.5,1088.6 L522.3,1089.1 L522.1,1089.6 L521.9,1090.1 L521.6,1090.7 L521.4,1091.2 L521.1,1091.8 L520.7,1092.4 L520.3,1093.1 L519.8,1093.8 L519.3,1094.6 L518.8,1095.3 L518.4,1096.0 L518.1,1096.6 L517.8,1097.2 L518.0,1098.0 L518.0,1098.0 L518.7,1098.1 L519.3,1097.9 L520.0,1097.6 L520.7,1097.2 L521.4,1096.7 L522.2,1096.1 L522.9,1095.6 L523.6,1095.0 L524.3,1094.4 L524.9,1093.8 L525.4,1093.3 L525.9,1092.8 L526.3,1092.2 L526.8,1091.7 L527.2,1091.1 L527.6,1090.4 L528.0,1089.8 L528.3,1089.1 L528.6,1088.4 L528.9,1087.6 L529.0,1086.9 L529.1,1086.1 L529.2,1085.4 L529.1,1084.6 L529.0,1083.9 L528.9,1083.1 L528.7,1082.4 L528.4,1081.7 L528.2,1081.0 L527.8,1080.2 L527.4,1079.4 L526.9,1078.7 L526.4,1077.9 L525.9,1077.2 L525.4,1076.6 L524.8,1075.9 L524.3,1075.3 L523.9,1074.7 L523.4,1074.1 L523.0,1073.5 L522.6,1072.8 L522.1,1072.0 L521.6,1071.3 L521.1,1070.5 L520.7,1069.8 L520.2,1069.0 L519.8,1068.3 L519.5,1067.6 L519.2,1067.0 L518.9,1066.4 L518.7,1065.7 L518.5,1065.1 L518.3,1064.5 L518.2,1063.9 L518.0,1063.4 L518.0,1062.9 L517.9,1062.5 L517.9,1062.2 L517.9,1061.9 L517.9,1061.7 L517.9,1061.5 L518.0,1061.3 L518.2,1060.9 L518.5,1060.5 L518.9,1060.0 L519.4,1059.5 L519.9,1058.9 L520.4,1058.4 L521.0,1057.9 L521.4,1057.3 L521.8,1056.8 L522.1,1056.4 L522.5,1055.9 L522.9,1055.4 L523.2,1055.0 L523.5,1054.5 L523.8,1054.1 L524.0,1053.6 L524.1,1053.2 L523.9,1052.5Z" fill="url(#gSteam)"/>
<path d="M536.5,1052.5 L535.9,1052.2 L535.5,1052.2 L535.0,1052.3 L534.5,1052.4 L534.0,1052.6 L533.4,1052.8 L532.8,1053.1 L532.3,1053.4 L531.7,1053.7 L531.1,1054.1 L530.6,1054.4 L530.1,1054.7 L529.4,1055.0 L528.8,1055.5 L528.1,1055.9 L527.3,1056.5 L526.6,1057.1 L525.9,1057.8 L525.3,1058.7 L524.8,1059.7 L524.4,1060.7 L524.2,1061.7 L524.1,1062.6 L524.2,1063.6 L524.3,1064.5 L524.5,1065.4 L524.7,1066.2 L525.0,1067.0 L525.3,1067.8 L525.5,1068.7 L525.9,1069.5 L526.3,1070.4 L526.8,1071.3 L527.3,1072.2 L527.8,1073.1 L528.3,1073.9 L528.8,1074.7 L529.3,1075.5 L529.8,1076.3 L530.3,1077.0 L530.8,1077.8 L531.4,1078.6 L531.9,1079.3 L532.5,1079.9 L533.0,1080.6 L533.4,1081.2 L533.9,1081.7 L534.2,1082.2 L534.5,1082.6 L534.7,1083.0 L534.9,1083.4 L535.0,1083.9 L535.2,1084.2 L535.2,1084.6 L535.3,1084.9 L535.4,1085.3 L535.4,1085.6 L535.4,1085.9 L535.5,1086.2 L535.5,1086.6 L535.5,1086.9 L535.4,1087.2 L535.4,1087.6 L535.3,1088.1 L535.1,1088.6 L534.9,1089.1 L534.7,1089.6 L534.5,1090.1 L534.2,1090.7 L534.0,1091.2 L533.7,1091.8 L533.3,1092.4 L532.9,1093.1 L532.4,1093.8 L531.9,1094.6 L531.4,1095.3 L531.0,1096.0 L530.7,1096.6 L530.4,1097.2 L530.6,1098.0 L530.6,1098.0 L531.3,1098.1 L531.9,1097.9 L532.6,1097.6 L533.3,1097.2 L534.0,1096.7 L534.8,1096.1 L535.5,1095.6 L536.2,1095.0 L536.9,1094.4 L537.5,1093.8 L538.0,1093.3 L538.5,1092.8 L538.9,1092.2 L539.4,1091.7 L539.8,1091.1 L540.2,1090.4 L540.6,1089.8 L540.9,1089.1 L541.2,1088.4 L541.5,1087.6 L541.6,1086.9 L541.7,1086.1 L541.8,1085.4 L541.7,1084.6 L541.6,1083.9 L541.5,1083.1 L541.3,1082.4 L541.0,1081.7 L540.8,1081.0 L540.4,1080.2 L540.0,1079.4 L539.5,1078.7 L539.0,1077.9 L538.5,1077.2 L538.0,1076.6 L537.4,1075.9 L536.9,1075.3 L536.5,1074.7 L536.0,1074.1 L535.6,1073.5 L535.2,1072.8 L534.7,1072.0 L534.2,1071.3 L533.7,1070.5 L533.3,1069.8 L532.8,1069.0 L532.4,1068.3 L532.1,1067.6 L531.8,1067.0 L531.5,1066.4 L531.3,1065.7 L531.1,1065.1 L530.9,1064.5 L530.8,1063.9 L530.6,1063.4 L530.6,1062.9 L530.5,1062.5 L530.5,1062.2 L530.5,1061.9 L530.5,1061.7 L530.5,1061.5 L530.6,1061.3 L530.8,1060.9 L531.1,1060.5 L531.5,1060.0 L532.0,1059.5 L532.5,1058.9 L533.0,1058.4 L533.6,1057.9 L534.0,1057.3 L534.4,1056.8 L534.7,1056.4 L535.1,1055.9 L535.5,1055.4 L535.8,1055.0 L536.1,1054.5 L536.4,1054.1 L536.6,1053.6 L536.7,1053.2 L536.5,1052.5Z" fill="url(#gSteam)"/>
<rect x="450.7" y="908.7" width="144.1" height="15.6" rx="0" fill="url(#gPlate)" />
<rect x="450.7" y="908.7" width="144.1" height="15.6" rx="0" fill="url(#gPlateV)" />
<rect x="457.7" y="924.0" width="128.7" height="11.3" rx="0" fill="url(#pMesh)" />
<rect x="457.7" y="935.0" width="130.3" height="14.4" rx="0" fill="url(#gPlate)" />
<rect x="457.7" y="935.0" width="130.3" height="14.4" rx="0" fill="url(#gPlateV)" />
<path d="M923.6,1100.0 L923.6,1129.0 L1059.3,1129.0 L1059.3,1100.0" fill="none" stroke="#000" stroke-opacity="0.20" stroke-width="13.5" stroke-linejoin="round" filter="url(#fSoft2)" transform="translate(0.6,1.0)"/>
<path d="M923.6,1100.0 L923.6,1129.0 L1059.3,1129.0 L1059.3,1100.0" fill="none" stroke="#7c7c7c" stroke-width="11" stroke-linejoin="round"/>
<path d="M922.7,1100.0 L922.7,1129.0 A0.9,0.9 0 0 0 923.6,1129.9 L1059.3,1129.9 A0.9,0.9 0 0 0 1060.2,1129.0 L1060.2,1100.0" fill="none" stroke="#6a6a6a" stroke-width="9.2" stroke-linejoin="round"/>
<path d="M921.7,1100.0 L921.7,1129.0 A1.9,1.9 0 0 0 923.6,1130.9 L1059.3,1130.9 A1.9,1.9 0 0 0 1061.2,1129.0 L1061.2,1100.0" fill="none" stroke="#595959" stroke-width="7.2" stroke-linejoin="round"/>
<path d="M920.7,1100.0 L920.7,1129.0 A2.9,2.9 0 0 0 923.6,1131.9 L1059.3,1131.9 A2.9,2.9 0 0 0 1062.2,1129.0 L1062.2,1100.0" fill="none" stroke="#494949" stroke-width="5.2" stroke-linejoin="round"/>
<path d="M919.0,1100.0 L919.0,1129.0 A4.6,4.6 0 0 0 923.6,1133.6 L1059.3,1133.6 A4.6,4.6 0 0 0 1063.9,1129.0 L1063.9,1100.0" fill="none" stroke="#262626" stroke-width="1.8" stroke-linejoin="miter"/>
<path d="M789.2,1138.0 L789.2,1161.0 L431.2,1161.0 L431.2,1186.0" fill="none" stroke="#000" stroke-opacity="0.20" stroke-width="13.5" stroke-linejoin="round" filter="url(#fSoft2)" transform="translate(0.6,1.0)"/>
<path d="M789.2,1138.0 L789.2,1161.0 L431.2,1161.0 L431.2,1186.0" fill="none" stroke="#7c7c7c" stroke-width="11" stroke-linejoin="round"/>
<path d="M788.3,1138.0 L788.3,1160.1 L431.2,1160.1 A0.9,0.9 0 0 0 430.3,1161.0 L430.3,1186.0" fill="none" stroke="#6a6a6a" stroke-width="9.2" stroke-linejoin="round"/>
<path d="M787.3,1138.0 L787.3,1159.1 L431.2,1159.1 A1.9,1.9 0 0 0 429.3,1161.0 L429.3,1186.0" fill="none" stroke="#595959" stroke-width="7.2" stroke-linejoin="round"/>
<path d="M786.3,1138.0 L786.3,1158.1 L431.2,1158.1 A2.9,2.9 0 0 0 428.3,1161.0 L428.3,1186.0" fill="none" stroke="#494949" stroke-width="5.2" stroke-linejoin="round"/>
<path d="M784.6,1138.0 L784.6,1156.4 L431.2,1156.4 A4.6,4.6 0 0 0 426.6,1161.0 L426.6,1186.0" fill="none" stroke="#262626" stroke-width="1.8" stroke-linejoin="miter"/>
<circle cx="611.5" cy="1160.5" r="14.2" fill="#fdfdfd" stroke="#b9b9b9" stroke-width="1.3"/>
<circle cx="611.5" cy="1160.5" r="11.2" fill="none" stroke="#d9d9d9" stroke-width="1"/>
<rect x="602.7" y="1151.7" width="17.6" height="17.6" rx="7" fill="#5c5c5c" stroke="#3a3a3a" stroke-width="1.6"/>
<circle cx="611.5" cy="1160.5" r="2.4" fill="#111"/>
<rect x="760.4" y="1008.0" width="4.0" height="26.0" rx="0" fill="#555" />
<ellipse cx="762.4" cy="1031.8" rx="9.6" ry="3.9" fill="#7d7d7d"/>
<ellipse cx="762.4" cy="1030.2" rx="9.6" ry="3.9" fill="#f7f7f7" stroke="#bdbdbd" stroke-width="0.8"/>
<ellipse cx="762.4" cy="1029.4" rx="6.5" ry="1.6" fill="#fff"/>
<ellipse cx="762.4" cy="1023.4" rx="9.6" ry="3.9" fill="#7d7d7d"/>
<ellipse cx="762.4" cy="1021.8" rx="9.6" ry="3.9" fill="#f7f7f7" stroke="#bdbdbd" stroke-width="0.8"/>
<ellipse cx="762.4" cy="1021.0" rx="6.5" ry="1.6" fill="#fff"/>
<ellipse cx="762.4" cy="1014.8000000000001" rx="9.6" ry="3.9" fill="#7d7d7d"/>
<ellipse cx="762.4" cy="1013.2" rx="9.6" ry="3.9" fill="#f7f7f7" stroke="#bdbdbd" stroke-width="0.8"/>
<ellipse cx="762.4" cy="1012.4000000000001" rx="6.5" ry="1.6" fill="#fff"/>
<rect x="760.4" y="995.0" width="4.0" height="15.5" rx="0" fill="#3a3a3a" />
<circle cx="762.4" cy="990.4" r="8" fill="#4a4a4a" stroke="#333" stroke-width="0.8"/>
<circle cx="761.4" cy="989" r="5" fill="#5c5c5c"/>
<rect x="809.5" y="1008.0" width="4.0" height="26.0" rx="0" fill="#555" />
<ellipse cx="811.5" cy="1031.8" rx="9.6" ry="3.9" fill="#7d7d7d"/>
<ellipse cx="811.5" cy="1030.2" rx="9.6" ry="3.9" fill="#f7f7f7" stroke="#bdbdbd" stroke-width="0.8"/>
<ellipse cx="811.5" cy="1029.4" rx="6.5" ry="1.6" fill="#fff"/>
<ellipse cx="811.5" cy="1023.4" rx="9.6" ry="3.9" fill="#7d7d7d"/>
<ellipse cx="811.5" cy="1021.8" rx="9.6" ry="3.9" fill="#f7f7f7" stroke="#bdbdbd" stroke-width="0.8"/>
<ellipse cx="811.5" cy="1021.0" rx="6.5" ry="1.6" fill="#fff"/>
<ellipse cx="811.5" cy="1014.8000000000001" rx="9.6" ry="3.9" fill="#7d7d7d"/>
<ellipse cx="811.5" cy="1013.2" rx="9.6" ry="3.9" fill="#f7f7f7" stroke="#bdbdbd" stroke-width="0.8"/>
<ellipse cx="811.5" cy="1012.4000000000001" rx="6.5" ry="1.6" fill="#fff"/>
<rect x="809.5" y="995.0" width="4.0" height="15.5" rx="0" fill="#3a3a3a" />
<circle cx="811.5" cy="990.4" r="8" fill="#4a4a4a" stroke="#333" stroke-width="0.8"/>
<circle cx="810.5" cy="989" r="5" fill="#5c5c5c"/>
<rect x="897.5" y="1008.0" width="4.0" height="26.0" rx="0" fill="#555" />
<ellipse cx="899.5" cy="1031.8" rx="9.6" ry="3.9" fill="#7d7d7d"/>
<ellipse cx="899.5" cy="1030.2" rx="9.6" ry="3.9" fill="#f7f7f7" stroke="#bdbdbd" stroke-width="0.8"/>
<ellipse cx="899.5" cy="1029.4" rx="6.5" ry="1.6" fill="#fff"/>
<ellipse cx="899.5" cy="1023.4" rx="9.6" ry="3.9" fill="#7d7d7d"/>
<ellipse cx="899.5" cy="1021.8" rx="9.6" ry="3.9" fill="#f7f7f7" stroke="#bdbdbd" stroke-width="0.8"/>
<ellipse cx="899.5" cy="1021.0" rx="6.5" ry="1.6" fill="#fff"/>
<ellipse cx="899.5" cy="1014.8000000000001" rx="9.6" ry="3.9" fill="#7d7d7d"/>
<ellipse cx="899.5" cy="1013.2" rx="9.6" ry="3.9" fill="#f7f7f7" stroke="#bdbdbd" stroke-width="0.8"/>
<ellipse cx="899.5" cy="1012.4000000000001" rx="6.5" ry="1.6" fill="#fff"/>
<rect x="897.5" y="995.0" width="4.0" height="15.5" rx="0" fill="#3a3a3a" />
<circle cx="899.5" cy="990.4" r="8" fill="#4a4a4a" stroke="#333" stroke-width="0.8"/>
<circle cx="898.5" cy="989" r="5" fill="#5c5c5c"/>
<rect x="946.8" y="1008.0" width="4.0" height="26.0" rx="0" fill="#555" />
<ellipse cx="948.8" cy="1031.8" rx="9.6" ry="3.9" fill="#7d7d7d"/>
<ellipse cx="948.8" cy="1030.2" rx="9.6" ry="3.9" fill="#f7f7f7" stroke="#bdbdbd" stroke-width="0.8"/>
<ellipse cx="948.8" cy="1029.4" rx="6.5" ry="1.6" fill="#fff"/>
<ellipse cx="948.8" cy="1023.4" rx="9.6" ry="3.9" fill="#7d7d7d"/>
<ellipse cx="948.8" cy="1021.8" rx="9.6" ry="3.9" fill="#f7f7f7" stroke="#bdbdbd" stroke-width="0.8"/>
<ellipse cx="948.8" cy="1021.0" rx="6.5" ry="1.6" fill="#fff"/>
<ellipse cx="948.8" cy="1014.8000000000001" rx="9.6" ry="3.9" fill="#7d7d7d"/>
<ellipse cx="948.8" cy="1013.2" rx="9.6" ry="3.9" fill="#f7f7f7" stroke="#bdbdbd" stroke-width="0.8"/>
<ellipse cx="948.8" cy="1012.4000000000001" rx="6.5" ry="1.6" fill="#fff"/>
<rect x="946.8" y="995.0" width="4.0" height="15.5" rx="0" fill="#3a3a3a" />
<circle cx="948.8" cy="990.4" r="8" fill="#4a4a4a" stroke="#333" stroke-width="0.8"/>
<circle cx="947.8" cy="989" r="5" fill="#5c5c5c"/>
<rect x="765.1" y="1075.0" width="50.6" height="9.4" rx="0" fill="#4a4a4a" />
<rect x="765.1" y="1084.0" width="50.6" height="8.8" rx="0" fill="url(#gPlate)" />
<rect x="765.1" y="1084.0" width="50.6" height="8.8" rx="0" fill="url(#gPlateV)" />
<rect x="780.0" y="1084.5" width="20.0" height="8.5" rx="0" fill="#f5f5f5" />
<rect x="774" y="1097" width="3" height="3" fill="#6aa04e"/>
<rect x="780.5" y="1099.5" width="3" height="3" fill="#2f6a46"/>
<rect x="782" y="1101" width="3" height="3" fill="#4f8f4a"/>
<rect x="791" y="1095.5" width="3" height="3" fill="#2f6a46"/>
<rect x="801" y="1095.5" width="3" height="3" fill="#7fa55a"/>
<rect x="796" y="1104" width="3" height="3" fill="#2f6a46"/>
<rect x="777" y="1092.5" width="3" height="3" fill="#2f6a46"/>
<ellipse cx="790.4" cy="1106.1" rx="36.0" ry="3" fill="#000" opacity="0.25" filter="url(#fSoft2)"/>
<rect x="754.4" y="1105.6" width="72.0" height="10.8" rx="4" fill="url(#gWhiteV)" />
<rect x="758.0" y="1124.8" width="62.9" height="9.6" rx="4" fill="url(#gWhiteV)" />
<rect x="758.0" y="1116.0" width="62.5" height="9.6" rx="0" fill="url(#pMesh)" />
<rect x="778.0" y="1134.0" width="22.0" height="12.0" rx="3" fill="url(#gDarkH)" />
<rect x="843.2" y="1041.9" width="24.8" height="26.9" rx="0" fill="url(#pMesh)" />
<rect x="980.5" y="1041.7" width="25.8" height="27.1" rx="0" fill="url(#pMesh)" />
<rect x="1038.5" y="1011.0" width="48.9" height="23.0" rx="0" fill="url(#gBody)" />
<ellipse cx="1064.6" cy="982.1" rx="36.0" ry="3" fill="#000" opacity="0.25" filter="url(#fSoft2)"/>
<rect x="1028.6" y="981.6" width="72.0" height="10.8" rx="4" fill="url(#gWhiteV)" />
<rect x="1032.2" y="1000.8" width="62.9" height="9.6" rx="4" fill="url(#gWhiteV)" />
<rect x="1032.2" y="992.0" width="62.5" height="9.6" rx="0" fill="url(#pMesh)" />
<rect x="733.1" y="1031" width="111.10000000000002" height="47" fill="#000" opacity="0.28" filter="url(#fSoft2)"/>
<rect x="734.1" y="1033.2" width="109.1" height="42.2" rx="0" fill="url(#gBlock)" />
<polygon points="748.0,1062.6 755.3,1045.4 765.7,1045.4 758.4,1062.6" fill="#2f2f2f"/>
<polygon points="751.2,1055 755.3,1045.4 765.7,1045.4 761.6,1055" fill="#555" opacity="0.6"/>
<polygon points="763.4,1062.6 770.7,1045.4 781.1,1045.4 773.8,1062.6" fill="#2f2f2f"/>
<polygon points="766.6,1055 770.7,1045.4 781.1,1045.4 777.0,1055" fill="#555" opacity="0.6"/>
<polygon points="778.8,1062.6 786.1,1045.4 796.5,1045.4 789.2,1062.6" fill="#2f2f2f"/>
<polygon points="782.0,1055 786.1,1045.4 796.5,1045.4 792.4,1055" fill="#555" opacity="0.6"/>
<polygon points="794.2,1062.6 801.5,1045.4 811.9,1045.4 804.6,1062.6" fill="#2f2f2f"/>
<polygon points="797.4,1055 801.5,1045.4 811.9,1045.4 807.8,1055" fill="#555" opacity="0.6"/>
<polygon points="809.6,1062.6 816.9,1045.4 827.3,1045.4 820.0,1062.6" fill="#2f2f2f"/>
<polygon points="812.8,1055 816.9,1045.4 827.3,1045.4 823.2,1055" fill="#555" opacity="0.6"/>
<rect x="867" y="1031" width="114.5" height="47" fill="#000" opacity="0.28" filter="url(#fSoft2)"/>
<rect x="868.0" y="1033.2" width="112.5" height="42.2" rx="0" fill="url(#gBlock)" />
<polygon points="884.5,1062.6 891.8,1045.4 902.2,1045.4 894.9,1062.6" fill="#2f2f2f"/>
<polygon points="887.7,1055 891.8,1045.4 902.2,1045.4 898.1,1055" fill="#555" opacity="0.6"/>
<polygon points="899.9,1062.6 907.2,1045.4 917.6,1045.4 910.3,1062.6" fill="#2f2f2f"/>
<polygon points="903.1,1055 907.2,1045.4 917.6,1045.4 913.5,1055" fill="#555" opacity="0.6"/>
<polygon points="915.3,1062.6 922.6,1045.4 933.0,1045.4 925.7,1062.6" fill="#2f2f2f"/>
<polygon points="918.5,1055 922.6,1045.4 933.0,1045.4 928.9,1055" fill="#555" opacity="0.6"/>
<polygon points="930.7,1062.6 938.0,1045.4 948.4,1045.4 941.1,1062.6" fill="#2f2f2f"/>
<polygon points="933.9,1055 938.0,1045.4 948.4,1045.4 944.3,1055" fill="#555" opacity="0.6"/>
<polygon points="946.1,1062.6 953.4,1045.4 963.8,1045.4 956.5,1062.6" fill="#2f2f2f"/>
<polygon points="949.3,1055 953.4,1045.4 963.8,1045.4 959.7,1055" fill="#555" opacity="0.6"/>
<rect x="1005.3" y="1031" width="113.60000000000014" height="47" fill="#000" opacity="0.28" filter="url(#fSoft2)"/>
<rect x="1006.3" y="1033.2" width="111.6" height="42.2" rx="0" fill="url(#gBlock)" />
<polygon points="1023.0,1062.6 1030.3,1045.4 1040.7,1045.4 1033.4,1062.6" fill="#2f2f2f"/>
<polygon points="1026.2,1055 1030.3,1045.4 1040.7,1045.4 1036.6,1055" fill="#555" opacity="0.6"/>
<polygon points="1038.4,1062.6 1045.7,1045.4 1056.1,1045.4 1048.8,1062.6" fill="#2f2f2f"/>
<polygon points="1041.6,1055 1045.7,1045.4 1056.1,1045.4 1052.0,1055" fill="#555" opacity="0.6"/>
<polygon points="1053.8,1062.6 1061.1,1045.4 1071.5,1045.4 1064.2,1062.6" fill="#2f2f2f"/>
<polygon points="1057.0,1055 1061.1,1045.4 1071.5,1045.4 1067.4,1055" fill="#555" opacity="0.6"/>
<polygon points="1069.2,1062.6 1076.5,1045.4 1086.9,1045.4 1079.6,1062.6" fill="#2f2f2f"/>
<polygon points="1072.4,1055 1076.5,1045.4 1086.9,1045.4 1082.8,1055" fill="#555" opacity="0.6"/>
<polygon points="1084.6,1062.6 1091.9,1045.4 1102.3,1045.4 1095.0,1062.6" fill="#2f2f2f"/>
<polygon points="1087.8,1055 1091.9,1045.4 1102.3,1045.4 1098.2,1055" fill="#555" opacity="0.6"/>
<path d="M1052.8999999999999,923.5 L1052.8999999999999,917.9 Q1052.8999999999999,912.9 1058.1,912.9 L1070.1,912.9 Q1075.3,912.9 1075.3,917.9 L1075.3,923.5 Z" fill="url(#gDarkH)"/>
<path d="M1038.8999999999999,935.1999999999999 L1038.8999999999999,931.4 Q1038.8999999999999,923.1999999999999 1047.6,923.1999999999999 L1080.6,923.1999999999999 Q1089.3,923.1999999999999 1089.3,931.4 L1089.3,935.1999999999999 Z" fill="#3c3c3c"/>
<rect x="1038.9" y="935.0" width="50.4" height="8.9" rx="0" fill="url(#gPlate)" />
<rect x="1038.9" y="935.0" width="50.4" height="8.9" rx="0" fill="url(#gPlateV)" />
<rect x="1035.1" y="943.7" width="58.0" height="9.9" rx="1.5" fill="url(#gGrayMesh)" />
<rect x="1035.1" y="943.7" width="58.0" height="9.9" rx="1.5" fill="url(#pMeshL)" />
<rect x="1046" y="955.5" width="3" height="3" fill="#2f6a46"/>
<rect x="1048" y="958" width="3" height="3" fill="#4f8f4a"/>
<rect x="1060.5" y="960.5" width="3" height="3" fill="#2f6a46"/>
<rect x="1077.5" y="960.5" width="3" height="3" fill="#4f8f4a"/>
<rect x="1053.5" y="969.5" width="3" height="3" fill="#2f6a46"/>
<rect x="1065.5" y="969" width="3" height="3" fill="#2f6a46"/>
<rect x="1086" y="969.5" width="3" height="3" fill="#2f6a46"/>
<rect x="1047" y="972.5" width="3" height="3" fill="#2f6a46"/>
<rect x="1057" y="976" width="3" height="3" fill="#4f8f4a"/>
<ellipse cx="922.9" cy="1084" rx="20" ry="20" fill="#555" opacity="0.22" filter="url(#fGlow)"/>
<path d="M911.1,1095 L934.6999999999999,1095 L934.6999999999999,1098 Q933.9,1107.2 927.9,1107.2 L917.9,1107.2 Q911.9,1107.2 911.1,1098 Z" fill="#333"/>
<path d="M922.4,1059 C926.9,1066 933.4,1072 933.4,1082 C933.4,1090 927.9,1094.8 922.9,1094.8 C917.4,1094.8 911.9,1090 912.4,1082 C912.9,1075 917.4,1073 916.9,1066 C919.4,1067.5 920.6999999999999,1069.5 920.6999999999999,1072 C921.9,1068 923.4,1064 922.4,1059 Z" fill="url(#gFlame)"/>
<path d="M923.9,1076 C928.4,1081 930.4,1085 928.9,1089.5 C927.4,1093.8 918.4,1093.8 916.4,1089.5 C914.9,1085 918.4,1083 919.4,1079 C921.1,1080.5 922.1,1082 922.6,1083.5 C923.9,1081.5 924.4,1079 923.9,1076 Z" fill="url(#gFlame2)"/>
<ellipse cx="1059.3" cy="1084" rx="20" ry="20" fill="#555" opacity="0.22" filter="url(#fGlow)"/>
<path d="M1047.5,1095 L1071.1,1095 L1071.1,1098 Q1070.3,1107.2 1064.3,1107.2 L1054.3,1107.2 Q1048.3,1107.2 1047.5,1098 Z" fill="#333"/>
<path d="M1058.8,1059 C1063.3,1066 1069.8,1072 1069.8,1082 C1069.8,1090 1064.3,1094.8 1059.3,1094.8 C1053.8,1094.8 1048.3,1090 1048.8,1082 C1049.3,1075 1053.8,1073 1053.3,1066 C1055.8,1067.5 1057.1,1069.5 1057.1,1072 C1058.3,1068 1059.8,1064 1058.8,1059 Z" fill="url(#gFlame)"/>
<path d="M1060.3,1076 C1064.8,1081 1066.8,1085 1065.3,1089.5 C1063.8,1093.8 1054.8,1093.8 1052.8,1089.5 C1051.3,1085 1054.8,1083 1055.8,1079 C1057.5,1080.5 1058.5,1082 1059.0,1083.5 C1060.3,1081.5 1060.8,1079 1060.3,1076 Z" fill="url(#gFlame2)"/>
<ellipse cx="470.0" cy="1354.0" rx="82.0" ry="6.0" fill="#000" opacity="0.4" filter="url(#fSoft)"/>
<path d="M418.1,1197 L418.1,1188 Q418.1,1181.6 424.5,1181.6 L435.6,1181.6 Q442,1181.6 442,1188 L442,1197 Z" fill="url(#gDarkH)"/>
<rect x="397.8" y="1196.3" width="144.4" height="156.9" rx="9" fill="url(#gMachine)" />
<rect x="397.8" y="1218.9" width="102.2" height="21.6" rx="0" fill="url(#gWhiteV)" />
<rect x="397.8" y="1240.5" width="102.2" height="3" fill="#000" opacity="0.25"/>
<circle cx="520.9" cy="1229.3" r="9.5" fill="#e02222" stroke="#f2dada" stroke-width="1.5"/>
<circle cx="519" cy="1226.5" r="3.5" fill="#ff6a5a" opacity="0.8"/>
<circle cx="520.9" cy="1253.5" r="4.5" fill="#e8e23a"/>
<circle cx="520.9" cy="1270.4" r="4.5" fill="#e8e23a"/>
<path d="M455.2,1276.2 L455.1,1276.6 L455.0,1276.9 L454.9,1277.3 L454.8,1277.7 L454.7,1278.0 L454.6,1278.4 L454.2,1278.7 L453.0,1278.6 L451.8,1278.4 L450.6,1278.2 L449.6,1278.0 L449.5,1278.3 L449.4,1278.5 L449.2,1278.7 L449.1,1279.0 L449.0,1279.2 L448.8,1279.4 L448.6,1279.6 L448.5,1279.8 L448.3,1280.1 L448.1,1280.3 L448.6,1281.1 L449.3,1282.1 L449.9,1283.2 L450.5,1284.3 L450.3,1284.7 L450.0,1284.9 L449.8,1285.2 L449.5,1285.4 L449.1,1285.7 L448.8,1285.9 L448.5,1286.1 L448.2,1286.3 L447.9,1286.5 L447.5,1286.7 L447.2,1286.9 L446.9,1287.1 L446.5,1287.2 L446.1,1287.2 L445.3,1286.2 L444.5,1285.2 L443.8,1284.3 L443.3,1283.5 L443.0,1283.6 L442.8,1283.6 L442.5,1283.7 L442.3,1283.8 L442.0,1283.8 L441.7,1283.9 L441.5,1283.9 L441.2,1283.9 L440.9,1284.0 L440.7,1284.0 L440.4,1284.9 L440.2,1286.1 L439.8,1287.3 L439.5,1288.5 L439.1,1288.7 L438.7,1288.7 L438.3,1288.6 L437.9,1288.6 L437.6,1288.5 L437.2,1288.5 L436.8,1288.4 L436.4,1288.3 L436.1,1288.2 L435.7,1288.1 L435.3,1288.0 L435.0,1287.9 L434.6,1287.8 L434.3,1287.4 L434.4,1286.2 L434.6,1285.0 L434.8,1283.8 L435.0,1282.8 L434.7,1282.7 L434.5,1282.6 L434.3,1282.4 L434.0,1282.3 L433.8,1282.2 L433.6,1282.0 L433.4,1281.8 L433.2,1281.7 L432.9,1281.5 L432.7,1281.3 L431.9,1281.8 L430.9,1282.5 L429.8,1283.1 L428.7,1283.7 L428.3,1283.5 L428.1,1283.2 L427.8,1283.0 L427.6,1282.7 L427.3,1282.3 L427.1,1282.0 L426.9,1281.7 L426.7,1281.4 L426.5,1281.1 L426.3,1280.7 L426.1,1280.4 L425.9,1280.1 L425.8,1279.7 L425.8,1279.3 L426.8,1278.5 L427.8,1277.7 L428.7,1277.0 L429.5,1276.5 L429.4,1276.2 L429.4,1276.0 L429.3,1275.7 L429.2,1275.5 L429.2,1275.2 L429.1,1274.9 L429.1,1274.7 L429.1,1274.4 L429.0,1274.1 L429.0,1273.9 L428.1,1273.6 L426.9,1273.4 L425.7,1273.0 L424.5,1272.7 L424.3,1272.3 L424.3,1271.9 L424.4,1271.5 L424.4,1271.1 L424.5,1270.8 L424.5,1270.4 L424.6,1270.0 L424.7,1269.6 L424.8,1269.3 L424.9,1268.9 L425.0,1268.5 L425.1,1268.2 L425.2,1267.8 L425.6,1267.5 L426.8,1267.6 L428.0,1267.8 L429.2,1268.0 L430.2,1268.2 L430.3,1267.9 L430.4,1267.7 L430.6,1267.5 L430.7,1267.2 L430.8,1267.0 L431.0,1266.8 L431.2,1266.6 L431.3,1266.4 L431.5,1266.1 L431.7,1265.9 L431.2,1265.1 L430.5,1264.1 L429.9,1263.0 L429.3,1261.9 L429.5,1261.5 L429.8,1261.3 L430.0,1261.0 L430.3,1260.8 L430.7,1260.5 L431.0,1260.3 L431.3,1260.1 L431.6,1259.9 L431.9,1259.7 L432.3,1259.5 L432.6,1259.3 L432.9,1259.1 L433.3,1259.0 L433.7,1259.0 L434.5,1260.0 L435.3,1261.0 L436.0,1261.9 L436.5,1262.7 L436.8,1262.6 L437.0,1262.6 L437.3,1262.5 L437.5,1262.4 L437.8,1262.4 L438.1,1262.3 L438.3,1262.3 L438.6,1262.3 L438.9,1262.2 L439.1,1262.2 L439.4,1261.3 L439.6,1260.1 L440.0,1258.9 L440.3,1257.7 L440.7,1257.5 L441.1,1257.5 L441.5,1257.6 L441.9,1257.6 L442.2,1257.7 L442.6,1257.7 L443.0,1257.8 L443.4,1257.9 L443.7,1258.0 L444.1,1258.1 L444.5,1258.2 L444.8,1258.3 L445.2,1258.4 L445.5,1258.8 L445.4,1260.0 L445.2,1261.2 L445.0,1262.4 L444.8,1263.4 L445.1,1263.5 L445.3,1263.6 L445.5,1263.8 L445.8,1263.9 L446.0,1264.0 L446.2,1264.2 L446.4,1264.4 L446.6,1264.5 L446.9,1264.7 L447.1,1264.9 L447.9,1264.4 L448.9,1263.7 L450.0,1263.1 L451.1,1262.5 L451.5,1262.7 L451.7,1263.0 L452.0,1263.2 L452.2,1263.5 L452.5,1263.9 L452.7,1264.2 L452.9,1264.5 L453.1,1264.8 L453.3,1265.1 L453.5,1265.5 L453.7,1265.8 L453.9,1266.1 L454.0,1266.5 L454.0,1266.9 L453.0,1267.7 L452.0,1268.5 L451.1,1269.2 L450.3,1269.7 L450.4,1270.0 L450.4,1270.2 L450.5,1270.5 L450.6,1270.7 L450.6,1271.0 L450.7,1271.3 L450.7,1271.5 L450.7,1271.8 L450.8,1272.1 L450.8,1272.3 L451.7,1272.6 L452.9,1272.8 L454.1,1273.2 L455.3,1273.5 L455.5,1273.9 L455.5,1274.3 L455.4,1274.7 L455.4,1275.1 L455.3,1275.4 L455.3,1275.8Z" fill="#000" opacity="0.35" transform="translate(1,1.5)"/>
<path d="M455.2,1276.2 L455.1,1276.6 L455.0,1276.9 L454.9,1277.3 L454.8,1277.7 L454.7,1278.0 L454.6,1278.4 L454.2,1278.7 L453.0,1278.6 L451.8,1278.4 L450.6,1278.2 L449.6,1278.0 L449.5,1278.3 L449.4,1278.5 L449.2,1278.7 L449.1,1279.0 L449.0,1279.2 L448.8,1279.4 L448.6,1279.6 L448.5,1279.8 L448.3,1280.1 L448.1,1280.3 L448.6,1281.1 L449.3,1282.1 L449.9,1283.2 L450.5,1284.3 L450.3,1284.7 L450.0,1284.9 L449.8,1285.2 L449.5,1285.4 L449.1,1285.7 L448.8,1285.9 L448.5,1286.1 L448.2,1286.3 L447.9,1286.5 L447.5,1286.7 L447.2,1286.9 L446.9,1287.1 L446.5,1287.2 L446.1,1287.2 L445.3,1286.2 L444.5,1285.2 L443.8,1284.3 L443.3,1283.5 L443.0,1283.6 L442.8,1283.6 L442.5,1283.7 L442.3,1283.8 L442.0,1283.8 L441.7,1283.9 L441.5,1283.9 L441.2,1283.9 L440.9,1284.0 L440.7,1284.0 L440.4,1284.9 L440.2,1286.1 L439.8,1287.3 L439.5,1288.5 L439.1,1288.7 L438.7,1288.7 L438.3,1288.6 L437.9,1288.6 L437.6,1288.5 L437.2,1288.5 L436.8,1288.4 L436.4,1288.3 L436.1,1288.2 L435.7,1288.1 L435.3,1288.0 L435.0,1287.9 L434.6,1287.8 L434.3,1287.4 L434.4,1286.2 L434.6,1285.0 L434.8,1283.8 L435.0,1282.8 L434.7,1282.7 L434.5,1282.6 L434.3,1282.4 L434.0,1282.3 L433.8,1282.2 L433.6,1282.0 L433.4,1281.8 L433.2,1281.7 L432.9,1281.5 L432.7,1281.3 L431.9,1281.8 L430.9,1282.5 L429.8,1283.1 L428.7,1283.7 L428.3,1283.5 L428.1,1283.2 L427.8,1283.0 L427.6,1282.7 L427.3,1282.3 L427.1,1282.0 L426.9,1281.7 L426.7,1281.4 L426.5,1281.1 L426.3,1280.7 L426.1,1280.4 L425.9,1280.1 L425.8,1279.7 L425.8,1279.3 L426.8,1278.5 L427.8,1277.7 L428.7,1277.0 L429.5,1276.5 L429.4,1276.2 L429.4,1276.0 L429.3,1275.7 L429.2,1275.5 L429.2,1275.2 L429.1,1274.9 L429.1,1274.7 L429.1,1274.4 L429.0,1274.1 L429.0,1273.9 L428.1,1273.6 L426.9,1273.4 L425.7,1273.0 L424.5,1272.7 L424.3,1272.3 L424.3,1271.9 L424.4,1271.5 L424.4,1271.1 L424.5,1270.8 L424.5,1270.4 L424.6,1270.0 L424.7,1269.6 L424.8,1269.3 L424.9,1268.9 L425.0,1268.5 L425.1,1268.2 L425.2,1267.8 L425.6,1267.5 L426.8,1267.6 L428.0,1267.8 L429.2,1268.0 L430.2,1268.2 L430.3,1267.9 L430.4,1267.7 L430.6,1267.5 L430.7,1267.2 L430.8,1267.0 L431.0,1266.8 L431.2,1266.6 L431.3,1266.4 L431.5,1266.1 L431.7,1265.9 L431.2,1265.1 L430.5,1264.1 L429.9,1263.0 L429.3,1261.9 L429.5,1261.5 L429.8,1261.3 L430.0,1261.0 L430.3,1260.8 L430.7,1260.5 L431.0,1260.3 L431.3,1260.1 L431.6,1259.9 L431.9,1259.7 L432.3,1259.5 L432.6,1259.3 L432.9,1259.1 L433.3,1259.0 L433.7,1259.0 L434.5,1260.0 L435.3,1261.0 L436.0,1261.9 L436.5,1262.7 L436.8,1262.6 L437.0,1262.6 L437.3,1262.5 L437.5,1262.4 L437.8,1262.4 L438.1,1262.3 L438.3,1262.3 L438.6,1262.3 L438.9,1262.2 L439.1,1262.2 L439.4,1261.3 L439.6,1260.1 L440.0,1258.9 L440.3,1257.7 L440.7,1257.5 L441.1,1257.5 L441.5,1257.6 L441.9,1257.6 L442.2,1257.7 L442.6,1257.7 L443.0,1257.8 L443.4,1257.9 L443.7,1258.0 L444.1,1258.1 L444.5,1258.2 L444.8,1258.3 L445.2,1258.4 L445.5,1258.8 L445.4,1260.0 L445.2,1261.2 L445.0,1262.4 L444.8,1263.4 L445.1,1263.5 L445.3,1263.6 L445.5,1263.8 L445.8,1263.9 L446.0,1264.0 L446.2,1264.2 L446.4,1264.4 L446.6,1264.5 L446.9,1264.7 L447.1,1264.9 L447.9,1264.4 L448.9,1263.7 L450.0,1263.1 L451.1,1262.5 L451.5,1262.7 L451.7,1263.0 L452.0,1263.2 L452.2,1263.5 L452.5,1263.9 L452.7,1264.2 L452.9,1264.5 L453.1,1264.8 L453.3,1265.1 L453.5,1265.5 L453.7,1265.8 L453.9,1266.1 L454.0,1266.5 L454.0,1266.9 L453.0,1267.7 L452.0,1268.5 L451.1,1269.2 L450.3,1269.7 L450.4,1270.0 L450.4,1270.2 L450.5,1270.5 L450.6,1270.7 L450.6,1271.0 L450.7,1271.3 L450.7,1271.5 L450.7,1271.8 L450.8,1272.1 L450.8,1272.3 L451.7,1272.6 L452.9,1272.8 L454.1,1273.2 L455.3,1273.5 L455.5,1273.9 L455.5,1274.3 L455.4,1274.7 L455.4,1275.1 L455.3,1275.4 L455.3,1275.8Z" fill="url(#gGear)"/>
<circle cx="439.9" cy="1273.1" r="7.3" fill="#2e2e2e"/>
<circle cx="439.9" cy="1273.1" r="4.7" fill="#595959"/>
<circle cx="439.9" cy="1273.1" r="1.9" fill="#f0f0f0"/>
<path d="M479.0,1294.8 L479.0,1295.2 L479.0,1295.5 L479.0,1295.9 L478.9,1296.3 L478.9,1296.6 L478.8,1297.0 L478.6,1297.3 L477.4,1297.4 L476.2,1297.5 L475.1,1297.5 L474.2,1297.6 L474.1,1297.8 L474.0,1298.0 L474.0,1298.3 L473.9,1298.5 L473.8,1298.8 L473.7,1299.0 L473.6,1299.2 L473.5,1299.5 L473.3,1299.7 L473.2,1299.9 L473.8,1300.6 L474.6,1301.4 L475.4,1302.3 L476.1,1303.2 L476.1,1303.6 L475.9,1303.9 L475.6,1304.2 L475.4,1304.5 L475.2,1304.7 L474.9,1305.0 L474.7,1305.3 L474.4,1305.5 L474.1,1305.8 L473.9,1306.0 L473.6,1306.2 L473.3,1306.5 L473.0,1306.7 L472.6,1306.7 L471.7,1306.0 L470.8,1305.2 L470.0,1304.4 L469.3,1303.8 L469.1,1303.9 L468.9,1304.1 L468.6,1304.2 L468.4,1304.3 L468.2,1304.4 L467.9,1304.5 L467.7,1304.6 L467.4,1304.6 L467.2,1304.7 L467.0,1304.8 L466.9,1305.7 L466.9,1306.8 L466.8,1308.0 L466.7,1309.2 L466.4,1309.4 L466.0,1309.5 L465.7,1309.5 L465.3,1309.6 L464.9,1309.6 L464.6,1309.6 L464.2,1309.6 L463.8,1309.6 L463.5,1309.6 L463.1,1309.6 L462.7,1309.5 L462.4,1309.5 L462.0,1309.4 L461.7,1309.2 L461.6,1308.0 L461.5,1306.8 L461.5,1305.7 L461.4,1304.8 L461.2,1304.7 L461.0,1304.6 L460.7,1304.6 L460.5,1304.5 L460.2,1304.4 L460.0,1304.3 L459.8,1304.2 L459.5,1304.1 L459.3,1303.9 L459.1,1303.8 L458.4,1304.4 L457.6,1305.2 L456.7,1306.0 L455.8,1306.7 L455.4,1306.7 L455.1,1306.5 L454.8,1306.2 L454.5,1306.0 L454.3,1305.8 L454.0,1305.5 L453.7,1305.3 L453.5,1305.0 L453.2,1304.7 L453.0,1304.5 L452.8,1304.2 L452.5,1303.9 L452.3,1303.6 L452.3,1303.2 L453.0,1302.3 L453.8,1301.4 L454.6,1300.6 L455.2,1299.9 L455.1,1299.7 L454.9,1299.5 L454.8,1299.2 L454.7,1299.0 L454.6,1298.8 L454.5,1298.5 L454.4,1298.3 L454.4,1298.0 L454.3,1297.8 L454.2,1297.6 L453.3,1297.5 L452.2,1297.5 L451.0,1297.4 L449.8,1297.3 L449.6,1297.0 L449.5,1296.6 L449.5,1296.3 L449.4,1295.9 L449.4,1295.5 L449.4,1295.2 L449.4,1294.8 L449.4,1294.4 L449.4,1294.1 L449.4,1293.7 L449.5,1293.3 L449.5,1293.0 L449.6,1292.6 L449.8,1292.3 L451.0,1292.2 L452.2,1292.1 L453.3,1292.1 L454.2,1292.0 L454.3,1291.8 L454.4,1291.6 L454.4,1291.3 L454.5,1291.1 L454.6,1290.8 L454.7,1290.6 L454.8,1290.4 L454.9,1290.1 L455.1,1289.9 L455.2,1289.7 L454.6,1289.0 L453.8,1288.2 L453.0,1287.3 L452.3,1286.4 L452.3,1286.0 L452.5,1285.7 L452.8,1285.4 L453.0,1285.1 L453.2,1284.9 L453.5,1284.6 L453.7,1284.3 L454.0,1284.1 L454.3,1283.8 L454.5,1283.6 L454.8,1283.4 L455.1,1283.1 L455.4,1282.9 L455.8,1282.9 L456.7,1283.6 L457.6,1284.4 L458.4,1285.2 L459.1,1285.8 L459.3,1285.7 L459.5,1285.5 L459.8,1285.4 L460.0,1285.3 L460.2,1285.2 L460.5,1285.1 L460.7,1285.0 L461.0,1285.0 L461.2,1284.9 L461.4,1284.8 L461.5,1283.9 L461.5,1282.8 L461.6,1281.6 L461.7,1280.4 L462.0,1280.2 L462.4,1280.1 L462.7,1280.1 L463.1,1280.0 L463.5,1280.0 L463.8,1280.0 L464.2,1280.0 L464.6,1280.0 L464.9,1280.0 L465.3,1280.0 L465.7,1280.1 L466.0,1280.1 L466.4,1280.2 L466.7,1280.4 L466.8,1281.6 L466.9,1282.8 L466.9,1283.9 L467.0,1284.8 L467.2,1284.9 L467.4,1285.0 L467.7,1285.0 L467.9,1285.1 L468.2,1285.2 L468.4,1285.3 L468.6,1285.4 L468.9,1285.5 L469.1,1285.7 L469.3,1285.8 L470.0,1285.2 L470.8,1284.4 L471.7,1283.6 L472.6,1282.9 L473.0,1282.9 L473.3,1283.1 L473.6,1283.4 L473.9,1283.6 L474.1,1283.8 L474.4,1284.1 L474.7,1284.3 L474.9,1284.6 L475.2,1284.9 L475.4,1285.1 L475.6,1285.4 L475.9,1285.7 L476.1,1286.0 L476.1,1286.4 L475.4,1287.3 L474.6,1288.2 L473.8,1289.0 L473.2,1289.7 L473.3,1289.9 L473.5,1290.1 L473.6,1290.4 L473.7,1290.6 L473.8,1290.8 L473.9,1291.1 L474.0,1291.3 L474.0,1291.6 L474.1,1291.8 L474.2,1292.0 L475.1,1292.1 L476.2,1292.1 L477.4,1292.2 L478.6,1292.3 L478.8,1292.6 L478.9,1293.0 L478.9,1293.3 L479.0,1293.7 L479.0,1294.1 L479.0,1294.4Z" fill="#000" opacity="0.35" transform="translate(1,1.5)"/>
<path d="M479.0,1294.8 L479.0,1295.2 L479.0,1295.5 L479.0,1295.9 L478.9,1296.3 L478.9,1296.6 L478.8,1297.0 L478.6,1297.3 L477.4,1297.4 L476.2,1297.5 L475.1,1297.5 L474.2,1297.6 L474.1,1297.8 L474.0,1298.0 L474.0,1298.3 L473.9,1298.5 L473.8,1298.8 L473.7,1299.0 L473.6,1299.2 L473.5,1299.5 L473.3,1299.7 L473.2,1299.9 L473.8,1300.6 L474.6,1301.4 L475.4,1302.3 L476.1,1303.2 L476.1,1303.6 L475.9,1303.9 L475.6,1304.2 L475.4,1304.5 L475.2,1304.7 L474.9,1305.0 L474.7,1305.3 L474.4,1305.5 L474.1,1305.8 L473.9,1306.0 L473.6,1306.2 L473.3,1306.5 L473.0,1306.7 L472.6,1306.7 L471.7,1306.0 L470.8,1305.2 L470.0,1304.4 L469.3,1303.8 L469.1,1303.9 L468.9,1304.1 L468.6,1304.2 L468.4,1304.3 L468.2,1304.4 L467.9,1304.5 L467.7,1304.6 L467.4,1304.6 L467.2,1304.7 L467.0,1304.8 L466.9,1305.7 L466.9,1306.8 L466.8,1308.0 L466.7,1309.2 L466.4,1309.4 L466.0,1309.5 L465.7,1309.5 L465.3,1309.6 L464.9,1309.6 L464.6,1309.6 L464.2,1309.6 L463.8,1309.6 L463.5,1309.6 L463.1,1309.6 L462.7,1309.5 L462.4,1309.5 L462.0,1309.4 L461.7,1309.2 L461.6,1308.0 L461.5,1306.8 L461.5,1305.7 L461.4,1304.8 L461.2,1304.7 L461.0,1304.6 L460.7,1304.6 L460.5,1304.5 L460.2,1304.4 L460.0,1304.3 L459.8,1304.2 L459.5,1304.1 L459.3,1303.9 L459.1,1303.8 L458.4,1304.4 L457.6,1305.2 L456.7,1306.0 L455.8,1306.7 L455.4,1306.7 L455.1,1306.5 L454.8,1306.2 L454.5,1306.0 L454.3,1305.8 L454.0,1305.5 L453.7,1305.3 L453.5,1305.0 L453.2,1304.7 L453.0,1304.5 L452.8,1304.2 L452.5,1303.9 L452.3,1303.6 L452.3,1303.2 L453.0,1302.3 L453.8,1301.4 L454.6,1300.6 L455.2,1299.9 L455.1,1299.7 L454.9,1299.5 L454.8,1299.2 L454.7,1299.0 L454.6,1298.8 L454.5,1298.5 L454.4,1298.3 L454.4,1298.0 L454.3,1297.8 L454.2,1297.6 L453.3,1297.5 L452.2,1297.5 L451.0,1297.4 L449.8,1297.3 L449.6,1297.0 L449.5,1296.6 L449.5,1296.3 L449.4,1295.9 L449.4,1295.5 L449.4,1295.2 L449.4,1294.8 L449.4,1294.4 L449.4,1294.1 L449.4,1293.7 L449.5,1293.3 L449.5,1293.0 L449.6,1292.6 L449.8,1292.3 L451.0,1292.2 L452.2,1292.1 L453.3,1292.1 L454.2,1292.0 L454.3,1291.8 L454.4,1291.6 L454.4,1291.3 L454.5,1291.1 L454.6,1290.8 L454.7,1290.6 L454.8,1290.4 L454.9,1290.1 L455.1,1289.9 L455.2,1289.7 L454.6,1289.0 L453.8,1288.2 L453.0,1287.3 L452.3,1286.4 L452.3,1286.0 L452.5,1285.7 L452.8,1285.4 L453.0,1285.1 L453.2,1284.9 L453.5,1284.6 L453.7,1284.3 L454.0,1284.1 L454.3,1283.8 L454.5,1283.6 L454.8,1283.4 L455.1,1283.1 L455.4,1282.9 L455.8,1282.9 L456.7,1283.6 L457.6,1284.4 L458.4,1285.2 L459.1,1285.8 L459.3,1285.7 L459.5,1285.5 L459.8,1285.4 L460.0,1285.3 L460.2,1285.2 L460.5,1285.1 L460.7,1285.0 L461.0,1285.0 L461.2,1284.9 L461.4,1284.8 L461.5,1283.9 L461.5,1282.8 L461.6,1281.6 L461.7,1280.4 L462.0,1280.2 L462.4,1280.1 L462.7,1280.1 L463.1,1280.0 L463.5,1280.0 L463.8,1280.0 L464.2,1280.0 L464.6,1280.0 L464.9,1280.0 L465.3,1280.0 L465.7,1280.1 L466.0,1280.1 L466.4,1280.2 L466.7,1280.4 L466.8,1281.6 L466.9,1282.8 L466.9,1283.9 L467.0,1284.8 L467.2,1284.9 L467.4,1285.0 L467.7,1285.0 L467.9,1285.1 L468.2,1285.2 L468.4,1285.3 L468.6,1285.4 L468.9,1285.5 L469.1,1285.7 L469.3,1285.8 L470.0,1285.2 L470.8,1284.4 L471.7,1283.6 L472.6,1282.9 L473.0,1282.9 L473.3,1283.1 L473.6,1283.4 L473.9,1283.6 L474.1,1283.8 L474.4,1284.1 L474.7,1284.3 L474.9,1284.6 L475.2,1284.9 L475.4,1285.1 L475.6,1285.4 L475.9,1285.7 L476.1,1286.0 L476.1,1286.4 L475.4,1287.3 L474.6,1288.2 L473.8,1289.0 L473.2,1289.7 L473.3,1289.9 L473.5,1290.1 L473.6,1290.4 L473.7,1290.6 L473.8,1290.8 L473.9,1291.1 L474.0,1291.3 L474.0,1291.6 L474.1,1291.8 L474.2,1292.0 L475.1,1292.1 L476.2,1292.1 L477.4,1292.2 L478.6,1292.3 L478.8,1292.6 L478.9,1293.0 L478.9,1293.3 L479.0,1293.7 L479.0,1294.1 L479.0,1294.4Z" fill="url(#gGear)"/>
<circle cx="464.2" cy="1294.8" r="7.0" fill="#2e2e2e"/>
<circle cx="464.2" cy="1294.8" r="4.4" fill="#595959"/>
<circle cx="464.2" cy="1294.8" r="1.8" fill="#f0f0f0"/>
<path d="M453.1,1320.7 L453.0,1321.2 L453.0,1321.7 L452.9,1322.2 L452.8,1322.7 L452.7,1323.2 L452.6,1323.6 L452.1,1324.0 L450.4,1324.0 L448.6,1324.0 L446.9,1323.8 L445.5,1323.8 L445.4,1324.1 L445.3,1324.4 L445.2,1324.7 L445.0,1325.0 L444.9,1325.3 L444.7,1325.6 L444.6,1325.9 L444.4,1326.3 L444.2,1326.5 L444.1,1326.8 L445.0,1327.9 L446.1,1329.1 L447.3,1330.4 L448.4,1331.8 L448.4,1332.4 L448.1,1332.8 L447.8,1333.2 L447.4,1333.5 L447.1,1333.9 L446.8,1334.3 L446.4,1334.6 L446.1,1334.9 L445.7,1335.3 L445.3,1335.6 L444.9,1335.9 L444.6,1336.2 L444.2,1336.5 L443.6,1336.5 L442.2,1335.4 L440.9,1334.2 L439.7,1333.0 L438.7,1332.1 L438.4,1332.2 L438.1,1332.4 L437.8,1332.6 L437.5,1332.7 L437.2,1332.9 L436.9,1333.0 L436.5,1333.1 L436.2,1333.3 L435.9,1333.4 L435.6,1333.5 L435.6,1334.9 L435.7,1336.5 L435.7,1338.3 L435.7,1340.1 L435.3,1340.5 L434.8,1340.6 L434.3,1340.7 L433.8,1340.8 L433.4,1340.8 L432.9,1340.9 L432.4,1340.9 L431.9,1341.0 L431.4,1341.0 L430.9,1341.0 L430.4,1341.0 L429.9,1341.0 L429.4,1341.0 L429.0,1340.6 L428.7,1338.8 L428.4,1337.1 L428.3,1335.4 L428.1,1334.0 L427.8,1334.0 L427.4,1333.9 L427.1,1333.8 L426.8,1333.7 L426.4,1333.7 L426.1,1333.6 L425.8,1333.5 L425.4,1333.3 L425.1,1333.2 L424.8,1333.1 L424.0,1334.2 L422.9,1335.5 L421.8,1336.9 L420.6,1338.2 L420.1,1338.3 L419.6,1338.1 L419.2,1337.8 L418.8,1337.6 L418.4,1337.3 L418.0,1337.0 L417.6,1336.8 L417.2,1336.5 L416.8,1336.2 L416.4,1335.9 L416.0,1335.6 L415.7,1335.2 L415.3,1334.9 L415.2,1334.3 L416.1,1332.8 L417.0,1331.3 L418.0,1329.9 L418.7,1328.7 L418.5,1328.5 L418.3,1328.2 L418.1,1327.9 L417.9,1327.7 L417.7,1327.4 L417.5,1327.1 L417.3,1326.8 L417.1,1326.5 L417.0,1326.2 L416.8,1325.9 L415.4,1326.2 L413.8,1326.6 L412.1,1326.9 L410.3,1327.2 L409.8,1326.8 L409.6,1326.4 L409.5,1325.9 L409.3,1325.5 L409.2,1325.0 L409.0,1324.5 L408.9,1324.0 L408.8,1323.6 L408.7,1323.1 L408.6,1322.6 L408.5,1322.1 L408.4,1321.6 L408.4,1321.2 L408.6,1320.6 L410.3,1320.0 L412.0,1319.5 L413.6,1319.0 L415.0,1318.6 L415.0,1318.3 L415.0,1318.0 L415.0,1317.6 L415.0,1317.3 L415.0,1316.9 L415.1,1316.6 L415.1,1316.2 L415.2,1315.9 L415.2,1315.6 L415.3,1315.2 L414.1,1314.6 L412.6,1313.8 L411.0,1313.0 L409.5,1312.0 L409.3,1311.5 L409.5,1311.0 L409.7,1310.5 L409.8,1310.1 L410.0,1309.6 L410.2,1309.2 L410.4,1308.7 L410.6,1308.3 L410.9,1307.9 L411.1,1307.4 L411.4,1307.0 L411.6,1306.6 L411.9,1306.2 L412.4,1306.0 L414.1,1306.6 L415.7,1307.2 L417.3,1307.9 L418.5,1308.5 L418.8,1308.2 L419.0,1308.0 L419.2,1307.7 L419.5,1307.5 L419.7,1307.2 L420.0,1307.0 L420.2,1306.8 L420.5,1306.5 L420.7,1306.3 L421.0,1306.1 L420.5,1304.8 L419.8,1303.3 L419.2,1301.6 L418.6,1299.9 L418.9,1299.4 L419.3,1299.1 L419.7,1298.9 L420.1,1298.6 L420.6,1298.4 L421.0,1298.2 L421.5,1298.0 L421.9,1297.8 L422.4,1297.6 L422.8,1297.4 L423.3,1297.3 L423.7,1297.1 L424.2,1297.0 L424.8,1297.2 L425.7,1298.7 L426.5,1300.3 L427.2,1301.8 L427.8,1303.0 L428.2,1303.0 L428.5,1302.9 L428.8,1302.9 L429.2,1302.8 L429.5,1302.8 L429.9,1302.8 L430.2,1302.8 L430.6,1302.8 L430.9,1302.8 L431.2,1302.8 L431.7,1301.4 L432.2,1299.8 L432.7,1298.2 L433.4,1296.5 L433.9,1296.2 L434.4,1296.3 L434.9,1296.4 L435.4,1296.5 L435.8,1296.6 L436.3,1296.7 L436.8,1296.8 L437.3,1297.0 L437.7,1297.1 L438.2,1297.3 L438.7,1297.5 L439.1,1297.6 L439.6,1297.8 L439.9,1298.3 L439.6,1300.1 L439.2,1301.8 L438.8,1303.4 L438.5,1304.8 L438.7,1305.0 L439.0,1305.1 L439.3,1305.3 L439.6,1305.5 L439.9,1305.7 L440.2,1305.9 L440.4,1306.1 L440.7,1306.3 L441.0,1306.6 L441.2,1306.8 L442.4,1306.1 L443.8,1305.1 L445.3,1304.2 L446.9,1303.4 L447.5,1303.5 L447.8,1303.9 L448.1,1304.3 L448.4,1304.6 L448.7,1305.0 L449.0,1305.4 L449.3,1305.8 L449.6,1306.2 L449.8,1306.7 L450.1,1307.1 L450.3,1307.5 L450.6,1307.9 L450.8,1308.4 L450.7,1309.0 L449.3,1310.1 L447.9,1311.2 L446.6,1312.2 L445.5,1313.0 L445.6,1313.3 L445.7,1313.6 L445.8,1314.0 L445.9,1314.3 L446.0,1314.6 L446.0,1315.0 L446.1,1315.3 L446.2,1315.6 L446.2,1316.0 L446.3,1316.3 L447.7,1316.5 L449.3,1316.7 L451.1,1317.0 L452.8,1317.3 L453.2,1317.8 L453.2,1318.3 L453.2,1318.8 L453.2,1319.3 L453.2,1319.8 L453.1,1320.3Z" fill="#000" opacity="0.35" transform="translate(1,1.5)"/>
<path d="M453.1,1320.7 L453.0,1321.2 L453.0,1321.7 L452.9,1322.2 L452.8,1322.7 L452.7,1323.2 L452.6,1323.6 L452.1,1324.0 L450.4,1324.0 L448.6,1324.0 L446.9,1323.8 L445.5,1323.8 L445.4,1324.1 L445.3,1324.4 L445.2,1324.7 L445.0,1325.0 L444.9,1325.3 L444.7,1325.6 L444.6,1325.9 L444.4,1326.3 L444.2,1326.5 L444.1,1326.8 L445.0,1327.9 L446.1,1329.1 L447.3,1330.4 L448.4,1331.8 L448.4,1332.4 L448.1,1332.8 L447.8,1333.2 L447.4,1333.5 L447.1,1333.9 L446.8,1334.3 L446.4,1334.6 L446.1,1334.9 L445.7,1335.3 L445.3,1335.6 L444.9,1335.9 L444.6,1336.2 L444.2,1336.5 L443.6,1336.5 L442.2,1335.4 L440.9,1334.2 L439.7,1333.0 L438.7,1332.1 L438.4,1332.2 L438.1,1332.4 L437.8,1332.6 L437.5,1332.7 L437.2,1332.9 L436.9,1333.0 L436.5,1333.1 L436.2,1333.3 L435.9,1333.4 L435.6,1333.5 L435.6,1334.9 L435.7,1336.5 L435.7,1338.3 L435.7,1340.1 L435.3,1340.5 L434.8,1340.6 L434.3,1340.7 L433.8,1340.8 L433.4,1340.8 L432.9,1340.9 L432.4,1340.9 L431.9,1341.0 L431.4,1341.0 L430.9,1341.0 L430.4,1341.0 L429.9,1341.0 L429.4,1341.0 L429.0,1340.6 L428.7,1338.8 L428.4,1337.1 L428.3,1335.4 L428.1,1334.0 L427.8,1334.0 L427.4,1333.9 L427.1,1333.8 L426.8,1333.7 L426.4,1333.7 L426.1,1333.6 L425.8,1333.5 L425.4,1333.3 L425.1,1333.2 L424.8,1333.1 L424.0,1334.2 L422.9,1335.5 L421.8,1336.9 L420.6,1338.2 L420.1,1338.3 L419.6,1338.1 L419.2,1337.8 L418.8,1337.6 L418.4,1337.3 L418.0,1337.0 L417.6,1336.8 L417.2,1336.5 L416.8,1336.2 L416.4,1335.9 L416.0,1335.6 L415.7,1335.2 L415.3,1334.9 L415.2,1334.3 L416.1,1332.8 L417.0,1331.3 L418.0,1329.9 L418.7,1328.7 L418.5,1328.5 L418.3,1328.2 L418.1,1327.9 L417.9,1327.7 L417.7,1327.4 L417.5,1327.1 L417.3,1326.8 L417.1,1326.5 L417.0,1326.2 L416.8,1325.9 L415.4,1326.2 L413.8,1326.6 L412.1,1326.9 L410.3,1327.2 L409.8,1326.8 L409.6,1326.4 L409.5,1325.9 L409.3,1325.5 L409.2,1325.0 L409.0,1324.5 L408.9,1324.0 L408.8,1323.6 L408.7,1323.1 L408.6,1322.6 L408.5,1322.1 L408.4,1321.6 L408.4,1321.2 L408.6,1320.6 L410.3,1320.0 L412.0,1319.5 L413.6,1319.0 L415.0,1318.6 L415.0,1318.3 L415.0,1318.0 L415.0,1317.6 L415.0,1317.3 L415.0,1316.9 L415.1,1316.6 L415.1,1316.2 L415.2,1315.9 L415.2,1315.6 L415.3,1315.2 L414.1,1314.6 L412.6,1313.8 L411.0,1313.0 L409.5,1312.0 L409.3,1311.5 L409.5,1311.0 L409.7,1310.5 L409.8,1310.1 L410.0,1309.6 L410.2,1309.2 L410.4,1308.7 L410.6,1308.3 L410.9,1307.9 L411.1,1307.4 L411.4,1307.0 L411.6,1306.6 L411.9,1306.2 L412.4,1306.0 L414.1,1306.6 L415.7,1307.2 L417.3,1307.9 L418.5,1308.5 L418.8,1308.2 L419.0,1308.0 L419.2,1307.7 L419.5,1307.5 L419.7,1307.2 L420.0,1307.0 L420.2,1306.8 L420.5,1306.5 L420.7,1306.3 L421.0,1306.1 L420.5,1304.8 L419.8,1303.3 L419.2,1301.6 L418.6,1299.9 L418.9,1299.4 L419.3,1299.1 L419.7,1298.9 L420.1,1298.6 L420.6,1298.4 L421.0,1298.2 L421.5,1298.0 L421.9,1297.8 L422.4,1297.6 L422.8,1297.4 L423.3,1297.3 L423.7,1297.1 L424.2,1297.0 L424.8,1297.2 L425.7,1298.7 L426.5,1300.3 L427.2,1301.8 L427.8,1303.0 L428.2,1303.0 L428.5,1302.9 L428.8,1302.9 L429.2,1302.8 L429.5,1302.8 L429.9,1302.8 L430.2,1302.8 L430.6,1302.8 L430.9,1302.8 L431.2,1302.8 L431.7,1301.4 L432.2,1299.8 L432.7,1298.2 L433.4,1296.5 L433.9,1296.2 L434.4,1296.3 L434.9,1296.4 L435.4,1296.5 L435.8,1296.6 L436.3,1296.7 L436.8,1296.8 L437.3,1297.0 L437.7,1297.1 L438.2,1297.3 L438.7,1297.5 L439.1,1297.6 L439.6,1297.8 L439.9,1298.3 L439.6,1300.1 L439.2,1301.8 L438.8,1303.4 L438.5,1304.8 L438.7,1305.0 L439.0,1305.1 L439.3,1305.3 L439.6,1305.5 L439.9,1305.7 L440.2,1305.9 L440.4,1306.1 L440.7,1306.3 L441.0,1306.6 L441.2,1306.8 L442.4,1306.1 L443.8,1305.1 L445.3,1304.2 L446.9,1303.4 L447.5,1303.5 L447.8,1303.9 L448.1,1304.3 L448.4,1304.6 L448.7,1305.0 L449.0,1305.4 L449.3,1305.8 L449.6,1306.2 L449.8,1306.7 L450.1,1307.1 L450.3,1307.5 L450.6,1307.9 L450.8,1308.4 L450.7,1309.0 L449.3,1310.1 L447.9,1311.2 L446.6,1312.2 L445.5,1313.0 L445.6,1313.3 L445.7,1313.6 L445.8,1314.0 L445.9,1314.3 L446.0,1314.6 L446.0,1315.0 L446.1,1315.3 L446.2,1315.6 L446.2,1316.0 L446.3,1316.3 L447.7,1316.5 L449.3,1316.7 L451.1,1317.0 L452.8,1317.3 L453.2,1317.8 L453.2,1318.3 L453.2,1318.8 L453.2,1319.3 L453.2,1319.8 L453.1,1320.3Z" fill="url(#gGear)"/>
<circle cx="430.7" cy="1318.5" r="10.6" fill="#2e2e2e"/>
<circle cx="430.7" cy="1318.5" r="6.8" fill="#595959"/>
<circle cx="430.7" cy="1318.5" r="2.7" fill="#f0f0f0"/>
<path d="M574,1310 L793.5,1310 A12.5,12.5 0 0 1 793.5,1335 L574,1335 Z" fill="url(#gBelt)" stroke="#8d8d8d" stroke-width="0.8"/>
<path d="M609.1,1323.2 L609.1,1323.4 L609.1,1323.6 L609.0,1323.8 L609.0,1323.9 L608.9,1324.1 L608.7,1324.2 L608.2,1324.3 L607.8,1324.2 L607.3,1324.2 L606.9,1324.2 L606.7,1324.2 L606.6,1324.4 L606.6,1324.5 L606.5,1324.6 L606.4,1324.7 L606.3,1324.8 L606.3,1324.9 L606.2,1325.1 L606.1,1325.2 L606.0,1325.3 L605.9,1325.4 L606.0,1325.6 L606.2,1326.0 L606.3,1326.4 L606.5,1326.8 L606.7,1327.2 L606.6,1327.5 L606.5,1327.6 L606.4,1327.7 L606.2,1327.8 L606.1,1327.9 L605.9,1328.0 L605.7,1328.1 L605.6,1328.2 L605.4,1328.3 L605.3,1328.4 L605.1,1328.5 L604.9,1328.4 L604.5,1328.1 L604.2,1327.8 L603.9,1327.5 L603.6,1327.1 L603.4,1327.0 L603.3,1327.1 L603.2,1327.1 L603.0,1327.1 L602.9,1327.2 L602.8,1327.2 L602.6,1327.2 L602.5,1327.2 L602.4,1327.3 L602.2,1327.3 L602.1,1327.3 L602.0,1327.5 L601.8,1327.9 L601.7,1328.3 L601.5,1328.7 L601.3,1329.1 L601.1,1329.3 L600.9,1329.3 L600.7,1329.2 L600.6,1329.2 L600.4,1329.2 L600.2,1329.1 L600.0,1329.1 L599.8,1329.1 L599.6,1329.0 L599.5,1329.0 L599.3,1328.9 L599.2,1328.7 L599.1,1328.2 L599.2,1327.8 L599.2,1327.3 L599.2,1326.9 L599.2,1326.7 L599.0,1326.6 L598.9,1326.6 L598.8,1326.5 L598.7,1326.4 L598.6,1326.3 L598.5,1326.3 L598.3,1326.2 L598.2,1326.1 L598.1,1326.0 L598.0,1325.9 L597.8,1326.0 L597.4,1326.2 L597.0,1326.3 L596.6,1326.5 L596.2,1326.7 L595.9,1326.6 L595.8,1326.5 L595.7,1326.4 L595.6,1326.2 L595.5,1326.1 L595.4,1325.9 L595.3,1325.7 L595.2,1325.6 L595.1,1325.4 L595.0,1325.3 L594.9,1325.1 L595.0,1324.9 L595.3,1324.5 L595.6,1324.2 L595.9,1323.9 L596.3,1323.6 L596.4,1323.4 L596.3,1323.3 L596.3,1323.2 L596.3,1323.0 L596.2,1322.9 L596.2,1322.8 L596.2,1322.6 L596.2,1322.5 L596.1,1322.4 L596.1,1322.2 L596.1,1322.1 L595.9,1322.0 L595.5,1321.8 L595.1,1321.7 L594.7,1321.5 L594.3,1321.3 L594.1,1321.1 L594.1,1320.9 L594.2,1320.7 L594.2,1320.6 L594.2,1320.4 L594.3,1320.2 L594.3,1320.0 L594.3,1319.8 L594.4,1319.6 L594.4,1319.5 L594.5,1319.3 L594.7,1319.2 L595.2,1319.1 L595.6,1319.2 L596.1,1319.2 L596.5,1319.2 L596.7,1319.2 L596.8,1319.0 L596.8,1318.9 L596.9,1318.8 L597.0,1318.7 L597.1,1318.6 L597.1,1318.5 L597.2,1318.3 L597.3,1318.2 L597.4,1318.1 L597.5,1318.0 L597.4,1317.8 L597.2,1317.4 L597.1,1317.0 L596.9,1316.6 L596.7,1316.2 L596.8,1315.9 L596.9,1315.8 L597.0,1315.7 L597.2,1315.6 L597.3,1315.5 L597.5,1315.4 L597.7,1315.3 L597.8,1315.2 L598.0,1315.1 L598.1,1315.0 L598.3,1314.9 L598.5,1315.0 L598.9,1315.3 L599.2,1315.6 L599.5,1315.9 L599.8,1316.3 L600.0,1316.4 L600.1,1316.3 L600.2,1316.3 L600.4,1316.3 L600.5,1316.2 L600.6,1316.2 L600.8,1316.2 L600.9,1316.2 L601.0,1316.1 L601.2,1316.1 L601.3,1316.1 L601.4,1315.9 L601.6,1315.5 L601.7,1315.1 L601.9,1314.7 L602.1,1314.3 L602.3,1314.1 L602.5,1314.1 L602.7,1314.2 L602.8,1314.2 L603.0,1314.2 L603.2,1314.3 L603.4,1314.3 L603.6,1314.3 L603.8,1314.4 L603.9,1314.4 L604.1,1314.5 L604.2,1314.7 L604.3,1315.2 L604.2,1315.6 L604.2,1316.1 L604.2,1316.5 L604.2,1316.7 L604.4,1316.8 L604.5,1316.8 L604.6,1316.9 L604.7,1317.0 L604.8,1317.1 L604.9,1317.1 L605.1,1317.2 L605.2,1317.3 L605.3,1317.4 L605.4,1317.5 L605.6,1317.4 L606.0,1317.2 L606.4,1317.1 L606.8,1316.9 L607.2,1316.7 L607.5,1316.8 L607.6,1316.9 L607.7,1317.0 L607.8,1317.2 L607.9,1317.3 L608.0,1317.5 L608.1,1317.7 L608.2,1317.8 L608.3,1318.0 L608.4,1318.1 L608.5,1318.3 L608.4,1318.5 L608.1,1318.9 L607.8,1319.2 L607.5,1319.5 L607.1,1319.8 L607.0,1320.0 L607.1,1320.1 L607.1,1320.2 L607.1,1320.4 L607.2,1320.5 L607.2,1320.6 L607.2,1320.8 L607.2,1320.9 L607.3,1321.0 L607.3,1321.2 L607.3,1321.3 L607.5,1321.4 L607.9,1321.6 L608.3,1321.7 L608.7,1321.9 L609.1,1322.1 L609.3,1322.3 L609.3,1322.5 L609.2,1322.7 L609.2,1322.8 L609.2,1323.0Z" fill="#bdbdbd" stroke="#5a5a5a" stroke-width="1.6"/>
<circle cx="601.7" cy="1321.7" r="1.3" fill="#555"/>
<path d="M665.7,1323.2 L665.7,1323.4 L665.7,1323.6 L665.6,1323.8 L665.6,1323.9 L665.5,1324.1 L665.3,1324.2 L664.8,1324.3 L664.4,1324.2 L663.9,1324.2 L663.5,1324.2 L663.3,1324.2 L663.2,1324.4 L663.2,1324.5 L663.1,1324.6 L663.0,1324.7 L662.9,1324.8 L662.9,1324.9 L662.8,1325.1 L662.7,1325.2 L662.6,1325.3 L662.5,1325.4 L662.6,1325.6 L662.8,1326.0 L662.9,1326.4 L663.1,1326.8 L663.3,1327.2 L663.2,1327.5 L663.1,1327.6 L663.0,1327.7 L662.8,1327.8 L662.7,1327.9 L662.5,1328.0 L662.3,1328.1 L662.2,1328.2 L662.0,1328.3 L661.9,1328.4 L661.7,1328.5 L661.5,1328.4 L661.1,1328.1 L660.8,1327.8 L660.5,1327.5 L660.2,1327.1 L660.0,1327.0 L659.9,1327.1 L659.8,1327.1 L659.6,1327.1 L659.5,1327.2 L659.4,1327.2 L659.2,1327.2 L659.1,1327.2 L659.0,1327.3 L658.8,1327.3 L658.7,1327.3 L658.6,1327.5 L658.4,1327.9 L658.3,1328.3 L658.1,1328.7 L657.9,1329.1 L657.7,1329.3 L657.5,1329.3 L657.3,1329.2 L657.2,1329.2 L657.0,1329.2 L656.8,1329.1 L656.6,1329.1 L656.4,1329.1 L656.2,1329.0 L656.1,1329.0 L655.9,1328.9 L655.8,1328.7 L655.7,1328.2 L655.8,1327.8 L655.8,1327.3 L655.8,1326.9 L655.8,1326.7 L655.6,1326.6 L655.5,1326.6 L655.4,1326.5 L655.3,1326.4 L655.2,1326.3 L655.1,1326.3 L654.9,1326.2 L654.8,1326.1 L654.7,1326.0 L654.6,1325.9 L654.4,1326.0 L654.0,1326.2 L653.6,1326.3 L653.2,1326.5 L652.8,1326.7 L652.5,1326.6 L652.4,1326.5 L652.3,1326.4 L652.2,1326.2 L652.1,1326.1 L652.0,1325.9 L651.9,1325.7 L651.8,1325.6 L651.7,1325.4 L651.6,1325.3 L651.5,1325.1 L651.6,1324.9 L651.9,1324.5 L652.2,1324.2 L652.5,1323.9 L652.9,1323.6 L653.0,1323.4 L652.9,1323.3 L652.9,1323.2 L652.9,1323.0 L652.8,1322.9 L652.8,1322.8 L652.8,1322.6 L652.8,1322.5 L652.7,1322.4 L652.7,1322.2 L652.7,1322.1 L652.5,1322.0 L652.1,1321.8 L651.7,1321.7 L651.3,1321.5 L650.9,1321.3 L650.7,1321.1 L650.7,1320.9 L650.8,1320.7 L650.8,1320.6 L650.8,1320.4 L650.9,1320.2 L650.9,1320.0 L650.9,1319.8 L651.0,1319.6 L651.0,1319.5 L651.1,1319.3 L651.3,1319.2 L651.8,1319.1 L652.2,1319.2 L652.7,1319.2 L653.1,1319.2 L653.3,1319.2 L653.4,1319.0 L653.4,1318.9 L653.5,1318.8 L653.6,1318.7 L653.7,1318.6 L653.7,1318.5 L653.8,1318.3 L653.9,1318.2 L654.0,1318.1 L654.1,1318.0 L654.0,1317.8 L653.8,1317.4 L653.7,1317.0 L653.5,1316.6 L653.3,1316.2 L653.4,1315.9 L653.5,1315.8 L653.6,1315.7 L653.8,1315.6 L653.9,1315.5 L654.1,1315.4 L654.3,1315.3 L654.4,1315.2 L654.6,1315.1 L654.7,1315.0 L654.9,1314.9 L655.1,1315.0 L655.5,1315.3 L655.8,1315.6 L656.1,1315.9 L656.4,1316.3 L656.6,1316.4 L656.7,1316.3 L656.8,1316.3 L657.0,1316.3 L657.1,1316.2 L657.2,1316.2 L657.4,1316.2 L657.5,1316.2 L657.6,1316.1 L657.8,1316.1 L657.9,1316.1 L658.0,1315.9 L658.2,1315.5 L658.3,1315.1 L658.5,1314.7 L658.7,1314.3 L658.9,1314.1 L659.1,1314.1 L659.3,1314.2 L659.4,1314.2 L659.6,1314.2 L659.8,1314.3 L660.0,1314.3 L660.2,1314.3 L660.4,1314.4 L660.5,1314.4 L660.7,1314.5 L660.8,1314.7 L660.9,1315.2 L660.8,1315.6 L660.8,1316.1 L660.8,1316.5 L660.8,1316.7 L661.0,1316.8 L661.1,1316.8 L661.2,1316.9 L661.3,1317.0 L661.4,1317.1 L661.5,1317.1 L661.7,1317.2 L661.8,1317.3 L661.9,1317.4 L662.0,1317.5 L662.2,1317.4 L662.6,1317.2 L663.0,1317.1 L663.4,1316.9 L663.8,1316.7 L664.1,1316.8 L664.2,1316.9 L664.3,1317.0 L664.4,1317.2 L664.5,1317.3 L664.6,1317.5 L664.7,1317.7 L664.8,1317.8 L664.9,1318.0 L665.0,1318.1 L665.1,1318.3 L665.0,1318.5 L664.7,1318.9 L664.4,1319.2 L664.1,1319.5 L663.7,1319.8 L663.6,1320.0 L663.7,1320.1 L663.7,1320.2 L663.7,1320.4 L663.8,1320.5 L663.8,1320.6 L663.8,1320.8 L663.8,1320.9 L663.9,1321.0 L663.9,1321.2 L663.9,1321.3 L664.1,1321.4 L664.5,1321.6 L664.9,1321.7 L665.3,1321.9 L665.7,1322.1 L665.9,1322.3 L665.9,1322.5 L665.8,1322.7 L665.8,1322.8 L665.8,1323.0Z" fill="#bdbdbd" stroke="#5a5a5a" stroke-width="1.6"/>
<circle cx="658.3" cy="1321.7" r="1.3" fill="#555"/>
<path d="M720.7,1323.2 L720.7,1323.4 L720.7,1323.6 L720.6,1323.8 L720.6,1323.9 L720.5,1324.1 L720.3,1324.2 L719.8,1324.3 L719.4,1324.2 L718.9,1324.2 L718.5,1324.2 L718.3,1324.2 L718.2,1324.4 L718.2,1324.5 L718.1,1324.6 L718.0,1324.7 L717.9,1324.8 L717.9,1324.9 L717.8,1325.1 L717.7,1325.2 L717.6,1325.3 L717.5,1325.4 L717.6,1325.6 L717.8,1326.0 L717.9,1326.4 L718.1,1326.8 L718.3,1327.2 L718.2,1327.5 L718.1,1327.6 L718.0,1327.7 L717.8,1327.8 L717.7,1327.9 L717.5,1328.0 L717.3,1328.1 L717.2,1328.2 L717.0,1328.3 L716.9,1328.4 L716.7,1328.5 L716.5,1328.4 L716.1,1328.1 L715.8,1327.8 L715.5,1327.5 L715.2,1327.1 L715.0,1327.0 L714.9,1327.1 L714.8,1327.1 L714.6,1327.1 L714.5,1327.2 L714.4,1327.2 L714.2,1327.2 L714.1,1327.2 L714.0,1327.3 L713.8,1327.3 L713.7,1327.3 L713.6,1327.5 L713.4,1327.9 L713.3,1328.3 L713.1,1328.7 L712.9,1329.1 L712.7,1329.3 L712.5,1329.3 L712.3,1329.2 L712.2,1329.2 L712.0,1329.2 L711.8,1329.1 L711.6,1329.1 L711.4,1329.1 L711.2,1329.0 L711.1,1329.0 L710.9,1328.9 L710.8,1328.7 L710.7,1328.2 L710.8,1327.8 L710.8,1327.3 L710.8,1326.9 L710.8,1326.7 L710.6,1326.6 L710.5,1326.6 L710.4,1326.5 L710.3,1326.4 L710.2,1326.3 L710.1,1326.3 L709.9,1326.2 L709.8,1326.1 L709.7,1326.0 L709.6,1325.9 L709.4,1326.0 L709.0,1326.2 L708.6,1326.3 L708.2,1326.5 L707.8,1326.7 L707.5,1326.6 L707.4,1326.5 L707.3,1326.4 L707.2,1326.2 L707.1,1326.1 L707.0,1325.9 L706.9,1325.7 L706.8,1325.6 L706.7,1325.4 L706.6,1325.3 L706.5,1325.1 L706.6,1324.9 L706.9,1324.5 L707.2,1324.2 L707.5,1323.9 L707.9,1323.6 L708.0,1323.4 L707.9,1323.3 L707.9,1323.2 L707.9,1323.0 L707.8,1322.9 L707.8,1322.8 L707.8,1322.6 L707.8,1322.5 L707.7,1322.4 L707.7,1322.2 L707.7,1322.1 L707.5,1322.0 L707.1,1321.8 L706.7,1321.7 L706.3,1321.5 L705.9,1321.3 L705.7,1321.1 L705.7,1320.9 L705.8,1320.7 L705.8,1320.6 L705.8,1320.4 L705.9,1320.2 L705.9,1320.0 L705.9,1319.8 L706.0,1319.6 L706.0,1319.5 L706.1,1319.3 L706.3,1319.2 L706.8,1319.1 L707.2,1319.2 L707.7,1319.2 L708.1,1319.2 L708.3,1319.2 L708.4,1319.0 L708.4,1318.9 L708.5,1318.8 L708.6,1318.7 L708.7,1318.6 L708.7,1318.5 L708.8,1318.3 L708.9,1318.2 L709.0,1318.1 L709.1,1318.0 L709.0,1317.8 L708.8,1317.4 L708.7,1317.0 L708.5,1316.6 L708.3,1316.2 L708.4,1315.9 L708.5,1315.8 L708.6,1315.7 L708.8,1315.6 L708.9,1315.5 L709.1,1315.4 L709.3,1315.3 L709.4,1315.2 L709.6,1315.1 L709.7,1315.0 L709.9,1314.9 L710.1,1315.0 L710.5,1315.3 L710.8,1315.6 L711.1,1315.9 L711.4,1316.3 L711.6,1316.4 L711.7,1316.3 L711.8,1316.3 L712.0,1316.3 L712.1,1316.2 L712.2,1316.2 L712.4,1316.2 L712.5,1316.2 L712.6,1316.1 L712.8,1316.1 L712.9,1316.1 L713.0,1315.9 L713.2,1315.5 L713.3,1315.1 L713.5,1314.7 L713.7,1314.3 L713.9,1314.1 L714.1,1314.1 L714.3,1314.2 L714.4,1314.2 L714.6,1314.2 L714.8,1314.3 L715.0,1314.3 L715.2,1314.3 L715.4,1314.4 L715.5,1314.4 L715.7,1314.5 L715.8,1314.7 L715.9,1315.2 L715.8,1315.6 L715.8,1316.1 L715.8,1316.5 L715.8,1316.7 L716.0,1316.8 L716.1,1316.8 L716.2,1316.9 L716.3,1317.0 L716.4,1317.1 L716.5,1317.1 L716.7,1317.2 L716.8,1317.3 L716.9,1317.4 L717.0,1317.5 L717.2,1317.4 L717.6,1317.2 L718.0,1317.1 L718.4,1316.9 L718.8,1316.7 L719.1,1316.8 L719.2,1316.9 L719.3,1317.0 L719.4,1317.2 L719.5,1317.3 L719.6,1317.5 L719.7,1317.7 L719.8,1317.8 L719.9,1318.0 L720.0,1318.1 L720.1,1318.3 L720.0,1318.5 L719.7,1318.9 L719.4,1319.2 L719.1,1319.5 L718.7,1319.8 L718.6,1320.0 L718.7,1320.1 L718.7,1320.2 L718.7,1320.4 L718.8,1320.5 L718.8,1320.6 L718.8,1320.8 L718.8,1320.9 L718.9,1321.0 L718.9,1321.2 L718.9,1321.3 L719.1,1321.4 L719.5,1321.6 L719.9,1321.7 L720.3,1321.9 L720.7,1322.1 L720.9,1322.3 L720.9,1322.5 L720.8,1322.7 L720.8,1322.8 L720.8,1323.0Z" fill="#bdbdbd" stroke="#5a5a5a" stroke-width="1.6"/>
<circle cx="713.3" cy="1321.7" r="1.3" fill="#555"/>
<polygon points="542.5,1215.4 560.7,1203.3 560.7,1352.3 542.5,1339.3" fill="url(#gCone)"/>
<rect x="560.7" y="1203.3" width="15.6" height="149.0" rx="1.5" fill="url(#gRim)" />
<rect x="560.7" y="1203.3" width="15.6" height="149" rx="1.5" fill="url(#gPlateV)"/>
<polygon points="595,1232 603.3,1230 603.3,1303.3 595,1297" fill="#0a4f22"/>
<polygon points="603.3,1230 650,1225.5 650,1286.5 603.3,1303.3" fill="url(#gBinder)"/>
<polygon points="595,1232 638,1227.2 638,1225.2 646.5,1224.3 646.5,1226 650,1225.5 603.3,1230.8" fill="#2a8f49"/>
<polygon points="663.3,1232 671.5999999999999,1230 671.5999999999999,1303.3 663.3,1297" fill="#0a4f22"/>
<polygon points="671.5999999999999,1230 718.3,1225.5 718.3,1286.5 671.5999999999999,1303.3" fill="url(#gBinder)"/>
<polygon points="663.3,1232 706.3,1227.2 706.3,1225.2 714.8,1224.3 714.8,1226 718.3,1225.5 671.5999999999999,1230.8" fill="#2a8f49"/>
<path d="M730.7,1277 Q744,1268 746,1262 Q734,1254 734,1240 A43.3,33 0 1 1 777.3,1273 Q768,1273 760,1270.5 Q748,1275.5 730.7,1277 Z" fill="url(#gBubble)"/>
<text x="750" y="1237.5" font-family="DejaVu Serif, Liberation Serif, serif" font-weight="bold" font-size="21" fill="#fff" textLength="33.5" lengthAdjust="spacingAndGlyphs">I'm</text>
<text x="750" y="1254.3" font-family="DejaVu Serif, Liberation Serif, serif" font-weight="bold" font-size="21" fill="#fff" textLength="57.5" lengthAdjust="spacingAndGlyphs">green</text>
</svg>
</body></html>
